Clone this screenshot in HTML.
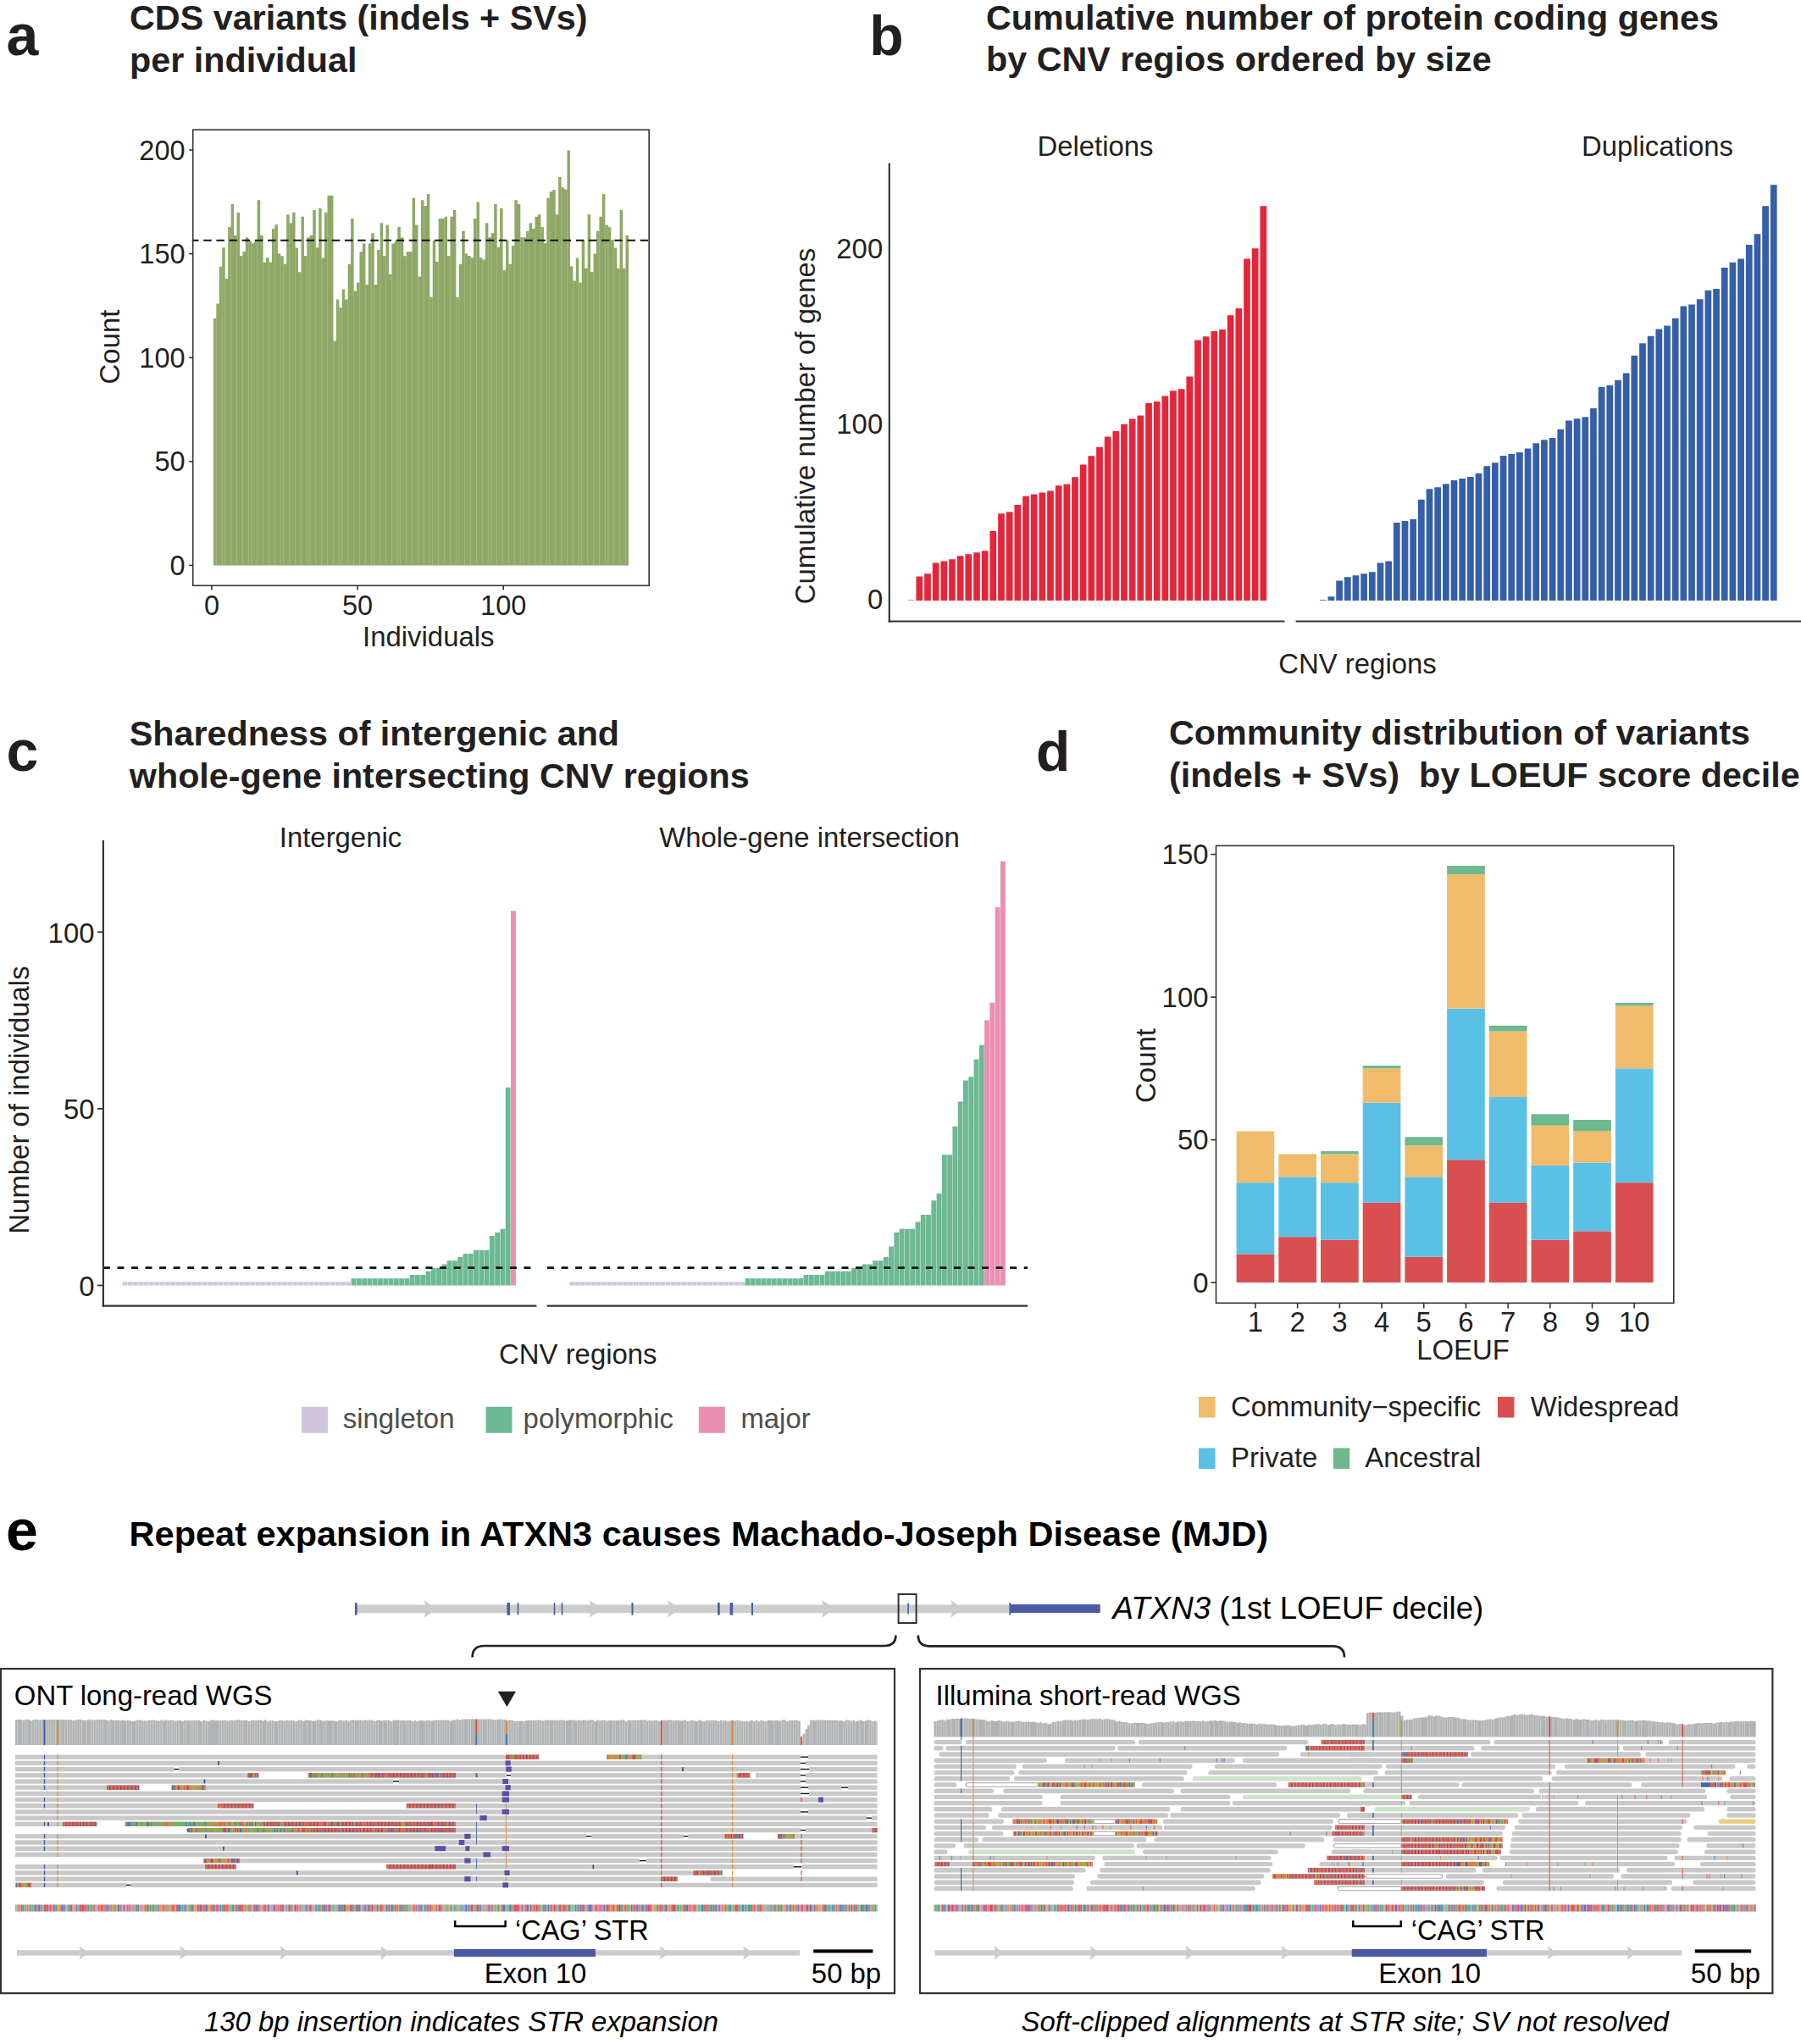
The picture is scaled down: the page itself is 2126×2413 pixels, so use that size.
<!DOCTYPE html>
<html lang="en"><head><meta charset="utf-8"><title>Figure</title>
<style>
html,body{margin:0;padding:0;background:#fff;}
body{width:2126px;height:2413px;overflow:hidden;}
svg{display:block;font-family:'Liberation Sans', Arial, Helvetica, sans-serif;}
</style></head><body>
<svg width="2126" height="2413" viewBox="0 0 2126 2413">
<rect width="2126" height="2413" fill="#ffffff"/>
<g id="panel-a">
<text x="7.6" y="65.4" font-size="68" text-anchor="start" font-weight="bold" font-style="normal" fill="#231f20">a</text>
<text x="153" y="35" font-size="41.3" text-anchor="start" font-weight="bold" font-style="normal" fill="#231f20">CDS variants (indels + SVs)</text>
<text x="153" y="84.6" font-size="41.3" text-anchor="start" font-weight="bold" font-style="normal" fill="#231f20">per individual</text>
<path d="M251.9 667.4V375.64h3.5V667.4zM255.35 667.4V358.57h3.5V667.4zM258.8 667.4V314.65h3.5V667.4zM262.25 667.4V292.31h3.5V667.4zM265.7 667.4V329.09h3.5V667.4zM269.16 667.4V268.1h3.5V667.4zM272.61 667.4V241.09h3.5V667.4zM276.06 667.4V277.87h3.5V667.4zM279.51 667.4V251.03h3.5V667.4zM282.96 667.4V301.93h3.5V667.4zM286.41 667.4V296.96h3.5V667.4zM289.86 667.4V280.2h3.5V667.4zM293.31 667.4V284.86h3.5V667.4zM296.76 667.4V287.18h3.5V667.4zM300.21 667.4V284.86h3.5V667.4zM303.67 667.4V236.13h3.5V667.4zM307.12 667.4V277.87h3.5V667.4zM310.57 667.4V309.69h3.5V667.4zM314.02 667.4V304.26h3.5V667.4zM317.47 667.4V309.38h3.5V667.4zM320.92 667.4V270.11h3.5V667.4zM324.37 667.4V265.15h3.5V667.4zM327.82 667.4V299.6h3.5V667.4zM331.27 667.4V302.24h3.5V667.4zM334.72 667.4V311.7h3.5V667.4zM338.18 667.4V253.35h3.5V667.4zM341.63 667.4V263.13h3.5V667.4zM345.08 667.4V250.72h3.5V667.4zM348.53 667.4V292.62h3.5V667.4zM351.98 667.4V321.33h3.5V667.4zM355.43 667.4V255.84h3.5V667.4zM358.88 667.4V301.93h3.5V667.4zM362.33 667.4V280.2h3.5V667.4zM365.78 667.4V277.87h3.5V667.4zM369.23 667.4V247.92h3.5V667.4zM372.69 667.4V292.31h3.5V667.4zM376.14 667.4V245.75h3.5V667.4zM379.59 667.4V304.57h3.5V667.4zM383.04 667.4V250.72h3.5V667.4zM386.49 667.4V230.85h3.5V667.4zM389.94 667.4V230.85h3.5V667.4zM393.39 667.4V402.49h3.5V667.4zM396.84 667.4V353.45h3.5V667.4zM400.29 667.4V363.23h3.5V667.4zM403.74 667.4V341.5h3.5V667.4zM407.2 667.4V353.45h3.5V667.4zM410.65 667.4V311.7h3.5V667.4zM414.1 667.4V258.01h3.5V667.4zM417.55 667.4V343.52h3.5V667.4zM421 667.4V333.74h3.5V667.4zM424.45 667.4V297.27h3.5V667.4zM427.9 667.4V287.5h3.5V667.4zM431.35 667.4V336.07h3.5V667.4zM434.8 667.4V287.5h3.5V667.4zM438.25 667.4V275.24h3.5V667.4zM441.71 667.4V336.07h3.5V667.4zM445.16 667.4V294.94h3.5V667.4zM448.61 667.4V263.13h3.5V667.4zM452.06 667.4V302.24h3.5V667.4zM455.51 667.4V265.46h3.5V667.4zM458.96 667.4V323.65h3.5V667.4zM462.41 667.4V287.5h3.5V667.4zM465.86 667.4V284.86h3.5V667.4zM469.31 667.4V268.1h3.5V667.4zM472.76 667.4V280.2h3.5V667.4zM476.22 667.4V302.24h3.5V667.4zM479.67 667.4V297.27h3.5V667.4zM483.12 667.4V297.27h3.5V667.4zM486.57 667.4V233.64h3.5V667.4zM490.02 667.4V265.46h3.5V667.4zM493.47 667.4V326.45h3.5V667.4zM496.92 667.4V236.13h3.5V667.4zM500.37 667.4V242.96h3.5V667.4zM503.82 667.4V228.99h3.5V667.4zM507.27 667.4V350.81h3.5V667.4zM510.73 667.4V284.08h3.5V667.4zM514.18 667.4V308.91h3.5V667.4zM517.63 667.4V258.01h3.5V667.4zM521.08 667.4V258.01h3.5V667.4zM524.53 667.4V255.84h3.5V667.4zM527.98 667.4V301.93h3.5V667.4zM531.43 667.4V255.84h3.5V667.4zM534.88 667.4V247.92h3.5V667.4zM538.33 667.4V350.81h3.5V667.4zM541.78 667.4V311.7h3.5V667.4zM545.24 667.4V272.75h3.5V667.4zM548.69 667.4V299.6h3.5V667.4zM552.14 667.4V301.93h3.5V667.4zM555.59 667.4V304.26h3.5V667.4zM559.04 667.4V258.01h3.5V667.4zM562.49 667.4V238.61h3.5V667.4zM565.94 667.4V304.26h3.5V667.4zM569.39 667.4V306.58h3.5V667.4zM572.84 667.4V263.13h3.5V667.4zM576.29 667.4V280.2h3.5V667.4zM579.75 667.4V275.24h3.5V667.4zM583.2 667.4V241.09h3.5V667.4zM586.65 667.4V291.84h3.5V667.4zM590.1 667.4V245.75h3.5V667.4zM593.55 667.4V319h3.5V667.4zM597 667.4V284.08h3.5V667.4zM600.45 667.4V311.7h3.5V667.4zM603.9 667.4V289.98h3.5V667.4zM607.35 667.4V236.13h3.5V667.4zM610.8 667.4V241.09h3.5V667.4zM614.25 667.4V280.2h3.5V667.4zM617.71 667.4V280.2h3.5V667.4zM621.16 667.4V272.75h3.5V667.4zM624.61 667.4V263.13h3.5V667.4zM628.06 667.4V270.11h3.5V667.4zM631.51 667.4V255.84h3.5V667.4zM634.96 667.4V253.35h3.5V667.4zM638.41 667.4V268.1h3.5V667.4zM641.86 667.4V287.18h3.5V667.4zM645.31 667.4V233.64h3.5V667.4zM648.76 667.4V226.2h3.5V667.4zM652.22 667.4V224.02h3.5V667.4zM655.67 667.4V253.35h3.5V667.4zM659.12 667.4V209.12h3.5V667.4zM662.57 667.4V221.23h3.5V667.4zM666.02 667.4V223.56h3.5V667.4zM669.47 667.4V177.47h3.5V667.4zM672.92 667.4V314.34h3.5V667.4zM676.37 667.4V331.41h3.5V667.4zM679.82 667.4V304.57h3.5V667.4zM683.27 667.4V333.74h3.5V667.4zM686.73 667.4V283.31h3.5V667.4zM690.18 667.4V316.67h3.5V667.4zM693.63 667.4V253.35h3.5V667.4zM697.08 667.4V321.33h3.5V667.4zM700.53 667.4V299.6h3.5V667.4zM703.98 667.4V272.75h3.5V667.4zM707.43 667.4V255.84h3.5V667.4zM710.88 667.4V228.99h3.5V667.4zM714.33 667.4V265.46h3.5V667.4zM717.78 667.4V268.1h3.5V667.4zM721.24 667.4V283.31h3.5V667.4zM724.69 667.4V292.62h3.5V667.4zM728.14 667.4V316.67h3.5V667.4zM731.59 667.4V247.92h3.5V667.4zM735.04 667.4V316.67h3.5V667.4zM738.49 667.4V277.87h3.5V667.4z" fill="#8fa867"/>
<path d="M255.35 667.4V375.64M262.25 667.4V314.65M265.7 667.4V329.09M272.61 667.4V268.1M279.51 667.4V277.87M286.41 667.4V301.93M293.31 667.4V284.86M296.76 667.4V287.18M303.67 667.4V284.86M310.57 667.4V309.69M317.47 667.4V309.38M324.37 667.4V270.11M331.27 667.4V302.24M334.72 667.4V311.7M341.63 667.4V263.13M348.53 667.4V292.62M355.43 667.4V321.33M362.33 667.4V301.93M365.78 667.4V280.2M372.69 667.4V292.31M379.59 667.4V304.57M386.49 667.4V250.72M393.39 667.4V402.49M400.29 667.4V363.23M403.74 667.4V363.23M410.65 667.4V353.45M417.55 667.4V343.52M424.45 667.4V333.74M431.35 667.4V336.07M438.25 667.4V287.5M441.71 667.4V336.07M448.61 667.4V294.94M455.51 667.4V302.24M462.41 667.4V323.65M469.31 667.4V284.86M472.76 667.4V280.2M479.67 667.4V302.24M486.57 667.4V297.27M493.47 667.4V326.45M500.37 667.4V242.96M507.27 667.4V350.81M510.73 667.4V350.81M517.63 667.4V308.91M524.53 667.4V258.01M531.43 667.4V301.93M538.33 667.4V350.81M541.78 667.4V350.81M548.69 667.4V299.6M555.59 667.4V304.26M562.49 667.4V258.01M569.39 667.4V306.58M576.29 667.4V280.2M579.75 667.4V280.2M586.65 667.4V291.84M593.55 667.4V319M600.45 667.4V311.7M607.35 667.4V289.98M614.25 667.4V280.2M617.71 667.4V280.2M624.61 667.4V272.75M631.51 667.4V270.11M638.41 667.4V268.1M645.31 667.4V287.18M648.76 667.4V233.64M655.67 667.4V253.35M662.57 667.4V221.23M669.47 667.4V223.56M676.37 667.4V331.41M683.27 667.4V333.74M686.73 667.4V333.74M693.63 667.4V316.67M700.53 667.4V321.33M707.43 667.4V272.75M714.33 667.4V265.46M717.78 667.4V268.1M724.69 667.4V292.62M731.59 667.4V316.67M738.49 667.4V316.67" stroke="#b4c890" stroke-width="0.55" fill="none"/>
<line x1="227.7" y1="283.7" x2="765.5" y2="283.7" stroke="#111" stroke-width="1.9" stroke-dasharray="7.6 7.56" stroke-dashoffset="1.7" stroke-linecap="square"/>
<rect x="227.7" y="153.2" width="538.5" height="538.1" fill="none" stroke="#333333" stroke-width="1.6"/>
<line x1="223.2" y1="667.4" x2="227.7" y2="667.4" stroke="#333333" stroke-width="1.6"/>
<text x="218.6" y="679" font-size="32.5" text-anchor="end" font-weight="normal" font-style="normal" fill="#231f20">0</text>
<line x1="223.2" y1="544.8" x2="227.7" y2="544.8" stroke="#333333" stroke-width="1.6"/>
<text x="218.6" y="556.4" font-size="32.5" text-anchor="end" font-weight="normal" font-style="normal" fill="#231f20">50</text>
<line x1="223.2" y1="422.2" x2="227.7" y2="422.2" stroke="#333333" stroke-width="1.6"/>
<text x="218.6" y="433.8" font-size="32.5" text-anchor="end" font-weight="normal" font-style="normal" fill="#231f20">100</text>
<line x1="223.2" y1="299.6" x2="227.7" y2="299.6" stroke="#333333" stroke-width="1.6"/>
<text x="218.6" y="311.2" font-size="32.5" text-anchor="end" font-weight="normal" font-style="normal" fill="#231f20">150</text>
<line x1="223.2" y1="177" x2="227.7" y2="177" stroke="#333333" stroke-width="1.6"/>
<text x="218.6" y="188.6" font-size="32.5" text-anchor="end" font-weight="normal" font-style="normal" fill="#231f20">200</text>
<line x1="250" y1="691.3" x2="250" y2="696.4" stroke="#333333" stroke-width="1.6"/>
<text x="250" y="726.4" font-size="32.5" text-anchor="middle" font-weight="normal" font-style="normal" fill="#231f20">0</text>
<line x1="422.1" y1="691.3" x2="422.1" y2="696.4" stroke="#333333" stroke-width="1.6"/>
<text x="422.1" y="726.4" font-size="32.5" text-anchor="middle" font-weight="normal" font-style="normal" fill="#231f20">50</text>
<line x1="594.2" y1="691.3" x2="594.2" y2="696.4" stroke="#333333" stroke-width="1.6"/>
<text x="594.2" y="726.4" font-size="32.5" text-anchor="middle" font-weight="normal" font-style="normal" fill="#231f20">100</text>
<text x="505.8" y="763.2" font-size="32.9" text-anchor="middle" font-weight="normal" font-style="normal" fill="#231f20">Individuals</text>
<text x="140.5" y="409.5" font-size="32.9" text-anchor="middle" font-weight="normal" font-style="normal" fill="#231f20" transform="rotate(-90 140.5 409.5)">Count</text>
</g>
<g id="panel-b">
<text x="1026.3" y="64.8" font-size="66" text-anchor="start" font-weight="bold" font-style="normal" fill="#231f20">b</text>
<text x="1164" y="35.3" font-size="41.3" text-anchor="start" font-weight="bold" font-style="normal" fill="#231f20">Cumulative number of protein coding genes</text>
<text x="1164" y="84.2" font-size="41.3" text-anchor="start" font-weight="bold" font-style="normal" fill="#231f20">by CNV regios ordered by size</text>
<text x="1293" y="183.8" font-size="32.9" text-anchor="middle" font-weight="normal" font-style="normal" fill="#231f20">Deletions</text>
<text x="1956.5" y="183.8" font-size="32.9" text-anchor="middle" font-weight="normal" font-style="normal" fill="#231f20">Duplications</text>
<path d="M1071.8 709V708.43h7.73V709zM1081.47 709V680.62h7.73V709zM1091.13 709V677.22h7.73V709zM1100.8 709V664.45h7.73V709zM1110.47 709V662.46h7.73V709zM1120.13 709V660.19h7.73V709zM1129.8 709V656.22h7.73V709zM1139.47 709V654.24h7.73V709zM1149.14 709V652.25h7.73V709zM1158.8 709V650.26h7.73V709zM1168.47 709V626.99h7.73V709zM1178.14 709V606.28h7.73V709zM1187.8 709V604.29h7.73V709zM1197.47 709V596.07h7.73V709zM1207.14 709V585.85h7.73V709zM1216.8 709V583.58h7.73V709zM1226.47 709V581.59h7.73V709zM1236.14 709V579.61h7.73V709zM1245.81 709V573.36h7.73V709zM1255.47 709V571.38h7.73V709zM1265.14 709V563.15h7.73V709zM1274.81 709V548.39h7.73V709zM1284.47 709V538.18h7.73V709zM1294.14 709V527.68h7.73V709zM1303.81 709V515.48h7.73V709zM1313.47 709V508.95h7.73V709zM1323.14 709V500.72h7.73V709zM1332.81 709V494.48h7.73V709zM1342.48 709V490.51h7.73V709zM1352.14 709V476.04h7.73V709zM1361.81 709V474.05h7.73V709zM1371.48 709V467.52h7.73V709zM1381.14 709V461.28h7.73V709zM1390.81 709V459.29h7.73V709zM1400.48 709V444.54h7.73V709zM1410.14 709V401.41h7.73V709zM1419.81 709V397.15h7.73V709zM1429.48 709V390.91h7.73V709zM1439.15 709V388.92h7.73V709zM1448.81 709V372.18h7.73V709zM1458.48 709V363.95h7.73V709zM1468.15 709V305.5h7.73V709zM1477.81 709V293.3h7.73V709zM1487.48 709V243.36h7.73V709z" fill="#e5253a"/>
<path d="M1557.9 709V708.32h7.73V709zM1567.57 709V704.21h7.73V709zM1577.25 709V685.4h7.73V709zM1586.92 709V681.3h7.73V709zM1596.59 709V679.24h7.73V709zM1606.27 709V677.19h7.73V709zM1615.94 709V675.14h7.73V709zM1625.61 709V664.54h7.73V709zM1635.28 709V662.48h7.73V709zM1644.96 709V616.99h7.73V709zM1654.63 709V614.94h7.73V709zM1664.3 709V612.89h7.73V709zM1673.98 709V589.63h7.73V709zM1683.65 709V577.32h7.73V709zM1693.32 709V575.26h7.73V709zM1703 709V571.16h7.73V709zM1712.67 709V567.06h7.73V709zM1722.34 709V565h7.73V709zM1732.01 709V562.95h7.73V709zM1741.69 709V558.85h7.73V709zM1751.36 709V550.3h7.73V709zM1761.03 709V546.19h7.73V709zM1770.71 709V537.98h7.73V709zM1780.38 709V535.93h7.73V709zM1790.05 709V533.88h7.73V709zM1799.73 709V529.43h7.73V709zM1809.4 709V523.27h7.73V709zM1819.07 709V519.17h7.73V709zM1828.74 709V517.12h7.73V709zM1838.42 709V506.86h7.73V709zM1848.09 709V496.6h7.73V709zM1857.76 709V494.2h7.73V709zM1867.44 709V492.15h7.73V709zM1877.11 709V481.89h7.73V709zM1886.78 709V456.92h7.73V709zM1896.46 709V454.87h7.73V709zM1906.13 709V448.71h7.73V709zM1915.8 709V440.5h7.73V709zM1925.47 709V419.64h7.73V709zM1935.15 709V405.27h7.73V709zM1944.82 709V396.72h7.73V709zM1954.49 709V388.51h7.73V709zM1964.17 709V384.41h7.73V709zM1973.84 709V375.86h7.73V709zM1983.51 709V361.49h7.73V709zM1993.19 709V359.44h7.73V709zM2002.86 709V353.28h7.73V709zM2012.53 709V342.68h7.73V709zM2022.2 709V340.97h7.73V709zM2031.88 709V316h7.73V709zM2041.55 709V309.84h7.73V709zM2051.22 709V305.4h7.73V709zM2060.9 709V288.98h7.73V709zM2070.57 709V276.32h7.73V709zM2080.24 709V243.15h7.73V709zM2089.91 709V218.18h7.73V709z" fill="#365fa9"/>
<line x1="1049.8" y1="192.6" x2="1049.8" y2="734.6" stroke="#333333" stroke-width="2.2"/>
<line x1="1048.7" y1="733.5" x2="1516.5" y2="733.5" stroke="#333333" stroke-width="2.2"/>
<line x1="1529.6" y1="733.5" x2="2126" y2="733.5" stroke="#333333" stroke-width="2.2"/>
<text x="1042.2" y="719.2" font-size="32.9" text-anchor="end" font-weight="normal" font-style="normal" fill="#231f20">0</text>
<text x="1042.2" y="512.2" font-size="32.9" text-anchor="end" font-weight="normal" font-style="normal" fill="#231f20">100</text>
<text x="1042.2" y="305.2" font-size="32.9" text-anchor="end" font-weight="normal" font-style="normal" fill="#231f20">200</text>
<text x="1602.5" y="795.3" font-size="32.9" text-anchor="middle" font-weight="normal" font-style="normal" fill="#231f20">CNV regions</text>
<text x="961.5" y="503" font-size="32.9" text-anchor="middle" font-weight="normal" font-style="normal" fill="#231f20" transform="rotate(-90 961.5 503)">Cumulative number of genes</text>
</g>
<g id="panel-c">
<text x="7.6" y="910.4" font-size="68" text-anchor="start" font-weight="bold" font-style="normal" fill="#231f20">c</text>
<text x="152.8" y="880" font-size="41.3" text-anchor="start" font-weight="bold" font-style="normal" fill="#231f20">Sharedness of intergenic and</text>
<text x="152.8" y="929.8" font-size="41.3" text-anchor="start" font-weight="bold" font-style="normal" fill="#231f20">whole-gene intersecting CNV regions</text>
<text x="402" y="1000.4" font-size="32.9" text-anchor="middle" font-weight="normal" font-style="normal" fill="#231f20">Intergenic</text>
<text x="955.5" y="1000.4" font-size="32.9" text-anchor="middle" font-weight="normal" font-style="normal" fill="#231f20">Whole-gene intersection</text>
<path d="M144.6 1517.5V1513.33h5.86V1517.5zM150.88 1517.5V1513.33h5.86V1517.5zM157.16 1517.5V1513.33h5.86V1517.5zM163.44 1517.5V1513.33h5.86V1517.5zM169.72 1517.5V1513.33h5.86V1517.5zM176 1517.5V1513.33h5.86V1517.5zM182.28 1517.5V1513.33h5.86V1517.5zM188.56 1517.5V1513.33h5.86V1517.5zM194.84 1517.5V1513.33h5.86V1517.5zM201.12 1517.5V1513.33h5.86V1517.5zM207.4 1517.5V1513.33h5.86V1517.5zM213.68 1517.5V1513.33h5.86V1517.5zM219.96 1517.5V1513.33h5.86V1517.5zM226.24 1517.5V1513.33h5.86V1517.5zM232.52 1517.5V1513.33h5.86V1517.5zM238.8 1517.5V1513.33h5.86V1517.5zM245.08 1517.5V1513.33h5.86V1517.5zM251.36 1517.5V1513.33h5.86V1517.5zM257.64 1517.5V1513.33h5.86V1517.5zM263.92 1517.5V1513.33h5.86V1517.5zM270.2 1517.5V1513.33h5.86V1517.5zM276.48 1517.5V1513.33h5.86V1517.5zM282.76 1517.5V1513.33h5.86V1517.5zM289.04 1517.5V1513.33h5.86V1517.5zM295.32 1517.5V1513.33h5.86V1517.5zM301.6 1517.5V1513.33h5.86V1517.5zM307.88 1517.5V1513.33h5.86V1517.5zM314.16 1517.5V1513.33h5.86V1517.5zM320.44 1517.5V1513.33h5.86V1517.5zM326.72 1517.5V1513.33h5.86V1517.5zM333 1517.5V1513.33h5.86V1517.5zM339.28 1517.5V1513.33h5.86V1517.5zM345.56 1517.5V1513.33h5.86V1517.5zM351.84 1517.5V1513.33h5.86V1517.5zM358.12 1517.5V1513.33h5.86V1517.5zM364.4 1517.5V1513.33h5.86V1517.5zM370.68 1517.5V1513.33h5.86V1517.5zM376.96 1517.5V1513.33h5.86V1517.5zM383.24 1517.5V1513.33h5.86V1517.5zM389.52 1517.5V1513.33h5.86V1517.5zM395.8 1517.5V1513.33h5.86V1517.5zM402.08 1517.5V1513.33h5.86V1517.5zM408.36 1517.5V1513.33h5.86V1517.5z" fill="#d3c5de"/>
<path d="M414.64 1517.5V1509.16h5.86V1517.5zM420.92 1517.5V1509.16h5.86V1517.5zM427.2 1517.5V1509.16h5.86V1517.5zM433.48 1517.5V1509.16h5.86V1517.5zM439.76 1517.5V1509.16h5.86V1517.5zM446.04 1517.5V1509.16h5.86V1517.5zM452.32 1517.5V1509.16h5.86V1517.5zM458.6 1517.5V1509.16h5.86V1517.5zM464.88 1517.5V1509.16h5.86V1517.5zM471.16 1517.5V1509.16h5.86V1517.5zM477.44 1517.5V1509.16h5.86V1517.5zM483.72 1517.5V1504.98h5.86V1517.5zM490 1517.5V1504.98h5.86V1517.5zM496.28 1517.5V1504.98h5.86V1517.5zM502.56 1517.5V1500.81h5.86V1517.5zM508.84 1517.5V1496.64h5.86V1517.5zM515.12 1517.5V1496.64h5.86V1517.5zM521.4 1517.5V1492.47h5.86V1517.5zM527.68 1517.5V1488.3h5.86V1517.5zM533.96 1517.5V1488.3h5.86V1517.5zM540.24 1517.5V1484.12h5.86V1517.5zM546.52 1517.5V1479.95h5.86V1517.5zM552.8 1517.5V1479.95h5.86V1517.5zM559.08 1517.5V1475.78h5.86V1517.5zM565.36 1517.5V1475.78h5.86V1517.5zM571.64 1517.5V1475.78h5.86V1517.5zM577.92 1517.5V1459.09h5.86V1517.5zM584.2 1517.5V1454.92h5.86V1517.5zM590.48 1517.5V1450.75h5.86V1517.5zM596.76 1517.5V1283.87h5.86V1517.5z" fill="#6db994"/>
<path d="M603.04 1517.5V1075.27h5.86V1517.5z" fill="#ea8fb2"/>
<path d="M672.3 1517.5V1513.33h5.86V1517.5zM678.58 1517.5V1513.33h5.86V1517.5zM684.86 1517.5V1513.33h5.86V1517.5zM691.14 1517.5V1513.33h5.86V1517.5zM697.42 1517.5V1513.33h5.86V1517.5zM703.7 1517.5V1513.33h5.86V1517.5zM709.98 1517.5V1513.33h5.86V1517.5zM716.26 1517.5V1513.33h5.86V1517.5zM722.54 1517.5V1513.33h5.86V1517.5zM728.82 1517.5V1513.33h5.86V1517.5zM735.1 1517.5V1513.33h5.86V1517.5zM741.38 1517.5V1513.33h5.86V1517.5zM747.66 1517.5V1513.33h5.86V1517.5zM753.94 1517.5V1513.33h5.86V1517.5zM760.22 1517.5V1513.33h5.86V1517.5zM766.5 1517.5V1513.33h5.86V1517.5zM772.78 1517.5V1513.33h5.86V1517.5zM779.06 1517.5V1513.33h5.86V1517.5zM785.34 1517.5V1513.33h5.86V1517.5zM791.62 1517.5V1513.33h5.86V1517.5zM797.9 1517.5V1513.33h5.86V1517.5zM804.18 1517.5V1513.33h5.86V1517.5zM810.46 1517.5V1513.33h5.86V1517.5zM816.74 1517.5V1513.33h5.86V1517.5zM823.02 1517.5V1513.33h5.86V1517.5zM829.3 1517.5V1513.33h5.86V1517.5zM835.58 1517.5V1513.33h5.86V1517.5zM841.86 1517.5V1513.33h5.86V1517.5zM848.14 1517.5V1513.33h5.86V1517.5zM854.42 1517.5V1513.33h5.86V1517.5zM860.7 1517.5V1513.33h5.86V1517.5zM866.98 1517.5V1513.33h5.86V1517.5zM873.26 1517.5V1513.33h5.86V1517.5z" fill="#d3c5de"/>
<path d="M879.54 1517.5V1509.16h5.86V1517.5zM885.82 1517.5V1509.16h5.86V1517.5zM892.1 1517.5V1509.16h5.86V1517.5zM898.38 1517.5V1509.16h5.86V1517.5zM904.66 1517.5V1509.16h5.86V1517.5zM910.94 1517.5V1509.16h5.86V1517.5zM917.22 1517.5V1509.16h5.86V1517.5zM923.5 1517.5V1509.16h5.86V1517.5zM929.78 1517.5V1509.16h5.86V1517.5zM936.06 1517.5V1509.16h5.86V1517.5zM942.34 1517.5V1509.16h5.86V1517.5zM948.62 1517.5V1504.98h5.86V1517.5zM954.9 1517.5V1504.98h5.86V1517.5zM961.18 1517.5V1504.98h5.86V1517.5zM967.46 1517.5V1504.98h5.86V1517.5zM973.74 1517.5V1500.81h5.86V1517.5zM980.02 1517.5V1500.81h5.86V1517.5zM986.3 1517.5V1500.81h5.86V1517.5zM992.58 1517.5V1500.81h5.86V1517.5zM998.86 1517.5V1500.81h5.86V1517.5zM1005.14 1517.5V1496.64h5.86V1517.5zM1011.42 1517.5V1496.64h5.86V1517.5zM1017.7 1517.5V1492.47h5.86V1517.5zM1023.98 1517.5V1492.47h5.86V1517.5zM1030.26 1517.5V1488.3h5.86V1517.5zM1036.54 1517.5V1488.3h5.86V1517.5zM1042.82 1517.5V1484.12h5.86V1517.5zM1049.1 1517.5V1471.61h5.86V1517.5zM1055.38 1517.5V1454.92h5.86V1517.5zM1061.66 1517.5V1450.75h5.86V1517.5zM1067.94 1517.5V1450.75h5.86V1517.5zM1074.22 1517.5V1450.75h5.86V1517.5zM1080.5 1517.5V1442.4h5.86V1517.5zM1086.78 1517.5V1434.06h5.86V1517.5zM1093.06 1517.5V1434.06h5.86V1517.5zM1099.34 1517.5V1417.37h5.86V1517.5zM1105.62 1517.5V1409.03h5.86V1517.5zM1111.9 1517.5V1363.14h5.86V1517.5zM1118.18 1517.5V1363.14h5.86V1517.5zM1124.46 1517.5V1329.76h5.86V1517.5zM1130.74 1517.5V1300.56h5.86V1517.5zM1137.02 1517.5V1275.52h5.86V1517.5zM1143.3 1517.5V1271.35h5.86V1517.5zM1149.58 1517.5V1250.49h5.86V1517.5zM1155.86 1517.5V1233.8h5.86V1517.5z" fill="#6db994"/>
<path d="M1162.14 1517.5V1204.6h5.86V1517.5zM1168.42 1517.5V1183.74h5.86V1517.5zM1174.7 1517.5V1071.1h5.86V1517.5zM1180.98 1517.5V1016.86h5.86V1517.5z" fill="#ea8fb2"/>
<line x1="121.9" y1="1496.64" x2="626.5" y2="1496.64" stroke="#111" stroke-width="2.6" stroke-dasharray="8 8.55"/>
<line x1="646" y1="1496.64" x2="1213" y2="1496.64" stroke="#111" stroke-width="2.6" stroke-dasharray="8 8.55"/>
<line x1="121.9" y1="992" x2="121.9" y2="1542.7" stroke="#333333" stroke-width="2.2"/>
<line x1="120.8" y1="1541.6" x2="633.4" y2="1541.6" stroke="#333333" stroke-width="2.2"/>
<line x1="645.8" y1="1541.6" x2="1213.2" y2="1541.6" stroke="#333333" stroke-width="2.2"/>
<line x1="115" y1="1517.5" x2="121.9" y2="1517.5" stroke="#333333" stroke-width="1.8"/>
<text x="111.5" y="1529.7" font-size="32.9" text-anchor="end" font-weight="normal" font-style="normal" fill="#231f20">0</text>
<line x1="115" y1="1308.9" x2="121.9" y2="1308.9" stroke="#333333" stroke-width="1.8"/>
<text x="111.5" y="1321.1" font-size="32.9" text-anchor="end" font-weight="normal" font-style="normal" fill="#231f20">50</text>
<line x1="115" y1="1100.3" x2="121.9" y2="1100.3" stroke="#333333" stroke-width="1.8"/>
<text x="111.5" y="1112.5" font-size="32.9" text-anchor="end" font-weight="normal" font-style="normal" fill="#231f20">100</text>
<text x="682.3" y="1609.5" font-size="32.9" text-anchor="middle" font-weight="normal" font-style="normal" fill="#231f20">CNV regions</text>
<text x="33.5" y="1298.5" font-size="32.9" text-anchor="middle" font-weight="normal" font-style="normal" fill="#231f20" transform="rotate(-90 33.5 1298.5)">Number of individuals</text>
<rect x="356" y="1660.7" width="31" height="31" fill="#d3c5de"/>
<text x="404.8" y="1685.5" font-size="32.9" text-anchor="start" font-weight="normal" font-style="normal" fill="#4d4d4d">singleton</text>
<rect x="573.5" y="1660.7" width="31" height="31" fill="#6db994"/>
<text x="617.6" y="1685.5" font-size="32.9" text-anchor="start" font-weight="normal" font-style="normal" fill="#4d4d4d">polymorphic</text>
<rect x="824.8" y="1660.7" width="31" height="31" fill="#ea8fb2"/>
<text x="874.4" y="1685.5" font-size="32.9" text-anchor="start" font-weight="normal" font-style="normal" fill="#4d4d4d">major</text>
</g>
<g id="panel-d">
<text x="1223" y="910.4" font-size="66" text-anchor="start" font-weight="bold" font-style="normal" fill="#231f20">d</text>
<text x="1380" y="879.1" font-size="41.3" text-anchor="start" font-weight="bold" font-style="normal" fill="#231f20">Community distribution of variants</text>
<text x="1380" y="929" font-size="41.3" text-anchor="start" font-weight="bold" font-style="normal" fill="#231f20" style="white-space:pre">(indels + SVs)  by LOEUF score decile</text>
<rect x="1459.6" y="1480.4" width="44.7" height="33.7" fill="#d94f50"/>
<rect x="1459.6" y="1396.15" width="44.7" height="84.25" fill="#5bc0e6"/>
<rect x="1459.6" y="1335.49" width="44.7" height="60.66" fill="#f0bc6c"/>
<rect x="1509.3" y="1460.18" width="44.7" height="53.92" fill="#d94f50"/>
<rect x="1509.3" y="1389.41" width="44.7" height="70.77" fill="#5bc0e6"/>
<rect x="1509.3" y="1362.45" width="44.7" height="26.96" fill="#f0bc6c"/>
<rect x="1559" y="1463.55" width="44.7" height="50.55" fill="#d94f50"/>
<rect x="1559" y="1396.15" width="44.7" height="67.4" fill="#5bc0e6"/>
<rect x="1559" y="1362.45" width="44.7" height="33.7" fill="#f0bc6c"/>
<rect x="1559" y="1359.08" width="44.7" height="3.37" fill="#6fb88e"/>
<rect x="1608.7" y="1419.74" width="44.7" height="94.36" fill="#d94f50"/>
<rect x="1608.7" y="1301.79" width="44.7" height="117.95" fill="#5bc0e6"/>
<rect x="1608.7" y="1261.35" width="44.7" height="40.44" fill="#f0bc6c"/>
<rect x="1608.7" y="1257.98" width="44.7" height="3.37" fill="#6fb88e"/>
<rect x="1658.4" y="1483.77" width="44.7" height="30.33" fill="#d94f50"/>
<rect x="1658.4" y="1389.41" width="44.7" height="94.36" fill="#5bc0e6"/>
<rect x="1658.4" y="1352.34" width="44.7" height="37.07" fill="#f0bc6c"/>
<rect x="1658.4" y="1342.23" width="44.7" height="10.11" fill="#6fb88e"/>
<rect x="1708.1" y="1369.19" width="44.7" height="144.91" fill="#d94f50"/>
<rect x="1708.1" y="1190.58" width="44.7" height="178.61" fill="#5bc0e6"/>
<rect x="1708.1" y="1032.19" width="44.7" height="158.39" fill="#f0bc6c"/>
<rect x="1708.1" y="1022.08" width="44.7" height="10.11" fill="#6fb88e"/>
<rect x="1757.8" y="1419.74" width="44.7" height="94.36" fill="#d94f50"/>
<rect x="1757.8" y="1295.05" width="44.7" height="124.69" fill="#5bc0e6"/>
<rect x="1757.8" y="1217.54" width="44.7" height="77.51" fill="#f0bc6c"/>
<rect x="1757.8" y="1210.8" width="44.7" height="6.74" fill="#6fb88e"/>
<rect x="1807.5" y="1463.55" width="44.7" height="50.55" fill="#d94f50"/>
<rect x="1807.5" y="1375.93" width="44.7" height="87.62" fill="#5bc0e6"/>
<rect x="1807.5" y="1328.75" width="44.7" height="47.18" fill="#f0bc6c"/>
<rect x="1807.5" y="1315.27" width="44.7" height="13.48" fill="#6fb88e"/>
<rect x="1857.2" y="1453.44" width="44.7" height="60.66" fill="#d94f50"/>
<rect x="1857.2" y="1372.56" width="44.7" height="80.88" fill="#5bc0e6"/>
<rect x="1857.2" y="1335.49" width="44.7" height="37.07" fill="#f0bc6c"/>
<rect x="1857.2" y="1322.01" width="44.7" height="13.48" fill="#6fb88e"/>
<rect x="1906.9" y="1396.15" width="44.7" height="117.95" fill="#d94f50"/>
<rect x="1906.9" y="1261.35" width="44.7" height="134.8" fill="#5bc0e6"/>
<rect x="1906.9" y="1187.21" width="44.7" height="74.14" fill="#f0bc6c"/>
<rect x="1906.9" y="1183.84" width="44.7" height="3.37" fill="#6fb88e"/>
<rect x="1435.5" y="998.4" width="540.3" height="539.9" fill="none" stroke="#333333" stroke-width="1.6"/>
<line x1="1429.3" y1="1514.1" x2="1435.5" y2="1514.1" stroke="#333333" stroke-width="1.6"/>
<text x="1426.5" y="1525.9" font-size="32.9" text-anchor="end" font-weight="normal" font-style="normal" fill="#231f20">0</text>
<line x1="1429.3" y1="1345.6" x2="1435.5" y2="1345.6" stroke="#333333" stroke-width="1.6"/>
<text x="1426.5" y="1357.4" font-size="32.9" text-anchor="end" font-weight="normal" font-style="normal" fill="#231f20">50</text>
<line x1="1429.3" y1="1177.1" x2="1435.5" y2="1177.1" stroke="#333333" stroke-width="1.6"/>
<text x="1426.5" y="1188.9" font-size="32.9" text-anchor="end" font-weight="normal" font-style="normal" fill="#231f20">100</text>
<line x1="1429.3" y1="1008.6" x2="1435.5" y2="1008.6" stroke="#333333" stroke-width="1.6"/>
<text x="1426.5" y="1020.4" font-size="32.9" text-anchor="end" font-weight="normal" font-style="normal" fill="#231f20">150</text>
<line x1="1481.95" y1="1538.3" x2="1481.95" y2="1544.5" stroke="#333333" stroke-width="1.6"/>
<text x="1481.95" y="1571.7" font-size="32.9" text-anchor="middle" font-weight="normal" font-style="normal" fill="#231f20">1</text>
<line x1="1531.65" y1="1538.3" x2="1531.65" y2="1544.5" stroke="#333333" stroke-width="1.6"/>
<text x="1531.65" y="1571.7" font-size="32.9" text-anchor="middle" font-weight="normal" font-style="normal" fill="#231f20">2</text>
<line x1="1581.35" y1="1538.3" x2="1581.35" y2="1544.5" stroke="#333333" stroke-width="1.6"/>
<text x="1581.35" y="1571.7" font-size="32.9" text-anchor="middle" font-weight="normal" font-style="normal" fill="#231f20">3</text>
<line x1="1631.05" y1="1538.3" x2="1631.05" y2="1544.5" stroke="#333333" stroke-width="1.6"/>
<text x="1631.05" y="1571.7" font-size="32.9" text-anchor="middle" font-weight="normal" font-style="normal" fill="#231f20">4</text>
<line x1="1680.75" y1="1538.3" x2="1680.75" y2="1544.5" stroke="#333333" stroke-width="1.6"/>
<text x="1680.75" y="1571.7" font-size="32.9" text-anchor="middle" font-weight="normal" font-style="normal" fill="#231f20">5</text>
<line x1="1730.45" y1="1538.3" x2="1730.45" y2="1544.5" stroke="#333333" stroke-width="1.6"/>
<text x="1730.45" y="1571.7" font-size="32.9" text-anchor="middle" font-weight="normal" font-style="normal" fill="#231f20">6</text>
<line x1="1780.15" y1="1538.3" x2="1780.15" y2="1544.5" stroke="#333333" stroke-width="1.6"/>
<text x="1780.15" y="1571.7" font-size="32.9" text-anchor="middle" font-weight="normal" font-style="normal" fill="#231f20">7</text>
<line x1="1829.85" y1="1538.3" x2="1829.85" y2="1544.5" stroke="#333333" stroke-width="1.6"/>
<text x="1829.85" y="1571.7" font-size="32.9" text-anchor="middle" font-weight="normal" font-style="normal" fill="#231f20">8</text>
<line x1="1879.55" y1="1538.3" x2="1879.55" y2="1544.5" stroke="#333333" stroke-width="1.6"/>
<text x="1879.55" y="1571.7" font-size="32.9" text-anchor="middle" font-weight="normal" font-style="normal" fill="#231f20">9</text>
<line x1="1929.25" y1="1538.3" x2="1929.25" y2="1544.5" stroke="#333333" stroke-width="1.6"/>
<text x="1929.25" y="1571.7" font-size="32.9" text-anchor="middle" font-weight="normal" font-style="normal" fill="#231f20">10</text>
<text x="1727" y="1605" font-size="32.9" text-anchor="middle" font-weight="normal" font-style="normal" fill="#231f20">LOEUF</text>
<text x="1363.5" y="1258" font-size="32.9" text-anchor="middle" font-weight="normal" font-style="normal" fill="#231f20" transform="rotate(-90 1363.5 1258)">Count</text>
<rect x="1415" y="1649" width="19.5" height="24.5" fill="#f0bc6c"/>
<text x="1453" y="1671.7" font-size="32.9" text-anchor="start" font-weight="normal" font-style="normal" fill="#231f20">Community−specific</text>
<rect x="1768" y="1649" width="19.5" height="24.5" fill="#d94f50"/>
<text x="1806.7" y="1671.7" font-size="32.9" text-anchor="start" font-weight="normal" font-style="normal" fill="#231f20">Widespread</text>
<rect x="1415" y="1709.5" width="19.5" height="24.5" fill="#5bc0e6"/>
<text x="1453" y="1731.8" font-size="32.9" text-anchor="start" font-weight="normal" font-style="normal" fill="#231f20">Private</text>
<rect x="1573.8" y="1709.5" width="19.5" height="24.5" fill="#6fb88e"/>
<text x="1611.3" y="1731.8" font-size="32.9" text-anchor="start" font-weight="normal" font-style="normal" fill="#231f20">Ancestral</text>
</g>
<g id="panel-e">
<text x="7" y="1829.5" font-size="68" text-anchor="start" font-weight="bold" font-style="normal" fill="#000">e</text>
<text x="152.6" y="1824.6" font-size="41.5" text-anchor="start" font-weight="bold" font-style="normal" fill="#000">Repeat expansion in ATXN3 causes Machado-Joseph Disease (MJD)</text>
<rect x="419" y="1894.4" width="773.2" height="9.8" fill="#cbcdcc"/>
<path d="M500.6 1888.9L515.1 1899.3L500.6 1909.7L503.21 1899.3z" fill="#cbcdcc"/>
<path d="M695.8 1888.9L710.3 1899.3L695.8 1909.7L698.41 1899.3z" fill="#cbcdcc"/>
<path d="M788 1888.9L802.5 1899.3L788 1909.7L790.61 1899.3z" fill="#cbcdcc"/>
<path d="M970.3 1888.9L984.8 1899.3L970.3 1909.7L972.91 1899.3z" fill="#cbcdcc"/>
<path d="M1122.5 1888.9L1137 1899.3L1122.5 1909.7L1125.11 1899.3z" fill="#cbcdcc"/>
<rect x="419" y="1892" width="2.6" height="14.6" fill="#4d5ba6"/>
<rect x="598.4" y="1892" width="3.6" height="14.6" fill="#4d5ba6"/>
<rect x="610.7" y="1892" width="1.6" height="14.6" fill="#4d5ba6"/>
<rect x="653.7" y="1892" width="1.6" height="14.6" fill="#4d5ba6"/>
<rect x="662.7" y="1892" width="1.6" height="14.6" fill="#4d5ba6"/>
<rect x="745.5" y="1892" width="2" height="14.6" fill="#4d5ba6"/>
<rect x="847.1" y="1892" width="2.6" height="14.6" fill="#4d5ba6"/>
<rect x="861.6" y="1892" width="3.6" height="14.6" fill="#4d5ba6"/>
<rect x="887" y="1892" width="2" height="14.6" fill="#4d5ba6"/>
<rect x="1071.3" y="1892.5" width="1.6" height="13" fill="#4d5ba6"/>
<rect x="1192.2" y="1894" width="106.6" height="10" fill="#4d5ba6"/>
<rect x="1191.4" y="1892" width="1.8" height="14.6" fill="#4d5ba6"/>
<rect x="1060.6" y="1882" width="21" height="34" fill="none" stroke="#333" stroke-width="2"/>
<text x="1313.6" y="1911.2" font-size="36.7" fill="#000"><tspan font-style="italic">ATXN3</tspan> (1st LOEUF decile)</text>
<path d="M557.6 1956.6Q557.6 1943 571.5 1943H1044Q1057.4 1943 1057.4 1930.6" fill="none" stroke="#222" stroke-width="2.7"/>
<path d="M1083.8 1930.6Q1083.8 1943.4 1097.5 1943.4H1573.5Q1587 1943.4 1587 1956.6" fill="none" stroke="#222" stroke-width="2.7"/>
<rect x="1" y="1970" width="1055" height="383.1" fill="#fff" stroke="#333" stroke-width="2.2"/>
<rect x="1086" y="1970" width="1006.4" height="383.1" fill="#fff" stroke="#333" stroke-width="2.2"/>
<text x="16.8" y="2012.8" font-size="32.9" text-anchor="start" font-weight="normal" font-style="normal" fill="#000">ONT long-read WGS</text>
<path d="M587.8 1996.8H609L598.4 2014.9z" fill="#231f20"/>
<path d="M18 2060L18 2030.3L20.8 2030.3L20.8 2030.1L23.6 2030.1L23.6 2030.3L26.4 2030.3L26.4 2030.7L29.2 2030.7L29.2 2029.9L32 2029.9L32 2029.9L34.8 2029.9L34.8 2031.2L37.6 2031.2L37.6 2030.5L40.4 2030.5L40.4 2029.9L43.2 2029.9L43.2 2030.3L46 2030.3L46 2030.5L48.8 2030.5L48.8 2029.9L51.6 2029.9L51.6 2030.5L54.4 2030.5L54.4 2030.1L57.2 2030.1L57.2 2029.9L60 2029.9L60 2029.9L62.8 2029.9L62.8 2030.3L65.6 2030.3L65.6 2030.3L68.4 2030.3L68.4 2029.9L71.2 2029.9L71.2 2030.1L74 2030.1L74 2029.9L76.8 2029.9L76.8 2030.5L79.6 2030.5L79.6 2030.3L82.4 2030.3L82.4 2029.9L85.2 2029.9L85.2 2031.2L88 2031.2L88 2030.5L90.8 2030.5L90.8 2029.9L93.6 2029.9L93.6 2030.1L96.4 2030.1L96.4 2030.7L99.2 2030.7L99.2 2030.7L102 2030.7L102 2030.5L104.8 2030.5L104.8 2029.9L107.6 2029.9L107.6 2030.5L110.4 2030.5L110.4 2030.5L113.2 2030.5L113.2 2030.3L116 2030.3L116 2029.9L118.8 2029.9L118.8 2030.1L121.6 2030.1L121.6 2029.9L124.4 2029.9L124.4 2030.5L127.2 2030.5L127.2 2031.2L130 2031.2L130 2030.1L132.8 2030.1L132.8 2031L135.6 2031L135.6 2031L138.4 2031L138.4 2030.8L141.2 2030.8L141.2 2031.2L144 2031.2L144 2030.6L146.8 2030.6L146.8 2031.2L149.6 2031.2L149.6 2031L152.4 2031L152.4 2031.2L155.2 2031.2L155.2 2031.9L158 2031.9L158 2031.4L160.8 2031.4L160.8 2030.8L163.6 2030.8L163.6 2030.6L166.4 2030.6L166.4 2031.2L169.2 2031.2L169.2 2031.2L172 2031.2L172 2031.4L174.8 2031.4L174.8 2030.8L177.6 2030.8L177.6 2031L180.4 2031L180.4 2030.6L183.2 2030.6L183.2 2031.2L186 2031.2L186 2031.4L188.8 2031.4L188.8 2030.6L191.6 2030.6L191.6 2031.2L194.4 2031.2L194.4 2030.6L197.2 2030.6L197.2 2031.2L200 2031.2L200 2030.8L202.8 2030.8L202.8 2031L205.6 2031L205.6 2031.4L208.4 2031.4L208.4 2031.2L211.2 2031.2L211.2 2031L214 2031L214 2031.9L216.8 2031.9L216.8 2031L219.6 2031L219.6 2031L222.4 2031L222.4 2031.2L225.2 2031.2L225.2 2031L228 2031L228 2031L230.8 2031L230.8 2031L233.6 2031L233.6 2030.8L236.4 2030.8L236.4 2031.9L239.2 2031.9L239.2 2030.8L242 2030.8L242 2031.4L244.8 2031.4L244.8 2031.9L247.6 2031.9L247.6 2030.8L250.4 2030.8L250.4 2030.6L253.2 2030.6L253.2 2031.2L256 2031.2L256 2031L258.8 2031L258.8 2031.2L261.6 2031.2L261.6 2031L264.4 2031L264.4 2031L267.2 2031L267.2 2031.4L270 2031.4L270 2031L272.8 2031L272.8 2031L275.6 2031L275.6 2031.2L278.4 2031.2L278.4 2030.6L281.2 2030.6L281.2 2030.6L284 2030.6L284 2031.2L286.8 2031.2L286.8 2031L289.6 2031L289.6 2030.8L292.4 2030.8L292.4 2031.9L295.2 2031.9L295.2 2031L298 2031L298 2030.8L300.8 2030.8L300.8 2031L303.6 2031L303.6 2031L306.4 2031L306.4 2030.6L309.2 2030.6L309.2 2031.4L312 2031.4L312 2030.6L314.8 2030.6L314.8 2031.9L317.6 2031.9L317.6 2031.2L320.4 2031.2L320.4 2031.2L323.2 2031.2L323.2 2031.9L326 2031.9L326 2031.9L328.8 2031.9L328.8 2031L331.6 2031L331.6 2031L334.4 2031L334.4 2031.4L337.2 2031.4L337.2 2031L340 2031L340 2031.2L342.8 2031.2L342.8 2031L345.6 2031L345.6 2031.2L348.4 2031.2L348.4 2031.9L351.2 2031.9L351.2 2031L354 2031L354 2030.6L356.8 2030.6L356.8 2031.9L359.6 2031.9L359.6 2030.6L362.4 2030.6L362.4 2031L365.2 2031L365.2 2031L368 2031L368 2031.4L370.8 2031.4L370.8 2031.4L373.6 2031.4L373.6 2030.6L376.4 2030.6L376.4 2030.6L379.2 2030.6L379.2 2031.4L382 2031.4L382 2031.4L384.8 2031.4L384.8 2031L387.6 2031L387.6 2031.4L390.4 2031.4L390.4 2031.2L393.2 2031.2L393.2 2031.4L396 2031.4L396 2031.9L398.8 2031.9L398.8 2031L401.6 2031L401.6 2031L404.4 2031L404.4 2031.4L407.2 2031.4L407.2 2031L410 2031L410 2031.4L412.8 2031.4L412.8 2031L415.6 2031L415.6 2030.6L418.4 2030.6L418.4 2031L421.2 2031L421.2 2031L424 2031L424 2030.8L426.8 2030.8L426.8 2031.2L429.6 2031.2L429.6 2030.6L432.4 2030.6L432.4 2031L435.2 2031L435.2 2030.6L438 2030.6L438 2030.8L440.8 2030.8L440.8 2031.9L443.6 2031.9L443.6 2031L446.4 2031L446.4 2030.8L449.2 2030.8L449.2 2031.4L452 2031.4L452 2030.8L454.8 2030.8L454.8 2031L457.6 2031L457.6 2031L460.4 2031L460.4 2031.9L463.2 2031.9L463.2 2031L466 2031L466 2030.6L468.8 2030.6L468.8 2030.8L471.6 2030.8L471.6 2031L474.4 2031L474.4 2031L477.2 2031L477.2 2031.2L480 2031.2L480 2031L482.8 2031L482.8 2030.8L485.6 2030.8L485.6 2031.9L488.4 2031.9L488.4 2031L491.2 2031L491.2 2031.9L494 2031.9L494 2031.2L496.8 2031.2L496.8 2031L499.6 2031L499.6 2031.4L502.4 2031.4L502.4 2031L505.2 2031L505.2 2031L508 2031L508 2031.4L510.8 2031.4L510.8 2031L513.6 2031L513.6 2030.8L516.4 2030.8L516.4 2030.8L519.2 2030.8L519.2 2030.6L522 2030.6L522 2030.8L524.8 2030.8L524.8 2030.8L527.6 2030.8L527.6 2030.8L530.4 2030.8L530.4 2031.4L533.2 2031.4L533.2 2030.8L536 2030.8L536 2030.6L538.8 2030.6L538.8 2029.6L541.6 2029.6L541.6 2030.5L544.4 2030.5L544.4 2029.8L547.2 2029.8L547.2 2029.4L550 2029.4L550 2029.6L552.8 2029.6L552.8 2029.6L555.6 2029.6L555.6 2029.2L558.4 2029.2L558.4 2029.4L561.2 2029.4L561.2 2029.6L564 2029.6L564 2029.8L566.8 2029.8L566.8 2029.6L569.6 2029.6L569.6 2029.8L572.4 2029.8L572.4 2029.8L575.2 2029.8L575.2 2029.6L578 2029.6L578 2029.4L580.8 2029.4L580.8 2030L583.6 2030L583.6 2030.5L586.4 2030.5L586.4 2029.8L589.2 2029.8L589.2 2029.8L592 2029.8L592 2030L594.8 2030L594.8 2030L597.6 2030L597.6 2031.4L600.4 2031.4L600.4 2030.6L603.2 2030.6L603.2 2031L606 2031L606 2031.9L608.8 2031.9L608.8 2031.9L611.6 2031.9L611.6 2031.9L614.4 2031.9L614.4 2031.4L617.2 2031.4L617.2 2031.9L620 2031.9L620 2031.2L622.8 2031.2L622.8 2031L625.6 2031L625.6 2031L628.4 2031L628.4 2031L631.2 2031L631.2 2031L634 2031L634 2030.6L636.8 2030.6L636.8 2031L639.6 2031L639.6 2031.4L642.4 2031.4L642.4 2031L645.2 2031L645.2 2030.6L648 2030.6L648 2030.8L650.8 2030.8L650.8 2030.6L653.6 2030.6L653.6 2030.8L656.4 2030.8L656.4 2031L659.2 2031L659.2 2030.8L662 2030.8L662 2030.6L664.8 2030.6L664.8 2031L667.6 2031L667.6 2031.2L670.4 2031.2L670.4 2030.6L673.2 2030.6L673.2 2030.6L676 2030.6L676 2030.6L678.8 2030.6L678.8 2031.2L681.6 2031.2L681.6 2030.8L684.4 2030.8L684.4 2031.2L687.2 2031.2L687.2 2030.6L690 2030.6L690 2031L692.8 2031L692.8 2031.2L695.6 2031.2L695.6 2030.6L698.4 2030.6L698.4 2030.6L701.2 2030.6L701.2 2031.9L704 2031.9L704 2030.8L706.8 2030.8L706.8 2031.2L709.6 2031.2L709.6 2031L712.4 2031L712.4 2030.8L715.2 2030.8L715.2 2031.4L718 2031.4L718 2031L720.8 2031L720.8 2031L723.6 2031L723.6 2031.2L726.4 2031.2L726.4 2031L729.2 2031L729.2 2031L732 2031L732 2030.6L734.8 2030.6L734.8 2030.6L737.6 2030.6L737.6 2031.9L740.4 2031.9L740.4 2031L743.2 2031L743.2 2031L746 2031L746 2031L748.8 2031L748.8 2031L751.6 2031L751.6 2031L754.4 2031L754.4 2030.6L757.2 2030.6L757.2 2030.8L760 2030.8L760 2030.6L762.8 2030.6L762.8 2031.4L765.6 2031.4L765.6 2031L768.4 2031L768.4 2031.4L771.2 2031.4L771.2 2031L774 2031L774 2031L776.8 2031L776.8 2031.9L779.6 2031.9L779.6 2031.4L782.4 2031.4L782.4 2030.8L785.2 2030.8L785.2 2031.2L788 2031.2L788 2030.6L790.8 2030.6L790.8 2030.8L793.6 2030.8L793.6 2031.2L796.4 2031.2L796.4 2031L799.2 2031L799.2 2030.8L802 2030.8L802 2031.4L804.8 2031.4L804.8 2031.2L807.6 2031.2L807.6 2030.6L810.4 2030.6L810.4 2031.9L813.2 2031.9L813.2 2031.2L816 2031.2L816 2031L818.8 2031L818.8 2031.4L821.6 2031.4L821.6 2031.9L824.4 2031.9L824.4 2030.6L827.2 2030.6L827.2 2031.4L830 2031.4L830 2031.9L832.8 2031.9L832.8 2031L835.6 2031L835.6 2031.2L838.4 2031.2L838.4 2031L841.2 2031L841.2 2030.8L844 2030.8L844 2031L846.8 2031L846.8 2031.9L849.6 2031.9L849.6 2030.8L852.4 2030.8L852.4 2031.2L855.2 2031.2L855.2 2031.2L858 2031.2L858 2031.9L860.8 2031.9L860.8 2031.2L863.6 2031.2L863.6 2031L866.4 2031L866.4 2031.4L869.2 2031.4L869.2 2030.8L872 2030.8L872 2031.2L874.8 2031.2L874.8 2031.9L877.6 2031.9L877.6 2031.9L880.4 2031.9L880.4 2031.9L883.2 2031.9L883.2 2031.9L886 2031.9L886 2030.8L888.8 2030.8L888.8 2031.9L891.6 2031.9L891.6 2030.8L894.4 2030.8L894.4 2031.9L897.2 2031.9L897.2 2031L900 2031L900 2031.4L902.8 2031.4L902.8 2031.9L905.6 2031.9L905.6 2030.8L908.4 2030.8L908.4 2030.8L911.2 2030.8L911.2 2031.2L914 2031.2L914 2031L916.8 2031L916.8 2031L919.6 2031L919.6 2031.4L922.4 2031.4L922.4 2030.6L925.2 2030.6L925.2 2030.6L928 2030.6L928 2031.9L930.8 2031.9L930.8 2031L933.6 2031L933.6 2031L936.4 2031L936.4 2031L939.2 2031L939.2 2030.8L942 2030.8L942 2031.4L944.8 2031.4L944.8 2052.6L947.6 2052.6L947.6 2046.8L950.4 2046.8L950.4 2041.2L953.2 2041.2L953.2 2036.5L956 2036.5L956 2030.4L958.8 2030.4L958.8 2031L961.6 2031L961.6 2031L964.4 2031L964.4 2030.6L967.2 2030.6L967.2 2030.8L970 2030.8L970 2030.6L972.8 2030.6L972.8 2030.8L975.6 2030.8L975.6 2031L978.4 2031L978.4 2030.8L981.2 2030.8L981.2 2031L984 2031L984 2030.8L986.8 2030.8L986.8 2031L989.6 2031L989.6 2031.2L992.4 2031.2L992.4 2031.2L995.2 2031.2L995.2 2031.9L998 2031.9L998 2030.6L1000.8 2030.6L1000.8 2031L1003.6 2031L1003.6 2031.4L1006.4 2031.4L1006.4 2031L1009.2 2031L1009.2 2031.9L1012 2031.9L1012 2031.4L1014.8 2031.4L1014.8 2030.6L1017.6 2030.6L1017.6 2031.9L1020.4 2031.9L1020.4 2031.4L1023.2 2031.4L1023.2 2030.6L1026 2030.6L1026 2031L1028.8 2031L1028.8 2031.9L1031.6 2031.9L1031.6 2031.4L1034.4 2031.4L1034.4 2031.9L1035.6 2031.9L1035.6 2060z" fill="#b1b3b4"/>
<path d="M20.8 2030.8V2060M26.4 2030.8V2060M29.2 2030.8V2060M32 2030.8V2060M37.6 2030.8V2060M40.4 2030.8V2060M43.2 2030.8V2060M46 2030.8V2060M48.8 2030.8V2060M54.4 2030.8V2060M57.2 2030.8V2060M60 2030.8V2060M62.8 2030.8V2060M65.6 2030.8V2060M68.4 2030.8V2060M71.2 2030.8V2060M76.8 2030.8V2060M79.6 2030.8V2060M82.4 2030.8V2060M85.2 2030.8V2060M88 2030.8V2060M90.8 2030.8V2060M93.6 2030.8V2060M96.4 2030.8V2060M102 2030.8V2060M107.6 2030.8V2060M110.4 2030.8V2060M113.2 2030.8V2060M116 2030.8V2060M118.8 2030.8V2060M121.6 2030.8V2060M127.2 2030.8V2060M130 2030.8V2060M135.6 2031.5V2060M141.2 2031.5V2060M149.6 2031.5V2060M152.4 2031.5V2060M155.2 2031.5V2060M160.8 2031.5V2060M163.6 2031.5V2060M166.4 2031.5V2060M169.2 2031.5V2060M172 2031.5V2060M174.8 2031.5V2060M177.6 2031.5V2060M180.4 2031.5V2060M183.2 2031.5V2060M186 2031.5V2060M188.8 2031.5V2060M191.6 2031.5V2060M197.2 2031.5V2060M200 2031.5V2060M202.8 2031.5V2060M205.6 2031.5V2060M208.4 2031.5V2060M211.2 2031.5V2060M216.8 2031.5V2060M219.6 2031.5V2060M225.2 2031.5V2060M228 2031.5V2060M230.8 2031.5V2060M233.6 2031.5V2060M239.2 2031.5V2060M242 2031.5V2060M244.8 2031.5V2060M258.8 2031.5V2060M261.6 2031.5V2060M264.4 2031.5V2060M267.2 2031.5V2060M270 2031.5V2060M272.8 2031.5V2060M275.6 2031.5V2060M278.4 2031.5V2060M281.2 2031.5V2060M284 2031.5V2060M286.8 2031.5V2060M292.4 2031.5V2060M295.2 2031.5V2060M298 2031.5V2060M300.8 2031.5V2060M303.6 2031.5V2060M306.4 2031.5V2060M309.2 2031.5V2060M314.8 2031.5V2060M317.6 2031.5V2060M320.4 2031.5V2060M323.2 2031.5V2060M328.8 2031.5V2060M331.6 2031.5V2060M334.4 2031.5V2060M337.2 2031.5V2060M340 2031.5V2060M342.8 2031.5V2060M345.6 2031.5V2060M348.4 2031.5V2060M351.2 2031.5V2060M354 2031.5V2060M356.8 2031.5V2060M362.4 2031.5V2060M368 2031.5V2060M373.6 2031.5V2060M376.4 2031.5V2060M382 2031.5V2060M384.8 2031.5V2060M393.2 2031.5V2060M398.8 2031.5V2060M401.6 2031.5V2060M404.4 2031.5V2060M407.2 2031.5V2060M410 2031.5V2060M412.8 2031.5V2060M415.6 2031.5V2060M418.4 2031.5V2060M424 2031.5V2060M426.8 2031.5V2060M429.6 2031.5V2060M432.4 2031.5V2060M435.2 2031.5V2060M438 2031.5V2060M440.8 2031.5V2060M443.6 2031.5V2060M446.4 2031.5V2060M452 2031.5V2060M457.6 2031.5V2060M460.4 2031.5V2060M463.2 2031.5V2060M471.6 2031.5V2060M474.4 2031.5V2060M480 2031.5V2060M482.8 2031.5V2060M485.6 2031.5V2060M488.4 2031.5V2060M491.2 2031.5V2060M494 2031.5V2060M502.4 2031.5V2060M505.2 2031.5V2060M508 2031.5V2060M513.6 2031.5V2060M516.4 2031.5V2060M519.2 2031.5V2060M522 2031.5V2060M524.8 2031.5V2060M527.6 2031.5V2060M530.4 2031.5V2060M538.8 2030.1V2060M541.6 2030.1V2060M544.4 2030.1V2060M547.2 2030.1V2060M552.8 2030.1V2060M555.6 2030.1V2060M566.8 2030.1V2060M569.6 2030.1V2060M575.2 2030.1V2060M578 2030.1V2060M580.8 2030.1V2060M583.6 2030.1V2060M586.4 2030.1V2060M592 2030.1V2060M594.8 2030.1V2060M597.6 2031.5V2060M600.4 2031.5V2060M603.2 2031.5V2060M606 2031.5V2060M608.8 2031.5V2060M611.6 2031.5V2060M617.2 2031.5V2060M620 2031.5V2060M625.6 2031.5V2060M628.4 2031.5V2060M631.2 2031.5V2060M634 2031.5V2060M636.8 2031.5V2060M639.6 2031.5V2060M642.4 2031.5V2060M645.2 2031.5V2060M648 2031.5V2060M653.6 2031.5V2060M656.4 2031.5V2060M659.2 2031.5V2060M662 2031.5V2060M664.8 2031.5V2060M667.6 2031.5V2060M676 2031.5V2060M681.6 2031.5V2060M684.4 2031.5V2060M687.2 2031.5V2060M690 2031.5V2060M692.8 2031.5V2060M695.6 2031.5V2060M698.4 2031.5V2060M701.2 2031.5V2060M706.8 2031.5V2060M709.6 2031.5V2060M712.4 2031.5V2060M715.2 2031.5V2060M718 2031.5V2060M723.6 2031.5V2060M726.4 2031.5V2060M732 2031.5V2060M734.8 2031.5V2060M737.6 2031.5V2060M740.4 2031.5V2060M746 2031.5V2060M748.8 2031.5V2060M751.6 2031.5V2060M754.4 2031.5V2060M760 2031.5V2060M762.8 2031.5V2060M765.6 2031.5V2060M768.4 2031.5V2060M771.2 2031.5V2060M774 2031.5V2060M776.8 2031.5V2060M779.6 2031.5V2060M782.4 2031.5V2060M790.8 2031.5V2060M793.6 2031.5V2060M796.4 2031.5V2060M799.2 2031.5V2060M807.6 2031.5V2060M810.4 2031.5V2060M813.2 2031.5V2060M816 2031.5V2060M818.8 2031.5V2060M824.4 2031.5V2060M830 2031.5V2060M832.8 2031.5V2060M835.6 2031.5V2060M838.4 2031.5V2060M841.2 2031.5V2060M844 2031.5V2060M846.8 2031.5V2060M849.6 2031.5V2060M852.4 2031.5V2060M855.2 2031.5V2060M858 2031.5V2060M860.8 2031.5V2060M866.4 2031.5V2060M869.2 2031.5V2060M872 2031.5V2060M874.8 2031.5V2060M877.6 2031.5V2060M880.4 2031.5V2060M883.2 2031.5V2060M888.8 2031.5V2060M891.6 2031.5V2060M894.4 2031.5V2060M897.2 2031.5V2060M900 2031.5V2060M902.8 2031.5V2060M905.6 2031.5V2060M914 2031.5V2060M922.4 2031.5V2060M925.2 2031.5V2060M928 2031.5V2060M930.8 2031.5V2060M933.6 2031.5V2060M936.4 2031.5V2060M939.2 2031.5V2060M942 2031.5V2060M944.8 2052.9V2060M947.6 2047.3V2060M950.4 2041.7V2060M956 2030.5V2060M958.8 2031.5V2060M964.4 2031.5V2060M967.2 2031.5V2060M970 2031.5V2060M972.8 2031.5V2060M975.6 2031.5V2060M978.4 2031.5V2060M981.2 2031.5V2060M984 2031.5V2060M986.8 2031.5V2060M989.6 2031.5V2060M995.2 2031.5V2060M998 2031.5V2060M1000.8 2031.5V2060M1003.6 2031.5V2060M1006.4 2031.5V2060M1009.2 2031.5V2060M1014.8 2031.5V2060M1020.4 2031.5V2060M1026 2031.5V2060M1028.8 2031.5V2060M1031.6 2031.5V2060M1034.4 2031.5V2060" stroke="#e4e5e5" stroke-width="0.5" fill="none"/>
<rect x="51.6" y="2030.3" width="1.8" height="29.7" fill="#3b5ba9"/>
<rect x="67.1" y="2030.3" width="1.8" height="29.7" fill="#d98a3a"/>
<rect x="561.3" y="2029.6" width="1.8" height="18.24" fill="#de4b3c"/>
<rect x="561.3" y="2047.84" width="1.8" height="12.16" fill="#3f78b8"/>
<rect x="596.9" y="2031" width="1.8" height="15.95" fill="#d98a3a"/>
<rect x="596.9" y="2046.95" width="1.8" height="13.05" fill="#3f78b8"/>
<rect x="779.9" y="2031" width="1.8" height="29" fill="#de4b3c"/>
<rect x="863.7" y="2031" width="1.8" height="29" fill="#d98a3a"/>
<rect x="945.1" y="2050" width="1.8" height="10" fill="#de4b3c"/>
<rect x="18" y="2071.5" width="1017.6" height="5.4" fill="#c9c9c9"/>
<rect x="18" y="2078.7" width="1017.6" height="5.4" fill="#c9c9c9"/>
<rect x="18" y="2085.9" width="1017.6" height="5.4" fill="#c9c9c9"/>
<rect x="18" y="2093.1" width="1017.6" height="5.4" fill="#c9c9c9"/>
<rect x="18" y="2100.3" width="1017.6" height="5.4" fill="#c9c9c9"/>
<rect x="18" y="2107.5" width="1017.6" height="5.4" fill="#c9c9c9"/>
<rect x="18" y="2114.7" width="1017.6" height="5.4" fill="#c9c9c9"/>
<rect x="18" y="2121.9" width="1017.6" height="5.4" fill="#c9c9c9"/>
<rect x="18" y="2129.1" width="1017.6" height="5.4" fill="#c9c9c9"/>
<rect x="18" y="2136.3" width="1017.6" height="5.4" fill="#c9c9c9"/>
<rect x="18" y="2143.5" width="1017.6" height="5.4" fill="#c9c9c9"/>
<rect x="18" y="2150.7" width="1017.6" height="5.4" fill="#c9c9c9"/>
<rect x="18" y="2157.9" width="1017.6" height="5.4" fill="#c9c9c9"/>
<rect x="18" y="2165.1" width="1017.6" height="5.4" fill="#c9c9c9"/>
<rect x="18" y="2172.3" width="1017.6" height="5.4" fill="#c9c9c9"/>
<rect x="18" y="2179.5" width="1017.6" height="5.4" fill="#c9c9c9"/>
<rect x="18" y="2186.7" width="1017.6" height="5.4" fill="#c9c9c9"/>
<rect x="18" y="2193.9" width="1017.6" height="5.4" fill="#c9c9c9"/>
<rect x="18" y="2201.1" width="1017.6" height="5.4" fill="#c9c9c9"/>
<rect x="18" y="2208.3" width="1017.6" height="5.4" fill="#c9c9c9"/>
<rect x="18" y="2215.5" width="1017.6" height="5.4" fill="#c9c9c9"/>
<rect x="18" y="2222.7" width="1017.6" height="5.4" fill="#c9c9c9"/>
<rect x="636" y="2071.2" width="80.6" height="6" fill="#fff"/>
<rect x="305.2" y="2092.8" width="58.5" height="6" fill="#fff"/>
<rect x="885.4" y="2092.8" width="6.6" height="6" fill="#fff"/>
<rect x="164.3" y="2107.2" width="38.4" height="6" fill="#fff"/>
<rect x="299.3" y="2128.8" width="180.5" height="6" fill="#fff"/>
<rect x="114.5" y="2150.4" width="33.3" height="6" fill="#fff"/>
<rect x="17" y="2157.6" width="205" height="6" fill="#fff"/>
<rect x="877.3" y="2164.8" width="40.7" height="6" fill="#fff"/>
<rect x="17" y="2193.6" width="223" height="6" fill="#fff"/>
<rect x="278.9" y="2200.8" width="177.5" height="6" fill="#fff"/>
<rect x="852.5" y="2208" width="184.5" height="6" fill="#fff"/>
<rect x="799.8" y="2215.2" width="40.2" height="6" fill="#fff"/>
<circle cx="223" cy="2160.6" r="2.7" fill="#4a78b0"/>
<circle cx="841" cy="2218.2" r="2.7" fill="#c9c9c9"/>
<path d="M597.7 2071.5v5.4M599.09 2071.5v5.4M601.88 2071.5v5.4M606.05 2071.5v5.4M610.23 2071.5v5.4M614.41 2071.5v5.4M618.59 2071.5v5.4M622.77 2071.5v5.4M626.95 2071.5v5.4M631.12 2071.5v5.4M635.3 2071.5v5.4" stroke="#d84f42" stroke-width="1.49" fill="none"/>
<path d="M600.48 2071.5v5.4M608.84 2071.5v5.4M613.02 2071.5v5.4M617.2 2071.5v5.4M621.38 2071.5v5.4M625.55 2071.5v5.4M629.73 2071.5v5.4M633.91 2071.5v5.4" stroke="#8f4f78" stroke-width="1.49" fill="none"/>
<path d="M603.27 2071.5v5.4M607.45 2071.5v5.4M611.62 2071.5v5.4M615.8 2071.5v5.4M619.98 2071.5v5.4M624.16 2071.5v5.4M628.34 2071.5v5.4M632.52 2071.5v5.4" stroke="#dd6c45" stroke-width="1.49" fill="none"/>
<path d="M604.66 2071.5v5.4" stroke="#72b163" stroke-width="1.49" fill="none"/>
<path d="M717.31 2071.5v5.4M732.82 2071.5v5.4M738.46 2071.5v5.4M746.92 2071.5v5.4M749.74 2071.5v5.4" stroke="#d84f42" stroke-width="1.51" fill="none"/>
<path d="M718.72 2071.5v5.4M720.13 2071.5v5.4M725.77 2071.5v5.4M727.18 2071.5v5.4M728.59 2071.5v5.4M735.64 2071.5v5.4M741.28 2071.5v5.4M742.69 2071.5v5.4M756.79 2071.5v5.4" stroke="#dc8448" stroke-width="1.51" fill="none"/>
<path d="M721.54 2071.5v5.4M722.95 2071.5v5.4M724.36 2071.5v5.4M730 2071.5v5.4M744.1 2071.5v5.4M745.51 2071.5v5.4M752.56 2071.5v5.4M753.97 2071.5v5.4" stroke="#a9a547" stroke-width="1.51" fill="none"/>
<path d="M731.41 2071.5v5.4M739.87 2071.5v5.4" stroke="#4a78b0" stroke-width="1.51" fill="none"/>
<path d="M734.23 2071.5v5.4M737.05 2071.5v5.4M751.15 2071.5v5.4M755.38 2071.5v5.4" stroke="#72b163" stroke-width="1.51" fill="none"/>
<path d="M748.33 2071.5v5.4" stroke="#8f4f78" stroke-width="1.51" fill="none"/>
<path d="M293.11 2093.1v5.4M297.38 2093.1v5.4M301.64 2093.1v5.4" stroke="#d84f42" stroke-width="1.52" fill="none"/>
<path d="M294.53 2093.1v5.4" stroke="#4a78b0" stroke-width="1.52" fill="none"/>
<path d="M295.96 2093.1v5.4M304.49 2093.1v5.4" stroke="#8f4f78" stroke-width="1.52" fill="none"/>
<path d="M298.8 2093.1v5.4M303.07 2093.1v5.4" stroke="#dd6c45" stroke-width="1.52" fill="none"/>
<path d="M300.22 2093.1v5.4" stroke="#72b163" stroke-width="1.52" fill="none"/>
<path d="M364.4 2093.1v5.4M375.65 2093.1v5.4M385.49 2093.1v5.4M396.73 2093.1v5.4M399.54 2093.1v5.4M403.76 2093.1v5.4M405.17 2093.1v5.4M407.98 2093.1v5.4M413.6 2093.1v5.4M420.63 2093.1v5.4M422.03 2093.1v5.4M424.85 2093.1v5.4M431.87 2093.1v5.4M433.28 2093.1v5.4" stroke="#dc8448" stroke-width="1.51" fill="none"/>
<path d="M365.81 2093.1v5.4M367.21 2093.1v5.4M412.19 2093.1v5.4M415.01 2093.1v5.4M445.93 2093.1v5.4M509.18 2093.1v5.4M512 2093.1v5.4M517.62 2093.1v5.4" stroke="#4a78b0" stroke-width="1.51" fill="none"/>
<path d="M368.62 2093.1v5.4M371.43 2093.1v5.4M374.24 2093.1v5.4M377.05 2093.1v5.4M378.46 2093.1v5.4M381.27 2093.1v5.4M382.68 2093.1v5.4M384.08 2093.1v5.4M386.89 2093.1v5.4M388.3 2093.1v5.4M389.7 2093.1v5.4M391.11 2093.1v5.4M393.92 2093.1v5.4M395.33 2093.1v5.4M398.14 2093.1v5.4M400.95 2093.1v5.4M402.36 2093.1v5.4M406.57 2093.1v5.4M409.38 2093.1v5.4M410.79 2093.1v5.4M416.41 2093.1v5.4M419.22 2093.1v5.4M423.44 2093.1v5.4M426.25 2093.1v5.4M429.06 2093.1v5.4M430.47 2093.1v5.4M434.69 2093.1v5.4M455.77 2093.1v5.4M492.32 2093.1v5.4M503.56 2093.1v5.4M519.02 2093.1v5.4" stroke="#72b163" stroke-width="1.51" fill="none"/>
<path d="M370.03 2093.1v5.4M372.84 2093.1v5.4M379.86 2093.1v5.4M392.52 2093.1v5.4M417.82 2093.1v5.4M427.66 2093.1v5.4M436.09 2093.1v5.4M444.52 2093.1v5.4M448.74 2093.1v5.4M452.96 2093.1v5.4M457.18 2093.1v5.4M461.39 2093.1v5.4M465.61 2093.1v5.4M469.83 2093.1v5.4M474.04 2093.1v5.4M478.26 2093.1v5.4M482.48 2093.1v5.4M486.69 2093.1v5.4M490.91 2093.1v5.4M495.13 2093.1v5.4M499.34 2093.1v5.4M507.78 2093.1v5.4M516.21 2093.1v5.4M520.43 2093.1v5.4M524.65 2093.1v5.4M528.86 2093.1v5.4M533.08 2093.1v5.4M537.3 2093.1v5.4" stroke="#d84f42" stroke-width="1.51" fill="none"/>
<path d="M437.5 2093.1v5.4M440.31 2093.1v5.4M441.71 2093.1v5.4M450.15 2093.1v5.4M454.36 2093.1v5.4M458.58 2093.1v5.4M462.8 2093.1v5.4M467.01 2093.1v5.4M471.23 2093.1v5.4M475.45 2093.1v5.4M479.67 2093.1v5.4M483.88 2093.1v5.4M488.1 2093.1v5.4M496.53 2093.1v5.4M500.75 2093.1v5.4M502.16 2093.1v5.4M504.97 2093.1v5.4M513.4 2093.1v5.4M521.84 2093.1v5.4M526.05 2093.1v5.4M530.27 2093.1v5.4M534.49 2093.1v5.4" stroke="#dd6c45" stroke-width="1.51" fill="none"/>
<path d="M438.9 2093.1v5.4M443.12 2093.1v5.4M447.34 2093.1v5.4M451.55 2093.1v5.4M459.99 2093.1v5.4M464.2 2093.1v5.4M468.42 2093.1v5.4M472.64 2093.1v5.4M476.85 2093.1v5.4M481.07 2093.1v5.4M485.29 2093.1v5.4M489.51 2093.1v5.4M493.72 2093.1v5.4M497.94 2093.1v5.4M506.37 2093.1v5.4M510.59 2093.1v5.4M514.81 2093.1v5.4M523.24 2093.1v5.4M527.46 2093.1v5.4M531.67 2093.1v5.4M535.89 2093.1v5.4" stroke="#8f4f78" stroke-width="1.51" fill="none"/>
<path d="M870.41 2093.1v5.4" stroke="#72b163" stroke-width="1.53" fill="none"/>
<path d="M871.84 2093.1v5.4M876.12 2093.1v5.4M880.4 2093.1v5.4M884.69 2093.1v5.4" stroke="#dd6c45" stroke-width="1.53" fill="none"/>
<path d="M873.27 2093.1v5.4M881.83 2093.1v5.4" stroke="#8f4f78" stroke-width="1.53" fill="none"/>
<path d="M874.7 2093.1v5.4M877.55 2093.1v5.4M878.98 2093.1v5.4M883.26 2093.1v5.4" stroke="#d84f42" stroke-width="1.53" fill="none"/>
<path d="M126.71 2107.5v5.4M130.96 2107.5v5.4M135.22 2107.5v5.4M139.48 2107.5v5.4M143.73 2107.5v5.4M147.99 2107.5v5.4M152.24 2107.5v5.4M156.5 2107.5v5.4M160.75 2107.5v5.4" stroke="#d84f42" stroke-width="1.52" fill="none"/>
<path d="M128.13 2107.5v5.4M132.38 2107.5v5.4M136.64 2107.5v5.4M140.89 2107.5v5.4M145.15 2107.5v5.4M149.41 2107.5v5.4M153.66 2107.5v5.4M157.92 2107.5v5.4M162.17 2107.5v5.4" stroke="#dd6c45" stroke-width="1.52" fill="none"/>
<path d="M129.55 2107.5v5.4M133.8 2107.5v5.4M138.06 2107.5v5.4M142.31 2107.5v5.4M146.57 2107.5v5.4M150.82 2107.5v5.4M155.08 2107.5v5.4M159.34 2107.5v5.4M163.59 2107.5v5.4" stroke="#8f4f78" stroke-width="1.52" fill="none"/>
<path d="M203.39 2107.5v5.4M210.32 2107.5v5.4" stroke="#8f4f78" stroke-width="1.49" fill="none"/>
<path d="M204.78 2107.5v5.4M211.71 2107.5v5.4M217.26 2107.5v5.4M220.03 2107.5v5.4M221.41 2107.5v5.4M222.8 2107.5v5.4M238.05 2107.5v5.4M239.43 2107.5v5.4" stroke="#d84f42" stroke-width="1.49" fill="none"/>
<path d="M206.17 2107.5v5.4M240.82 2107.5v5.4" stroke="#4a78b0" stroke-width="1.49" fill="none"/>
<path d="M207.55 2107.5v5.4M208.94 2107.5v5.4M213.1 2107.5v5.4M214.48 2107.5v5.4M225.57 2107.5v5.4M226.96 2107.5v5.4M229.73 2107.5v5.4M232.5 2107.5v5.4M233.89 2107.5v5.4" stroke="#dc8448" stroke-width="1.49" fill="none"/>
<path d="M215.87 2107.5v5.4M218.64 2107.5v5.4M228.34 2107.5v5.4" stroke="#a9a547" stroke-width="1.49" fill="none"/>
<path d="M224.19 2107.5v5.4M231.12 2107.5v5.4M235.28 2107.5v5.4M236.66 2107.5v5.4M242.21 2107.5v5.4" stroke="#72b163" stroke-width="1.49" fill="none"/>
<path d="M257.7 2129.1v5.4M261.94 2129.1v5.4M266.17 2129.1v5.4M270.39 2129.1v5.4M274.62 2129.1v5.4M278.86 2129.1v5.4M283.09 2129.1v5.4M287.31 2129.1v5.4M291.55 2129.1v5.4M295.78 2129.1v5.4" stroke="#d84f42" stroke-width="1.51" fill="none"/>
<path d="M259.12 2129.1v5.4M260.52 2129.1v5.4M263.35 2129.1v5.4M267.57 2129.1v5.4M271.81 2129.1v5.4M276.04 2129.1v5.4M280.26 2129.1v5.4M284.5 2129.1v5.4M288.73 2129.1v5.4M292.96 2129.1v5.4M297.19 2129.1v5.4" stroke="#dd6c45" stroke-width="1.51" fill="none"/>
<path d="M264.75 2129.1v5.4M268.99 2129.1v5.4M273.22 2129.1v5.4M277.44 2129.1v5.4M281.68 2129.1v5.4M285.91 2129.1v5.4M290.13 2129.1v5.4M294.37 2129.1v5.4M298.6 2129.1v5.4" stroke="#8f4f78" stroke-width="1.51" fill="none"/>
<path d="M480.51 2129.1v5.4M484.77 2129.1v5.4M489.03 2129.1v5.4M493.29 2129.1v5.4M497.54 2129.1v5.4M501.8 2129.1v5.4M506.06 2129.1v5.4M510.32 2129.1v5.4M518.84 2129.1v5.4M523.1 2129.1v5.4M527.35 2129.1v5.4M531.61 2129.1v5.4M535.87 2129.1v5.4" stroke="#d84f42" stroke-width="1.52" fill="none"/>
<path d="M481.93 2129.1v5.4M486.19 2129.1v5.4M490.45 2129.1v5.4M494.7 2129.1v5.4M498.96 2129.1v5.4M503.22 2129.1v5.4M507.48 2129.1v5.4M511.74 2129.1v5.4M516 2129.1v5.4M520.26 2129.1v5.4M524.51 2129.1v5.4M528.77 2129.1v5.4M533.03 2129.1v5.4M537.29 2129.1v5.4" stroke="#dd6c45" stroke-width="1.52" fill="none"/>
<path d="M483.35 2129.1v5.4M487.61 2129.1v5.4M491.87 2129.1v5.4M496.12 2129.1v5.4M500.38 2129.1v5.4M504.64 2129.1v5.4M508.9 2129.1v5.4M513.16 2129.1v5.4M517.42 2129.1v5.4M521.68 2129.1v5.4M525.93 2129.1v5.4M530.19 2129.1v5.4M534.45 2129.1v5.4" stroke="#8f4f78" stroke-width="1.52" fill="none"/>
<path d="M514.58 2129.1v5.4" stroke="#4a78b0" stroke-width="1.52" fill="none"/>
<path d="M74.7 2150.7v5.4M78.89 2150.7v5.4M83.08 2150.7v5.4M87.27 2150.7v5.4M91.46 2150.7v5.4M95.65 2150.7v5.4M99.84 2150.7v5.4M104.03 2150.7v5.4M112.41 2150.7v5.4" stroke="#d84f42" stroke-width="1.5" fill="none"/>
<path d="M76.09 2150.7v5.4M80.28 2150.7v5.4M84.47 2150.7v5.4M88.66 2150.7v5.4M92.85 2150.7v5.4M97.04 2150.7v5.4M101.23 2150.7v5.4M105.42 2150.7v5.4M109.61 2150.7v5.4M113.8 2150.7v5.4" stroke="#dd6c45" stroke-width="1.5" fill="none"/>
<path d="M77.49 2150.7v5.4M81.68 2150.7v5.4M85.87 2150.7v5.4M90.06 2150.7v5.4M94.25 2150.7v5.4M98.44 2150.7v5.4M102.63 2150.7v5.4M106.82 2150.7v5.4M111.01 2150.7v5.4" stroke="#8f4f78" stroke-width="1.5" fill="none"/>
<path d="M108.22 2150.7v5.4" stroke="#4a78b0" stroke-width="1.5" fill="none"/>
<path d="M148.5 2150.7v5.4M155.52 2150.7v5.4M156.92 2150.7v5.4M158.33 2150.7v5.4M159.73 2150.7v5.4M162.54 2150.7v5.4M165.34 2150.7v5.4M166.75 2150.7v5.4M168.15 2150.7v5.4M170.96 2150.7v5.4M179.38 2150.7v5.4M180.78 2150.7v5.4M182.19 2150.7v5.4M185 2150.7v5.4M186.4 2150.7v5.4M187.8 2150.7v5.4M189.21 2150.7v5.4M190.61 2150.7v5.4M192.01 2150.7v5.4M193.42 2150.7v5.4M200.43 2150.7v5.4M201.84 2150.7v5.4M204.65 2150.7v5.4M206.05 2150.7v5.4M207.45 2150.7v5.4M208.86 2150.7v5.4M210.26 2150.7v5.4M211.66 2150.7v5.4M213.07 2150.7v5.4M214.47 2150.7v5.4M215.87 2150.7v5.4M217.28 2150.7v5.4M218.68 2150.7v5.4M221.49 2150.7v5.4M222.89 2150.7v5.4M225.7 2150.7v5.4M227.1 2150.7v5.4M231.31 2150.7v5.4M232.72 2150.7v5.4M234.12 2150.7v5.4M235.52 2150.7v5.4M236.93 2150.7v5.4M238.33 2150.7v5.4M239.74 2150.7v5.4M241.14 2150.7v5.4M243.95 2150.7v5.4M245.35 2150.7v5.4M246.75 2150.7v5.4M250.96 2150.7v5.4M252.37 2150.7v5.4M263.6 2150.7v5.4M267.81 2150.7v5.4M272.02 2150.7v5.4M273.42 2150.7v5.4M276.23 2150.7v5.4M279.04 2150.7v5.4M280.44 2150.7v5.4M281.84 2150.7v5.4M284.65 2150.7v5.4M287.46 2150.7v5.4M290.27 2150.7v5.4M295.88 2150.7v5.4M298.69 2150.7v5.4M302.9 2150.7v5.4M305.7 2150.7v5.4M307.11 2150.7v5.4M308.51 2150.7v5.4M309.92 2150.7v5.4M330.97 2150.7v5.4M333.78 2150.7v5.4M356.23 2150.7v5.4M387.11 2150.7v5.4M401.15 2150.7v5.4M417.99 2150.7v5.4M475.54 2150.7v5.4M476.94 2150.7v5.4M527.47 2150.7v5.4" stroke="#72b163" stroke-width="1.5" fill="none"/>
<path d="M149.91 2150.7v5.4M152.71 2150.7v5.4M196.22 2150.7v5.4M228.51 2150.7v5.4M242.54 2150.7v5.4M260.79 2150.7v5.4M265 2150.7v5.4M270.61 2150.7v5.4M277.63 2150.7v5.4M283.25 2150.7v5.4M286.05 2150.7v5.4M294.48 2150.7v5.4M301.49 2150.7v5.4M311.32 2150.7v5.4M312.72 2150.7v5.4M316.93 2150.7v5.4M321.14 2150.7v5.4M325.36 2150.7v5.4M329.57 2150.7v5.4M337.99 2150.7v5.4M342.2 2150.7v5.4M346.41 2150.7v5.4M350.62 2150.7v5.4M354.83 2150.7v5.4M359.04 2150.7v5.4M363.25 2150.7v5.4M367.46 2150.7v5.4M371.67 2150.7v5.4M375.88 2150.7v5.4M380.1 2150.7v5.4M384.31 2150.7v5.4M388.52 2150.7v5.4M396.94 2150.7v5.4M405.36 2150.7v5.4M409.57 2150.7v5.4M413.78 2150.7v5.4M422.2 2150.7v5.4M426.41 2150.7v5.4M430.62 2150.7v5.4M434.84 2150.7v5.4M439.05 2150.7v5.4M447.47 2150.7v5.4M451.68 2150.7v5.4M455.89 2150.7v5.4M460.1 2150.7v5.4M464.31 2150.7v5.4M468.52 2150.7v5.4M472.73 2150.7v5.4M481.15 2150.7v5.4M485.37 2150.7v5.4M489.58 2150.7v5.4M493.79 2150.7v5.4M498 2150.7v5.4M502.21 2150.7v5.4M506.42 2150.7v5.4M510.63 2150.7v5.4M514.84 2150.7v5.4M523.26 2150.7v5.4M531.68 2150.7v5.4M535.89 2150.7v5.4" stroke="#d84f42" stroke-width="1.5" fill="none"/>
<path d="M151.31 2150.7v5.4M154.12 2150.7v5.4M161.13 2150.7v5.4M173.77 2150.7v5.4M175.17 2150.7v5.4M177.98 2150.7v5.4M220.09 2150.7v5.4M224.3 2150.7v5.4M229.91 2150.7v5.4M291.67 2150.7v5.4M297.28 2150.7v5.4M392.73 2150.7v5.4M398.34 2150.7v5.4M488.17 2150.7v5.4M507.82 2150.7v5.4" stroke="#4a78b0" stroke-width="1.5" fill="none"/>
<path d="M163.94 2150.7v5.4M169.56 2150.7v5.4M172.36 2150.7v5.4M176.57 2150.7v5.4M183.59 2150.7v5.4M194.82 2150.7v5.4M197.63 2150.7v5.4M199.03 2150.7v5.4M203.24 2150.7v5.4M248.16 2150.7v5.4M249.56 2150.7v5.4M253.77 2150.7v5.4M255.18 2150.7v5.4M256.58 2150.7v5.4M257.98 2150.7v5.4M259.39 2150.7v5.4M262.19 2150.7v5.4M266.4 2150.7v5.4M269.21 2150.7v5.4M274.83 2150.7v5.4M288.86 2150.7v5.4M293.07 2150.7v5.4M300.09 2150.7v5.4M304.3 2150.7v5.4" stroke="#dc8448" stroke-width="1.5" fill="none"/>
<path d="M314.13 2150.7v5.4M318.34 2150.7v5.4M322.55 2150.7v5.4M326.76 2150.7v5.4M332.37 2150.7v5.4M335.18 2150.7v5.4M339.39 2150.7v5.4M343.6 2150.7v5.4M347.81 2150.7v5.4M352.02 2150.7v5.4M360.44 2150.7v5.4M361.85 2150.7v5.4M364.66 2150.7v5.4M368.87 2150.7v5.4M373.08 2150.7v5.4M377.29 2150.7v5.4M378.69 2150.7v5.4M381.5 2150.7v5.4M385.71 2150.7v5.4M389.92 2150.7v5.4M394.13 2150.7v5.4M395.53 2150.7v5.4M402.55 2150.7v5.4M406.76 2150.7v5.4M410.97 2150.7v5.4M415.19 2150.7v5.4M419.4 2150.7v5.4M423.61 2150.7v5.4M427.82 2150.7v5.4M429.22 2150.7v5.4M432.03 2150.7v5.4M436.24 2150.7v5.4M440.45 2150.7v5.4M443.26 2150.7v5.4M444.66 2150.7v5.4M448.87 2150.7v5.4M453.08 2150.7v5.4M457.29 2150.7v5.4M461.5 2150.7v5.4M465.71 2150.7v5.4M469.93 2150.7v5.4M474.14 2150.7v5.4M478.35 2150.7v5.4M482.56 2150.7v5.4M486.77 2150.7v5.4M490.98 2150.7v5.4M495.19 2150.7v5.4M499.4 2150.7v5.4M503.61 2150.7v5.4M512.03 2150.7v5.4M513.44 2150.7v5.4M516.24 2150.7v5.4M519.05 2150.7v5.4M520.46 2150.7v5.4M524.67 2150.7v5.4M528.88 2150.7v5.4M533.09 2150.7v5.4M537.3 2150.7v5.4" stroke="#dd6c45" stroke-width="1.5" fill="none"/>
<path d="M315.53 2150.7v5.4M319.74 2150.7v5.4M323.95 2150.7v5.4M328.16 2150.7v5.4M336.58 2150.7v5.4M340.79 2150.7v5.4M345.01 2150.7v5.4M349.22 2150.7v5.4M353.43 2150.7v5.4M357.64 2150.7v5.4M366.06 2150.7v5.4M370.27 2150.7v5.4M374.48 2150.7v5.4M382.9 2150.7v5.4M391.32 2150.7v5.4M399.75 2150.7v5.4M403.96 2150.7v5.4M408.17 2150.7v5.4M412.38 2150.7v5.4M416.59 2150.7v5.4M420.8 2150.7v5.4M425.01 2150.7v5.4M433.43 2150.7v5.4M437.64 2150.7v5.4M441.85 2150.7v5.4M446.06 2150.7v5.4M450.28 2150.7v5.4M454.49 2150.7v5.4M458.7 2150.7v5.4M462.91 2150.7v5.4M467.12 2150.7v5.4M471.33 2150.7v5.4M479.75 2150.7v5.4M483.96 2150.7v5.4M492.38 2150.7v5.4M496.59 2150.7v5.4M500.8 2150.7v5.4M505.02 2150.7v5.4M509.23 2150.7v5.4M517.65 2150.7v5.4M521.86 2150.7v5.4M526.07 2150.7v5.4M530.28 2150.7v5.4M534.49 2150.7v5.4" stroke="#8f4f78" stroke-width="1.5" fill="none"/>
<path d="M224.7 2157.9v5.4M227.5 2157.9v5.4M230.31 2157.9v5.4M238.72 2157.9v5.4M240.12 2157.9v5.4M245.73 2157.9v5.4M247.13 2157.9v5.4M254.14 2157.9v5.4M256.94 2157.9v5.4M258.34 2157.9v5.4M272.36 2157.9v5.4M273.76 2157.9v5.4M276.57 2157.9v5.4M279.37 2157.9v5.4M282.17 2157.9v5.4M287.78 2157.9v5.4M289.18 2157.9v5.4M290.58 2157.9v5.4M291.99 2157.9v5.4M296.19 2157.9v5.4M297.59 2157.9v5.4M317.22 2157.9v5.4M320.02 2157.9v5.4M322.83 2157.9v5.4M328.43 2157.9v5.4M336.84 2157.9v5.4M338.25 2157.9v5.4M343.85 2157.9v5.4M346.66 2157.9v5.4M348.06 2157.9v5.4M349.46 2157.9v5.4M350.86 2157.9v5.4M355.07 2157.9v5.4" stroke="#dc8448" stroke-width="1.5" fill="none"/>
<path d="M226.1 2157.9v5.4M242.92 2157.9v5.4M269.56 2157.9v5.4M270.96 2157.9v5.4M277.97 2157.9v5.4M283.58 2157.9v5.4M284.98 2157.9v5.4M324.23 2157.9v5.4M327.03 2157.9v5.4M331.24 2157.9v5.4M335.44 2157.9v5.4M345.25 2157.9v5.4M378.9 2157.9v5.4M384.5 2157.9v5.4M413.94 2157.9v5.4M458.8 2157.9v5.4M461.6 2157.9v5.4M468.61 2157.9v5.4M493.84 2157.9v5.4M520.48 2157.9v5.4" stroke="#4a78b0" stroke-width="1.5" fill="none"/>
<path d="M228.91 2157.9v5.4M233.11 2157.9v5.4M234.51 2157.9v5.4M235.92 2157.9v5.4M237.32 2157.9v5.4M241.52 2157.9v5.4M244.33 2157.9v5.4M248.53 2157.9v5.4M249.93 2157.9v5.4M251.33 2157.9v5.4M252.74 2157.9v5.4M255.54 2157.9v5.4M259.75 2157.9v5.4M261.15 2157.9v5.4M262.55 2157.9v5.4M268.16 2157.9v5.4M275.17 2157.9v5.4M286.38 2157.9v5.4M293.39 2157.9v5.4M294.79 2157.9v5.4M299 2157.9v5.4M300.4 2157.9v5.4M301.8 2157.9v5.4M303.2 2157.9v5.4M306 2157.9v5.4M307.41 2157.9v5.4M308.81 2157.9v5.4M310.21 2157.9v5.4M313.01 2157.9v5.4M314.42 2157.9v5.4M315.82 2157.9v5.4M318.62 2157.9v5.4M321.42 2157.9v5.4M325.63 2157.9v5.4M329.83 2157.9v5.4M332.64 2157.9v5.4M334.04 2157.9v5.4M339.65 2157.9v5.4M341.05 2157.9v5.4M342.45 2157.9v5.4M353.67 2157.9v5.4M362.08 2157.9v5.4M366.28 2157.9v5.4M401.33 2157.9v5.4M426.56 2157.9v5.4M441.98 2157.9v5.4M454.59 2157.9v5.4M482.63 2157.9v5.4M506.46 2157.9v5.4" stroke="#72b163" stroke-width="1.5" fill="none"/>
<path d="M231.71 2157.9v5.4M263.95 2157.9v5.4M265.35 2157.9v5.4M266.75 2157.9v5.4M280.77 2157.9v5.4M304.6 2157.9v5.4M311.61 2157.9v5.4M352.26 2157.9v5.4M359.27 2157.9v5.4M363.48 2157.9v5.4M367.68 2157.9v5.4M371.89 2157.9v5.4M376.09 2157.9v5.4M380.3 2157.9v5.4M388.71 2157.9v5.4M392.92 2157.9v5.4M397.12 2157.9v5.4M405.53 2157.9v5.4M409.74 2157.9v5.4M418.15 2157.9v5.4M422.35 2157.9v5.4M430.76 2157.9v5.4M434.97 2157.9v5.4M443.38 2157.9v5.4M447.58 2157.9v5.4M451.79 2157.9v5.4M456 2157.9v5.4M460.2 2157.9v5.4M464.41 2157.9v5.4M472.82 2157.9v5.4M477.02 2157.9v5.4M481.23 2157.9v5.4M485.43 2157.9v5.4M489.64 2157.9v5.4M502.25 2157.9v5.4M510.67 2157.9v5.4M514.87 2157.9v5.4M519.08 2157.9v5.4M523.28 2157.9v5.4M527.49 2157.9v5.4M531.69 2157.9v5.4M535.9 2157.9v5.4" stroke="#d84f42" stroke-width="1.5" fill="none"/>
<path d="M356.47 2157.9v5.4M360.67 2157.9v5.4M364.88 2157.9v5.4M369.08 2157.9v5.4M373.29 2157.9v5.4M377.5 2157.9v5.4M381.7 2157.9v5.4M385.91 2157.9v5.4M390.11 2157.9v5.4M394.32 2157.9v5.4M398.52 2157.9v5.4M402.73 2157.9v5.4M406.93 2157.9v5.4M411.14 2157.9v5.4M415.34 2157.9v5.4M419.55 2157.9v5.4M423.75 2157.9v5.4M427.96 2157.9v5.4M432.17 2157.9v5.4M436.37 2157.9v5.4M439.17 2157.9v5.4M440.58 2157.9v5.4M444.78 2157.9v5.4M448.99 2157.9v5.4M453.19 2157.9v5.4M457.4 2157.9v5.4M465.81 2157.9v5.4M467.21 2157.9v5.4M470.01 2157.9v5.4M474.22 2157.9v5.4M475.62 2157.9v5.4M478.42 2157.9v5.4M486.83 2157.9v5.4M491.04 2157.9v5.4M495.25 2157.9v5.4M498.05 2157.9v5.4M499.45 2157.9v5.4M503.66 2157.9v5.4M507.86 2157.9v5.4M512.07 2157.9v5.4M516.27 2157.9v5.4M524.68 2157.9v5.4M528.89 2157.9v5.4M533.09 2157.9v5.4M537.3 2157.9v5.4" stroke="#dd6c45" stroke-width="1.5" fill="none"/>
<path d="M357.87 2157.9v5.4M370.49 2157.9v5.4M374.69 2157.9v5.4M383.1 2157.9v5.4M387.31 2157.9v5.4M391.51 2157.9v5.4M395.72 2157.9v5.4M399.92 2157.9v5.4M404.13 2157.9v5.4M408.33 2157.9v5.4M412.54 2157.9v5.4M416.75 2157.9v5.4M420.95 2157.9v5.4M425.16 2157.9v5.4M429.36 2157.9v5.4M433.57 2157.9v5.4M437.77 2157.9v5.4M446.18 2157.9v5.4M450.39 2157.9v5.4M463 2157.9v5.4M471.42 2157.9v5.4M479.83 2157.9v5.4M484.03 2157.9v5.4M488.24 2157.9v5.4M492.44 2157.9v5.4M496.65 2157.9v5.4M500.85 2157.9v5.4M505.06 2157.9v5.4M509.26 2157.9v5.4M513.47 2157.9v5.4M517.67 2157.9v5.4M521.88 2157.9v5.4M526.08 2157.9v5.4M530.29 2157.9v5.4M534.5 2157.9v5.4" stroke="#8f4f78" stroke-width="1.5" fill="none"/>
<path d="M1030.35 2157.9v5.4M1034.85 2157.9v5.4" stroke="#d84f42" stroke-width="1.6" fill="none"/>
<path d="M1031.85 2157.9v5.4" stroke="#dd6c45" stroke-width="1.6" fill="none"/>
<path d="M1033.35 2157.9v5.4" stroke="#8f4f78" stroke-width="1.6" fill="none"/>
<path d="M856.32 2165.1v5.4M860.66 2165.1v5.4M865 2165.1v5.4M873.68 2165.1v5.4" stroke="#d84f42" stroke-width="1.55" fill="none"/>
<path d="M857.77 2165.1v5.4M859.22 2165.1v5.4M862.11 2165.1v5.4M866.45 2165.1v5.4M870.79 2165.1v5.4M875.13 2165.1v5.4" stroke="#dd6c45" stroke-width="1.55" fill="none"/>
<path d="M863.56 2165.1v5.4M867.9 2165.1v5.4M872.24 2165.1v5.4M876.58 2165.1v5.4" stroke="#8f4f78" stroke-width="1.55" fill="none"/>
<path d="M869.34 2165.1v5.4" stroke="#4a78b0" stroke-width="1.55" fill="none"/>
<path d="M918.7 2165.1v5.4M922.9 2165.1v5.4M936.9 2165.1v5.4" stroke="#d84f42" stroke-width="1.5" fill="none"/>
<path d="M920.1 2165.1v5.4" stroke="#8f4f78" stroke-width="1.5" fill="none"/>
<path d="M921.5 2165.1v5.4M925.7 2165.1v5.4" stroke="#4a78b0" stroke-width="1.5" fill="none"/>
<path d="M924.3 2165.1v5.4M927.1 2165.1v5.4M929.9 2165.1v5.4M934.1 2165.1v5.4" stroke="#dc8448" stroke-width="1.5" fill="none"/>
<path d="M928.5 2165.1v5.4M931.3 2165.1v5.4M932.7 2165.1v5.4M935.5 2165.1v5.4" stroke="#a9a547" stroke-width="1.5" fill="none"/>
<path d="M240.71 2193.9v5.4M244.99 2193.9v5.4M254.98 2193.9v5.4M263.54 2193.9v5.4M266.39 2193.9v5.4M277.81 2193.9v5.4" stroke="#a9a547" stroke-width="1.53" fill="none"/>
<path d="M242.14 2193.9v5.4M250.7 2193.9v5.4M276.38 2193.9v5.4M280.66 2193.9v5.4" stroke="#8f4f78" stroke-width="1.53" fill="none"/>
<path d="M243.57 2193.9v5.4M269.25 2193.9v5.4M282.09 2193.9v5.4" stroke="#d84f42" stroke-width="1.53" fill="none"/>
<path d="M246.42 2193.9v5.4M247.85 2193.9v5.4M252.13 2193.9v5.4M253.55 2193.9v5.4M256.41 2193.9v5.4M257.83 2193.9v5.4M262.11 2193.9v5.4M264.97 2193.9v5.4M267.82 2193.9v5.4M270.67 2193.9v5.4M272.1 2193.9v5.4" stroke="#dc8448" stroke-width="1.53" fill="none"/>
<path d="M249.27 2193.9v5.4M259.26 2193.9v5.4M273.53 2193.9v5.4M274.95 2193.9v5.4M279.23 2193.9v5.4" stroke="#4a78b0" stroke-width="1.53" fill="none"/>
<path d="M260.69 2193.9v5.4" stroke="#72b163" stroke-width="1.53" fill="none"/>
<path d="M243 2201.1v5.4M247.23 2201.1v5.4M251.45 2201.1v5.4M255.67 2201.1v5.4M259.9 2201.1v5.4M264.12 2201.1v5.4M268.34 2201.1v5.4M272.57 2201.1v5.4M276.79 2201.1v5.4" stroke="#d84f42" stroke-width="1.51" fill="none"/>
<path d="M244.41 2201.1v5.4M248.63 2201.1v5.4M252.86 2201.1v5.4M257.08 2201.1v5.4M261.3 2201.1v5.4M265.53 2201.1v5.4M269.75 2201.1v5.4M273.97 2201.1v5.4M278.2 2201.1v5.4" stroke="#dd6c45" stroke-width="1.51" fill="none"/>
<path d="M245.82 2201.1v5.4M250.04 2201.1v5.4M254.27 2201.1v5.4M258.49 2201.1v5.4M262.71 2201.1v5.4M266.93 2201.1v5.4M271.16 2201.1v5.4M275.38 2201.1v5.4" stroke="#8f4f78" stroke-width="1.51" fill="none"/>
<path d="M457.1 2201.1v5.4M461.32 2201.1v5.4M465.54 2201.1v5.4M469.77 2201.1v5.4M473.99 2201.1v5.4M478.21 2201.1v5.4M482.43 2201.1v5.4M486.65 2201.1v5.4M490.87 2201.1v5.4M495.09 2201.1v5.4M499.31 2201.1v5.4M503.53 2201.1v5.4M507.75 2201.1v5.4M509.16 2201.1v5.4M511.97 2201.1v5.4M516.19 2201.1v5.4M520.41 2201.1v5.4M524.63 2201.1v5.4M528.86 2201.1v5.4M533.08 2201.1v5.4M537.3 2201.1v5.4" stroke="#d84f42" stroke-width="1.51" fill="none"/>
<path d="M458.51 2201.1v5.4M462.73 2201.1v5.4M466.95 2201.1v5.4M471.17 2201.1v5.4M475.39 2201.1v5.4M479.61 2201.1v5.4M483.83 2201.1v5.4M488.06 2201.1v5.4M492.28 2201.1v5.4M496.5 2201.1v5.4M500.72 2201.1v5.4M504.94 2201.1v5.4M513.38 2201.1v5.4M517.6 2201.1v5.4M521.82 2201.1v5.4M526.04 2201.1v5.4M530.26 2201.1v5.4M534.48 2201.1v5.4" stroke="#dd6c45" stroke-width="1.51" fill="none"/>
<path d="M459.92 2201.1v5.4M464.14 2201.1v5.4M468.36 2201.1v5.4M472.58 2201.1v5.4M476.8 2201.1v5.4M481.02 2201.1v5.4M485.24 2201.1v5.4M489.46 2201.1v5.4M493.68 2201.1v5.4M497.9 2201.1v5.4M502.12 2201.1v5.4M506.34 2201.1v5.4M510.57 2201.1v5.4M514.79 2201.1v5.4M519.01 2201.1v5.4M523.23 2201.1v5.4M527.45 2201.1v5.4M531.67 2201.1v5.4M535.89 2201.1v5.4" stroke="#8f4f78" stroke-width="1.51" fill="none"/>
<path d="M819.21 2208.3v5.4M823.46 2208.3v5.4M827.71 2208.3v5.4M831.96 2208.3v5.4M836.21 2208.3v5.4M837.62 2208.3v5.4M840.46 2208.3v5.4M844.71 2208.3v5.4M848.96 2208.3v5.4" stroke="#d84f42" stroke-width="1.52" fill="none"/>
<path d="M820.62 2208.3v5.4M824.88 2208.3v5.4M829.12 2208.3v5.4M833.38 2208.3v5.4M841.88 2208.3v5.4M846.12 2208.3v5.4" stroke="#dd6c45" stroke-width="1.52" fill="none"/>
<path d="M822.04 2208.3v5.4M830.54 2208.3v5.4M834.79 2208.3v5.4M843.29 2208.3v5.4M847.54 2208.3v5.4M851.79 2208.3v5.4" stroke="#8f4f78" stroke-width="1.52" fill="none"/>
<path d="M826.29 2208.3v5.4M850.38 2208.3v5.4" stroke="#72b163" stroke-width="1.52" fill="none"/>
<path d="M839.04 2208.3v5.4" stroke="#4a78b0" stroke-width="1.52" fill="none"/>
<path d="M781.48 2215.5v5.4M785.55 2215.5v5.4M789.62 2215.5v5.4M793.69 2215.5v5.4M797.76 2215.5v5.4" stroke="#d84f42" stroke-width="1.46" fill="none"/>
<path d="M782.84 2215.5v5.4M786.91 2215.5v5.4M790.98 2215.5v5.4M795.05 2215.5v5.4M799.12 2215.5v5.4" stroke="#dd6c45" stroke-width="1.46" fill="none"/>
<path d="M784.19 2215.5v5.4M788.26 2215.5v5.4M792.34 2215.5v5.4M796.41 2215.5v5.4" stroke="#8f4f78" stroke-width="1.46" fill="none"/>
<path d="M19.29 2222.7v5.4" stroke="#4a78b0" stroke-width="1.48" fill="none"/>
<path d="M20.68 2222.7v5.4M22.06 2222.7v5.4M24.83 2222.7v5.4M26.22 2222.7v5.4M30.37 2222.7v5.4" stroke="#dc8448" stroke-width="1.48" fill="none"/>
<path d="M23.45 2222.7v5.4" stroke="#8f4f78" stroke-width="1.48" fill="none"/>
<path d="M27.6 2222.7v5.4M28.98 2222.7v5.4" stroke="#a9a547" stroke-width="1.48" fill="none"/>
<path d="M31.75 2222.7v5.4" stroke="#72b163" stroke-width="1.48" fill="none"/>
<path d="M33.14 2222.7v5.4M34.52 2222.7v5.4M35.91 2222.7v5.4" stroke="#d84f42" stroke-width="1.48" fill="none"/>
<path d="M52.5 2071.5v5.4M52.5 2078.7v5.4M52.5 2085.9v5.4M52.5 2093.1v5.4M52.5 2100.3v5.4M52.5 2107.5v5.4M52.5 2121.9v5.4M52.5 2129.1v5.4M52.5 2150.7v5.4M52.5 2165.1v5.4M52.5 2172.3v5.4M52.5 2179.5v5.4M52.5 2201.1v5.4M52.5 2208.3v5.4M52.5 2215.5v5.4M52.5 2222.7v5.4" stroke="#3b5ba9" stroke-width="1.3" fill="none"/>
<path d="M68 2071.5v5.4M68 2078.7v5.4M68 2085.9v5.4M68 2093.1v5.4M68 2100.3v5.4M68 2107.5v5.4M68 2114.7v5.4M68 2121.9v5.4M68 2129.1v5.4M68 2136.3v5.4M68 2143.5v5.4M68 2150.7v5.4M68 2165.1v5.4M68 2172.3v5.4M68 2179.5v5.4M68 2186.7v5.4M68 2201.1v5.4M68 2208.3v5.4M68 2215.5v5.4M68 2222.7v5.4" stroke="#d98a3a" stroke-width="1.2" fill="none"/>
<rect x="561.4" y="2093.4" width="2.4" height="4.8" fill="#4a6cb3"/>
<path d="M562.5 2129.1V2141.7" stroke="#5a76b5" stroke-width="1.1" fill="none"/>
<path d="M562.5 2150.7V2177.7" stroke="#5a76b5" stroke-width="1.1" fill="none"/>
<path d="M562.5 2193.9V2206.5" stroke="#5a76b5" stroke-width="1.1" fill="none"/>
<path d="M562.5 2215.5V2220.9" stroke="#5a76b5" stroke-width="1.1" fill="none"/>
<path d="M597.4 2129.1V2206.5" stroke="#d69a5a" stroke-width="1.1" fill="none"/>
<path d="M597.4 2215.5V2220.9" stroke="#d69a5a" stroke-width="1.1" fill="none"/>
<path d="M780.8 2071.5v5.4M780.8 2078.7v5.4M780.8 2085.9v5.4M780.8 2093.1v5.4M780.8 2100.3v5.4M780.8 2107.5v5.4M780.8 2114.7v5.4M780.8 2121.9v5.4M780.8 2129.1v5.4M780.8 2136.3v5.4M780.8 2143.5v5.4M780.8 2150.7v5.4M780.8 2157.9v5.4M780.8 2165.1v5.4M780.8 2172.3v5.4M780.8 2179.5v5.4M780.8 2186.7v5.4M780.8 2193.9v5.4M780.8 2201.1v5.4M780.8 2208.3v5.4M780.8 2215.5v5.4M780.8 2222.7v5.4" stroke="#de4b3c" stroke-width="1.2" fill="none"/>
<path d="M864.6 2071.5v5.4M864.6 2078.7v5.4M864.6 2085.9v5.4M864.6 2093.1v5.4M864.6 2100.3v5.4M864.6 2107.5v5.4M864.6 2114.7v5.4M864.6 2121.9v5.4M864.6 2129.1v5.4M864.6 2136.3v5.4M864.6 2143.5v5.4M864.6 2150.7v5.4M864.6 2157.9v5.4M864.6 2165.1v5.4M864.6 2172.3v5.4M864.6 2179.5v5.4M864.6 2186.7v5.4M864.6 2193.9v5.4M864.6 2201.1v5.4M864.6 2208.3v5.4M864.6 2215.5v5.4M864.6 2222.7v5.4" stroke="#d98a3a" stroke-width="1.2" fill="none"/>
<path d="M946 2121.9v5.4M946 2165.1v5.4M946 2172.3v5.4M946 2179.5v5.4M946 2186.7v5.4M946 2193.9v5.4M946 2208.3v5.4M946 2215.5v5.4" stroke="#de4b3c" stroke-width="1.2" fill="none"/>
<rect x="596.6" y="2078.4" width="6.1" height="6" fill="#5d4ea6"/>
<rect x="597.2" y="2085.6" width="6.6" height="6" fill="#5d4ea6"/>
<rect x="593.3" y="2100" width="6.7" height="6" fill="#5d4ea6"/>
<rect x="596.6" y="2107.2" width="6.1" height="6" fill="#5d4ea6"/>
<rect x="592.7" y="2114.4" width="8.3" height="6" fill="#5d4ea6"/>
<rect x="592.7" y="2121.6" width="8.3" height="6" fill="#5d4ea6"/>
<rect x="966" y="2121.6" width="6" height="6" fill="#5d4ea6"/>
<rect x="592.7" y="2136" width="8.3" height="6" fill="#5d4ea6"/>
<rect x="566.4" y="2143.2" width="8.3" height="6" fill="#5d4ea6"/>
<rect x="548.3" y="2164.8" width="7.2" height="6" fill="#5d4ea6"/>
<rect x="541.7" y="2172" width="6.6" height="6" fill="#5d4ea6"/>
<rect x="520" y="2179.2" width="6.1" height="6" fill="#5d4ea6"/>
<rect x="549.4" y="2179.2" width="5" height="6" fill="#5d4ea6"/>
<rect x="592.7" y="2179.2" width="8.3" height="6" fill="#5d4ea6"/>
<rect x="570.5" y="2186.4" width="8.4" height="6" fill="#5d4ea6"/>
<rect x="548.3" y="2193.6" width="7.2" height="6" fill="#5d4ea6"/>
<rect x="595.5" y="2208" width="6.1" height="6" fill="#5d4ea6"/>
<rect x="548.3" y="2215.2" width="7.2" height="6" fill="#5d4ea6"/>
<rect x="593.3" y="2222.4" width="6.7" height="6" fill="#5d4ea6"/>
<rect x="513.3" y="2179.2" width="6.7" height="6" fill="#5d4ea6"/>
<rect x="257.1" y="2079" width="1.8" height="4.8" fill="#3f4fa0"/>
<rect x="240.5" y="2100.6" width="1.8" height="4.8" fill="#3f4fa0"/>
<rect x="242.1" y="2165.4" width="1.8" height="4.8" fill="#3f4fa0"/>
<rect x="263.1" y="2179.8" width="1.8" height="4.8" fill="#3f4fa0"/>
<rect x="349.9" y="2208.6" width="1.8" height="4.8" fill="#3f4fa0"/>
<rect x="805.1" y="2086.2" width="1.8" height="4.8" fill="#3f4fa0"/>
<rect x="699.4" y="2201.4" width="1.8" height="4.8" fill="#3f4fa0"/>
<rect x="56.1" y="2151" width="1.8" height="4.8" fill="#3f4fa0"/>
<rect x="205.4" y="2085.7" width="6" height="5.8" fill="#fff"/>
<rect x="205.4" y="2087.9" width="6" height="1.4" fill="#111"/>
<rect x="464" y="2100.1" width="7" height="5.8" fill="#fff"/>
<rect x="464" y="2102.3" width="7" height="1.4" fill="#111"/>
<rect x="149" y="2222.5" width="5.4" height="5.8" fill="#fff"/>
<rect x="149" y="2224.7" width="5.4" height="1.4" fill="#111"/>
<rect x="993" y="2107.3" width="8" height="5.8" fill="#fff"/>
<rect x="993" y="2109.5" width="8" height="1.4" fill="#111"/>
<rect x="1023" y="2143.3" width="6" height="5.8" fill="#fff"/>
<rect x="1023" y="2145.5" width="6" height="1.4" fill="#111"/>
<rect x="691.9" y="2164.9" width="6" height="5.8" fill="#fff"/>
<rect x="691.9" y="2167.1" width="6" height="1.4" fill="#111"/>
<rect x="807" y="2164.9" width="5.4" height="5.8" fill="#fff"/>
<rect x="807" y="2167.1" width="5.4" height="1.4" fill="#111"/>
<rect x="755" y="2193.7" width="7.7" height="5.8" fill="#fff"/>
<rect x="755" y="2195.9" width="7.7" height="1.4" fill="#111"/>
<rect x="598" y="2092.9" width="5" height="5.8" fill="#fff"/>
<rect x="598" y="2095.1" width="5" height="1.4" fill="#111"/>
<rect x="945" y="2071.3" width="9" height="5.8" fill="#fff"/>
<rect x="945" y="2073.5" width="9" height="1.4" fill="#111"/>
<rect x="945" y="2078.5" width="6" height="5.8" fill="#fff"/>
<rect x="945" y="2080.7" width="6" height="1.4" fill="#111"/>
<rect x="945" y="2085.7" width="10" height="5.8" fill="#fff"/>
<rect x="945" y="2087.9" width="10" height="1.4" fill="#111"/>
<rect x="945" y="2092.9" width="6" height="5.8" fill="#fff"/>
<rect x="945" y="2095.1" width="6" height="1.4" fill="#111"/>
<rect x="945" y="2100.1" width="6" height="5.8" fill="#fff"/>
<rect x="945" y="2102.3" width="6" height="1.4" fill="#111"/>
<rect x="945" y="2107.3" width="9" height="5.8" fill="#fff"/>
<rect x="945" y="2109.5" width="9" height="1.4" fill="#111"/>
<rect x="945" y="2114.5" width="10" height="5.8" fill="#fff"/>
<rect x="945" y="2116.7" width="10" height="1.4" fill="#111"/>
<rect x="945" y="2136.1" width="9" height="5.8" fill="#fff"/>
<rect x="945" y="2138.3" width="9" height="1.4" fill="#111"/>
<rect x="945" y="2157.7" width="6" height="5.8" fill="#fff"/>
<rect x="945" y="2159.9" width="6" height="1.4" fill="#111"/>
<rect x="937" y="2200.9" width="9" height="5.8" fill="#fff"/>
<rect x="937" y="2203.1" width="9" height="1.4" fill="#111"/>
<path d="M18.7 2248.4v8M31.33 2248.4v8M39.76 2248.4v8M50.98 2248.4v8M67.83 2248.4v8M69.23 2248.4v8M70.63 2248.4v8M77.65 2248.4v8M87.48 2248.4v8M118.36 2248.4v8M132.39 2248.4v8M147.83 2248.4v8M178.71 2248.4v8M191.34 2248.4v8M201.17 2248.4v8M216.61 2248.4v8M222.22 2248.4v8M229.24 2248.4v8M232.05 2248.4v8M246.08 2248.4v8M288.19 2248.4v8M369.6 2248.4v8M396.27 2248.4v8M418.72 2248.4v8M443.99 2248.4v8M453.81 2248.4v8M483.29 2248.4v8M486.1 2248.4v8M487.5 2248.4v8M493.11 2248.4v8M512.76 2248.4v8M531.01 2248.4v8M535.22 2248.4v8M542.24 2248.4v8M568.91 2248.4v8M591.36 2248.4v8M596.98 2248.4v8M599.79 2248.4v8M632.07 2248.4v8M691.02 2248.4v8M700.84 2248.4v8M714.88 2248.4v8M727.51 2248.4v8M772.43 2248.4v8M790.67 2248.4v8M822.96 2248.4v8M855.24 2248.4v8M893.14 2248.4v8M900.15 2248.4v8M901.56 2248.4v8M935.24 2248.4v8M959.1 2248.4v8M970.33 2248.4v8M1006.83 2248.4v8M1015.25 2248.4v8" stroke="#f2a04a" stroke-width="1.5" fill="none"/>
<path d="M20.11 2248.4v8M28.53 2248.4v8M58 2248.4v8M91.69 2248.4v8M93.09 2248.4v8M138.01 2248.4v8M143.62 2248.4v8M157.66 2248.4v8M159.06 2248.4v8M185.73 2248.4v8M276.96 2248.4v8M338.72 2248.4v8M345.74 2248.4v8M371 2248.4v8M386.44 2248.4v8M393.46 2248.4v8M394.86 2248.4v8M425.74 2248.4v8M446.8 2248.4v8M455.22 2248.4v8M498.73 2248.4v8M523.99 2248.4v8M543.64 2248.4v8M546.45 2248.4v8M570.31 2248.4v8M573.12 2248.4v8M618.03 2248.4v8M640.49 2248.4v8M648.91 2248.4v8M675.58 2248.4v8M678.39 2248.4v8M783.66 2248.4v8M821.55 2248.4v8M824.36 2248.4v8M863.66 2248.4v8M879.1 2248.4v8M902.96 2248.4v8M911.38 2248.4v8M931.03 2248.4v8M980.16 2248.4v8M1012.44 2248.4v8M1013.84 2248.4v8" stroke="#6cc3b5" stroke-width="1.5" fill="none"/>
<path d="M21.51 2248.4v8M60.81 2248.4v8M62.21 2248.4v8M88.88 2248.4v8M105.72 2248.4v8M112.74 2248.4v8M122.57 2248.4v8M145.02 2248.4v8M149.24 2248.4v8M156.25 2248.4v8M166.08 2248.4v8M167.48 2248.4v8M168.89 2248.4v8M254.5 2248.4v8M258.72 2248.4v8M307.84 2248.4v8M310.65 2248.4v8M320.47 2248.4v8M327.49 2248.4v8M337.32 2248.4v8M347.14 2248.4v8M363.98 2248.4v8M441.18 2248.4v8M460.83 2248.4v8M490.31 2248.4v8M514.17 2248.4v8M522.59 2248.4v8M539.43 2248.4v8M589.96 2248.4v8M653.12 2248.4v8M657.33 2248.4v8M692.42 2248.4v8M699.44 2248.4v8M706.46 2248.4v8M744.36 2248.4v8M773.83 2248.4v8M804.71 2248.4v8M813.13 2248.4v8M815.94 2248.4v8M817.34 2248.4v8M853.84 2248.4v8M859.45 2248.4v8M912.79 2248.4v8M938.05 2248.4v8M954.89 2248.4v8M966.12 2248.4v8M967.53 2248.4v8M1001.21 2248.4v8" stroke="#f08a9a" stroke-width="1.5" fill="none"/>
<path d="M22.91 2248.4v8M25.72 2248.4v8M42.56 2248.4v8M52.39 2248.4v8M56.6 2248.4v8M72.04 2248.4v8M83.27 2248.4v8M84.67 2248.4v8M95.9 2248.4v8M102.92 2248.4v8M119.76 2248.4v8M121.16 2248.4v8M123.97 2248.4v8M130.99 2248.4v8M153.45 2248.4v8M171.69 2248.4v8M192.75 2248.4v8M205.38 2248.4v8M208.19 2248.4v8M226.43 2248.4v8M234.85 2248.4v8M241.87 2248.4v8M251.7 2248.4v8M267.14 2248.4v8M275.56 2248.4v8M279.77 2248.4v8M282.58 2248.4v8M283.98 2248.4v8M285.38 2248.4v8M286.79 2248.4v8M293.8 2248.4v8M303.63 2248.4v8M305.03 2248.4v8M313.45 2248.4v8M317.67 2248.4v8M328.89 2248.4v8M331.7 2248.4v8M334.51 2248.4v8M342.93 2248.4v8M351.35 2248.4v8M354.16 2248.4v8M387.84 2248.4v8M399.07 2248.4v8M413.11 2248.4v8M414.51 2248.4v8M429.95 2248.4v8M434.16 2248.4v8M436.97 2248.4v8M449.6 2248.4v8M467.85 2248.4v8M495.92 2248.4v8M507.15 2248.4v8M515.57 2248.4v8M564.7 2248.4v8M592.77 2248.4v8M606.8 2248.4v8M608.21 2248.4v8M609.61 2248.4v8M611.02 2248.4v8M612.42 2248.4v8M616.63 2248.4v8M620.84 2248.4v8M643.3 2248.4v8M650.32 2248.4v8M667.16 2248.4v8M671.37 2248.4v8M682.6 2248.4v8M709.27 2248.4v8M716.28 2248.4v8M719.09 2248.4v8M733.13 2248.4v8M738.74 2248.4v8M752.78 2248.4v8M756.99 2248.4v8M759.8 2248.4v8M766.81 2248.4v8M768.22 2248.4v8M776.64 2248.4v8M779.45 2248.4v8M793.48 2248.4v8M814.54 2248.4v8M831.38 2248.4v8M834.19 2248.4v8M849.62 2248.4v8M856.64 2248.4v8M867.87 2248.4v8M869.28 2248.4v8M872.08 2248.4v8M877.7 2248.4v8M880.5 2248.4v8M887.52 2248.4v8M890.33 2248.4v8M897.35 2248.4v8M898.75 2248.4v8M909.98 2248.4v8M928.23 2248.4v8M932.44 2248.4v8M946.47 2248.4v8M947.88 2248.4v8M971.74 2248.4v8M987.18 2248.4v8M991.39 2248.4v8" stroke="#e9566a" stroke-width="1.5" fill="none"/>
<path d="M24.32 2248.4v8M79.06 2248.4v8M170.29 2248.4v8M188.54 2248.4v8M195.55 2248.4v8M198.36 2248.4v8M206.78 2248.4v8M213.8 2248.4v8M220.82 2248.4v8M230.64 2248.4v8M247.49 2248.4v8M261.52 2248.4v8M271.35 2248.4v8M272.75 2248.4v8M314.86 2248.4v8M355.56 2248.4v8M379.42 2248.4v8M408.9 2248.4v8M411.71 2248.4v8M452.41 2248.4v8M470.66 2248.4v8M511.36 2248.4v8M516.97 2248.4v8M525.4 2248.4v8M529.61 2248.4v8M540.84 2248.4v8M554.87 2248.4v8M560.49 2248.4v8M571.71 2248.4v8M582.94 2248.4v8M585.75 2248.4v8M605.4 2248.4v8M629.26 2248.4v8M637.68 2248.4v8M639.09 2248.4v8M658.74 2248.4v8M662.95 2248.4v8M674.18 2248.4v8M676.98 2248.4v8M720.49 2248.4v8M735.93 2248.4v8M755.58 2248.4v8M771.02 2248.4v8M801.9 2248.4v8M827.17 2248.4v8M866.47 2248.4v8M873.49 2248.4v8M905.77 2248.4v8M917 2248.4v8M924.01 2248.4v8M926.82 2248.4v8M943.67 2248.4v8M950.68 2248.4v8M960.51 2248.4v8M963.32 2248.4v8M968.93 2248.4v8M977.35 2248.4v8M985.77 2248.4v8M1027.88 2248.4v8M1029.28 2248.4v8" stroke="#c9a870" stroke-width="1.5" fill="none"/>
<path d="M27.12 2248.4v8M74.85 2248.4v8M81.86 2248.4v8M98.71 2248.4v8M163.27 2248.4v8M209.59 2248.4v8M225.03 2248.4v8M274.15 2248.4v8M281.17 2248.4v8M302.23 2248.4v8M435.57 2248.4v8M459.43 2248.4v8M497.32 2248.4v8M501.54 2248.4v8M518.38 2248.4v8M532.41 2248.4v8M566.1 2248.4v8M580.14 2248.4v8M623.65 2248.4v8M679.79 2248.4v8M758.39 2248.4v8M785.06 2248.4v8M810.32 2248.4v8M828.57 2248.4v8M829.97 2248.4v8M836.99 2248.4v8M876.29 2248.4v8M933.84 2248.4v8M994.19 2248.4v8M1008.23 2248.4v8M1016.65 2248.4v8M1018.06 2248.4v8" stroke="#2f9fc0" stroke-width="1.5" fill="none"/>
<path d="M29.93 2248.4v8M36.95 2248.4v8M43.97 2248.4v8M101.51 2248.4v8M109.93 2248.4v8M111.34 2248.4v8M152.04 2248.4v8M173.1 2248.4v8M181.52 2248.4v8M189.94 2248.4v8M239.06 2248.4v8M257.31 2248.4v8M269.94 2248.4v8M326.09 2248.4v8M344.33 2248.4v8M349.95 2248.4v8M417.32 2248.4v8M438.37 2248.4v8M469.25 2248.4v8M476.27 2248.4v8M509.96 2248.4v8M528.2 2248.4v8M575.93 2248.4v8M581.54 2248.4v8M669.97 2248.4v8M693.83 2248.4v8M705.06 2248.4v8M723.3 2248.4v8M737.34 2248.4v8M782.25 2248.4v8M797.69 2248.4v8M806.11 2248.4v8M807.52 2248.4v8M818.75 2248.4v8M841.2 2248.4v8M848.22 2248.4v8M888.93 2248.4v8M894.54 2248.4v8M939.45 2248.4v8M940.86 2248.4v8M945.07 2248.4v8M995.6 2248.4v8M999.81 2248.4v8M1009.63 2248.4v8M1020.86 2248.4v8" stroke="#e9776a" stroke-width="1.5" fill="none"/>
<path d="M32.74 2248.4v8M135.2 2248.4v8M182.92 2248.4v8M194.15 2248.4v8M240.47 2248.4v8M248.89 2248.4v8M250.29 2248.4v8M265.73 2248.4v8M278.37 2248.4v8M289.59 2248.4v8M295.21 2248.4v8M299.42 2248.4v8M324.68 2248.4v8M378.02 2248.4v8M448.2 2248.4v8M465.04 2248.4v8M473.46 2248.4v8M477.67 2248.4v8M502.94 2248.4v8M505.75 2248.4v8M561.89 2248.4v8M636.28 2248.4v8M646.1 2248.4v8M651.72 2248.4v8M664.35 2248.4v8M707.86 2248.4v8M721.9 2248.4v8M740.15 2248.4v8M748.57 2248.4v8M749.97 2248.4v8M778.04 2248.4v8M792.08 2248.4v8M832.78 2248.4v8M835.59 2248.4v8M852.43 2248.4v8M915.59 2248.4v8M918.4 2248.4v8M964.72 2248.4v8M989.98 2248.4v8M1030.69 2248.4v8" stroke="#e07a4a" stroke-width="1.5" fill="none"/>
<path d="M34.14 2248.4v8M86.07 2248.4v8M114.15 2248.4v8M115.55 2248.4v8M129.59 2248.4v8M154.85 2248.4v8M164.67 2248.4v8M292.4 2248.4v8M298.02 2248.4v8M309.24 2248.4v8M319.07 2248.4v8M321.88 2248.4v8M335.91 2248.4v8M352.76 2248.4v8M358.37 2248.4v8M359.77 2248.4v8M368.19 2248.4v8M390.65 2248.4v8M397.67 2248.4v8M427.15 2248.4v8M428.55 2248.4v8M432.76 2248.4v8M484.69 2248.4v8M500.13 2248.4v8M533.82 2248.4v8M547.85 2248.4v8M552.06 2248.4v8M574.52 2248.4v8M578.73 2248.4v8M613.82 2248.4v8M619.44 2248.4v8M625.05 2248.4v8M702.25 2248.4v8M710.67 2248.4v8M726.11 2248.4v8M761.2 2248.4v8M769.62 2248.4v8M789.27 2248.4v8M846.82 2248.4v8M851.03 2248.4v8M904.36 2248.4v8M908.58 2248.4v8M925.42 2248.4v8M949.28 2248.4v8M981.56 2248.4v8M988.58 2248.4v8M1004.02 2248.4v8M1034.9 2248.4v8" stroke="#b79fd0" stroke-width="1.5" fill="none"/>
<path d="M35.54 2248.4v8M66.42 2248.4v8M104.32 2248.4v8M107.13 2248.4v8M128.18 2248.4v8M140.81 2248.4v8M177.31 2248.4v8M180.11 2248.4v8M215.2 2248.4v8M244.68 2248.4v8M262.93 2248.4v8M268.54 2248.4v8M316.26 2248.4v8M361.18 2248.4v8M376.62 2248.4v8M380.83 2248.4v8M400.48 2248.4v8M403.28 2248.4v8M404.69 2248.4v8M420.13 2248.4v8M431.36 2248.4v8M463.64 2248.4v8M479.08 2248.4v8M588.56 2248.4v8M601.19 2248.4v8M604 2248.4v8M655.93 2248.4v8M672.77 2248.4v8M730.32 2248.4v8M734.53 2248.4v8M780.85 2248.4v8M800.5 2248.4v8M844.01 2248.4v8M862.26 2248.4v8M870.68 2248.4v8M883.31 2248.4v8M884.71 2248.4v8M886.12 2248.4v8M914.19 2248.4v8M922.61 2248.4v8M936.65 2248.4v8M975.95 2248.4v8M978.75 2248.4v8M984.37 2248.4v8M997 2248.4v8M1002.62 2248.4v8M1019.46 2248.4v8M1025.07 2248.4v8M1033.49 2248.4v8" stroke="#3fa98a" stroke-width="1.5" fill="none"/>
<path d="M38.35 2248.4v8M48.18 2248.4v8M49.58 2248.4v8M80.46 2248.4v8M108.53 2248.4v8M133.8 2248.4v8M136.6 2248.4v8M160.46 2248.4v8M175.9 2248.4v8M184.32 2248.4v8M199.76 2248.4v8M202.57 2248.4v8M223.63 2248.4v8M291 2248.4v8M296.61 2248.4v8M306.44 2248.4v8M330.3 2248.4v8M340.12 2248.4v8M356.97 2248.4v8M372.41 2248.4v8M375.21 2248.4v8M392.06 2248.4v8M410.3 2248.4v8M442.58 2248.4v8M480.48 2248.4v8M481.89 2248.4v8M521.19 2248.4v8M526.8 2248.4v8M536.63 2248.4v8M538.03 2248.4v8M559.08 2248.4v8M584.35 2248.4v8M587.15 2248.4v8M598.38 2248.4v8M615.23 2248.4v8M627.86 2248.4v8M644.7 2248.4v8M668.56 2248.4v8M681.19 2248.4v8M684 2248.4v8M741.55 2248.4v8M742.95 2248.4v8M747.16 2248.4v8M775.23 2248.4v8M787.87 2248.4v8M799.1 2248.4v8M803.31 2248.4v8M825.76 2248.4v8M838.4 2248.4v8M858.05 2248.4v8M865.06 2248.4v8M874.89 2248.4v8M881.91 2248.4v8M891.73 2248.4v8M907.17 2248.4v8M921.21 2248.4v8M1032.09 2248.4v8" stroke="#5fbf84" stroke-width="1.5" fill="none"/>
<path d="M41.16 2248.4v8M46.77 2248.4v8M53.79 2248.4v8M63.62 2248.4v8M73.44 2248.4v8M146.43 2248.4v8M210.99 2248.4v8M212.4 2248.4v8M218.01 2248.4v8M227.84 2248.4v8M236.26 2248.4v8M243.28 2248.4v8M253.1 2248.4v8M260.12 2248.4v8M323.28 2248.4v8M385.04 2248.4v8M401.88 2248.4v8M415.92 2248.4v8M421.53 2248.4v8M424.34 2248.4v8M445.39 2248.4v8M456.62 2248.4v8M472.06 2248.4v8M474.87 2248.4v8M550.66 2248.4v8M553.47 2248.4v8M563.29 2248.4v8M594.17 2248.4v8M595.58 2248.4v8M602.59 2248.4v8M641.89 2248.4v8M647.51 2248.4v8M660.14 2248.4v8M685.41 2248.4v8M695.23 2248.4v8M696.63 2248.4v8M698.04 2248.4v8M713.48 2248.4v8M745.76 2248.4v8M839.8 2248.4v8M845.41 2248.4v8M860.85 2248.4v8M895.94 2248.4v8M942.26 2248.4v8M953.49 2248.4v8M956.3 2248.4v8M961.91 2248.4v8M973.14 2248.4v8M982.97 2248.4v8M992.79 2248.4v8M1022.27 2248.4v8M1023.67 2248.4v8" stroke="#4f7fcc" stroke-width="1.5" fill="none"/>
<path d="M45.37 2248.4v8M65.02 2248.4v8M76.25 2248.4v8M90.28 2248.4v8M125.37 2248.4v8M126.78 2248.4v8M142.22 2248.4v8M150.64 2248.4v8M187.13 2248.4v8M196.96 2248.4v8M219.41 2248.4v8M362.58 2248.4v8M365.39 2248.4v8M373.81 2248.4v8M383.63 2248.4v8M458.02 2248.4v8M466.45 2248.4v8M491.71 2248.4v8M494.52 2248.4v8M504.34 2248.4v8M508.55 2248.4v8M545.05 2248.4v8M549.26 2248.4v8M567.5 2248.4v8M634.88 2248.4v8M686.81 2248.4v8M689.62 2248.4v8M712.07 2248.4v8M751.37 2248.4v8M754.18 2248.4v8M762.6 2248.4v8M764.01 2248.4v8M842.61 2248.4v8M919.8 2248.4v8M929.63 2248.4v8M998.4 2248.4v8M1026.48 2248.4v8" stroke="#8f7fc0" stroke-width="1.5" fill="none"/>
<path d="M55.2 2248.4v8M59.41 2248.4v8M94.5 2248.4v8M97.3 2248.4v8M100.11 2248.4v8M116.95 2248.4v8M139.41 2248.4v8M161.87 2248.4v8M174.5 2248.4v8M203.98 2248.4v8M233.45 2248.4v8M237.66 2248.4v8M255.91 2248.4v8M264.33 2248.4v8M300.82 2248.4v8M312.05 2248.4v8M333.11 2248.4v8M341.53 2248.4v8M348.54 2248.4v8M366.79 2248.4v8M382.23 2248.4v8M389.25 2248.4v8M406.09 2248.4v8M407.5 2248.4v8M422.93 2248.4v8M439.78 2248.4v8M451.01 2248.4v8M462.24 2248.4v8M488.9 2248.4v8M519.78 2248.4v8M556.28 2248.4v8M557.68 2248.4v8M577.33 2248.4v8M622.24 2248.4v8M626.45 2248.4v8M630.67 2248.4v8M633.47 2248.4v8M654.53 2248.4v8M661.54 2248.4v8M665.76 2248.4v8M688.21 2248.4v8M703.65 2248.4v8M717.69 2248.4v8M724.71 2248.4v8M728.92 2248.4v8M731.72 2248.4v8M765.41 2248.4v8M786.46 2248.4v8M794.88 2248.4v8M796.29 2248.4v8M808.92 2248.4v8M811.73 2248.4v8M820.15 2248.4v8M952.09 2248.4v8M957.7 2248.4v8M974.54 2248.4v8M1005.42 2248.4v8M1011.04 2248.4v8" stroke="#e0485a" stroke-width="1.5" fill="none"/>
<path d="M537.2 2267.3V2274H596.6V2267.3" fill="none" stroke="#000" stroke-width="2.4"/>
<text x="608" y="2290.2" font-size="32.5" text-anchor="start" font-weight="normal" font-style="normal" fill="#000">‘CAG’ STR</text>
<rect x="20" y="2302.25" width="924.2" height="6.3" fill="#cbcbcb"/>
<path d="M93.9 2297.2L104.1 2305.4L93.9 2313.6L95.12 2305.4z" fill="#cbcbcb"/>
<path d="M212.5 2297.2L222.7 2305.4L212.5 2313.6L213.72 2305.4z" fill="#cbcbcb"/>
<path d="M331 2297.2L341.2 2305.4L331 2313.6L332.22 2305.4z" fill="#cbcbcb"/>
<path d="M449.7 2297.2L459.9 2305.4L449.7 2313.6L450.92 2305.4z" fill="#cbcbcb"/>
<path d="M779 2297.2L789.2 2305.4L779 2313.6L780.22 2305.4z" fill="#cbcbcb"/>
<path d="M877.5 2297.2L887.7 2305.4L877.5 2313.6L878.72 2305.4z" fill="#cbcbcb"/>
<rect x="535.9" y="2300.9" width="167.1" height="9" fill="#4d5ba6"/>
<rect x="960.2" y="2301.4" width="70.2" height="4" fill="#000"/>
<text x="632" y="2341.4" font-size="32.9" text-anchor="middle" font-weight="normal" font-style="normal" fill="#000">Exon 10</text>
<text x="999" y="2341.4" font-size="32.9" text-anchor="middle" font-weight="normal" font-style="normal" fill="#000">50 bp</text>
<text x="1104.6" y="2012.8" font-size="32.9" text-anchor="start" font-weight="normal" font-style="normal" fill="#000">Illumina short-read WGS</text>
<path d="M1102.5 2050.5L1102.5 2031.96L1105.4 2031.96L1105.4 2031.58L1108.3 2031.58L1108.3 2030.6L1111.2 2030.6L1111.2 2030.14L1114.1 2030.14L1114.1 2030.95L1117 2030.95L1117 2029.76L1119.9 2029.76L1119.9 2029.87L1122.8 2029.87L1122.8 2028.98L1125.7 2028.98L1125.7 2029.34L1128.6 2029.34L1128.6 2028.82L1131.5 2028.82L1131.5 2028.9L1134.4 2028.9L1134.4 2028.59L1137.3 2028.59L1137.3 2028.67L1140.2 2028.67L1140.2 2028.39L1143.1 2028.39L1143.1 2028.88L1146 2028.88L1146 2028.77L1148.9 2028.77L1148.9 2029.26L1151.8 2029.26L1151.8 2029.75L1154.7 2029.75L1154.7 2030.04L1157.6 2030.04L1157.6 2029.93L1160.5 2029.93L1160.5 2030.22L1163.4 2030.22L1163.4 2031.61L1166.3 2031.61L1166.3 2031.9L1169.2 2031.9L1169.2 2030.89L1172.1 2030.89L1172.1 2031.81L1175 2031.81L1175 2031.67L1177.9 2031.67L1177.9 2031.12L1180.8 2031.12L1180.8 2031.78L1183.7 2031.78L1183.7 2032.54L1186.6 2032.54L1186.6 2031.7L1189.5 2031.7L1189.5 2032.16L1192.4 2032.16L1192.4 2032.71L1195.3 2032.71L1195.3 2032.77L1198.2 2032.77L1198.2 2031.93L1201.1 2031.93L1201.1 2031.63L1204 2031.63L1204 2032.61L1206.9 2032.61L1206.9 2032.78L1209.8 2032.78L1209.8 2032.76L1212.7 2032.76L1212.7 2032.53L1215.6 2032.53L1215.6 2032.91L1218.5 2032.91L1218.5 2032.72L1221.4 2032.72L1221.4 2033.33L1224.3 2033.33L1224.3 2033.93L1227.2 2033.93L1227.2 2033.34L1230.1 2033.34L1230.1 2034.35L1233 2034.35L1233 2033.95L1235.9 2033.95L1235.9 2035.26L1238.8 2035.26L1238.8 2034.69L1241.7 2034.69L1241.7 2033.01L1244.6 2033.01L1244.6 2032.63L1247.5 2032.63L1247.5 2031.85L1250.4 2031.85L1250.4 2032.05L1253.3 2032.05L1253.3 2030.89L1256.2 2030.89L1256.2 2030.53L1259.1 2030.53L1259.1 2030.77L1262 2030.77L1262 2030.4L1264.9 2030.4L1264.9 2031.22L1267.8 2031.22L1267.8 2030.43L1270.7 2030.43L1270.7 2031.04L1273.6 2031.04L1273.6 2030.05L1276.5 2030.05L1276.5 2029.77L1279.4 2029.77L1279.4 2029.48L1282.3 2029.48L1282.3 2030.19L1285.2 2030.19L1285.2 2029.71L1288.1 2029.71L1288.1 2029.22L1291 2029.22L1291 2029.32L1293.9 2029.32L1293.9 2029.41L1296.8 2029.41L1296.8 2029.09L1299.7 2029.09L1299.7 2030.07L1302.6 2030.07L1302.6 2029.46L1305.5 2029.46L1305.5 2029.09L1308.4 2029.09L1308.4 2029.67L1311.3 2029.67L1311.3 2030.25L1314.2 2030.25L1314.2 2030.83L1317.1 2030.83L1317.1 2032.29L1320 2032.29L1320 2031.78L1322.9 2031.78L1322.9 2033.07L1325.8 2033.07L1325.8 2032.95L1328.7 2032.95L1328.7 2033.34L1331.6 2033.34L1331.6 2034.23L1334.5 2034.23L1334.5 2034.61L1337.4 2034.61L1337.4 2033.66L1340.3 2033.66L1340.3 2033.98L1343.2 2033.98L1343.2 2033.9L1346.1 2033.9L1346.1 2033.81L1349 2033.81L1349 2034.33L1351.9 2034.33L1351.9 2034.64L1354.8 2034.64L1354.8 2034.97L1357.7 2034.97L1357.7 2034.29L1360.6 2034.29L1360.6 2034.12L1363.5 2034.12L1363.5 2033.54L1366.4 2033.54L1366.4 2033.37L1369.3 2033.37L1369.3 2032.8L1372.2 2032.8L1372.2 2033.42L1375.1 2033.42L1375.1 2033.25L1378 2033.25L1378 2033.07L1380.9 2033.07L1380.9 2032.54L1383.8 2032.54L1383.8 2032.28L1386.7 2032.28L1386.7 2033.33L1389.6 2033.33L1389.6 2032.37L1392.5 2032.37L1392.5 2032.31L1395.4 2032.31L1395.4 2032.65L1398.3 2032.65L1398.3 2031.79L1401.2 2031.79L1401.2 2031.94L1404.1 2031.94L1404.1 2032.08L1407 2032.08L1407 2031.62L1409.9 2031.62L1409.9 2031.96L1412.8 2031.96L1412.8 2032.1L1415.7 2032.1L1415.7 2032.25L1418.6 2032.25L1418.6 2031.59L1421.5 2031.59L1421.5 2032.13L1424.4 2032.13L1424.4 2032.07L1427.3 2032.07L1427.3 2031.21L1430.2 2031.21L1430.2 2031.56L1433.1 2031.56L1433.1 2031.1L1436 2031.1L1436 2031.64L1438.9 2031.64L1438.9 2031.18L1441.8 2031.18L1441.8 2031.56L1444.7 2031.56L1444.7 2031.65L1447.6 2031.65L1447.6 2033.04L1450.5 2033.04L1450.5 2032.43L1453.4 2032.43L1453.4 2032.52L1456.3 2032.52L1456.3 2033.01L1459.2 2033.01L1459.2 2033.7L1462.1 2033.7L1462.1 2033.19L1465 2033.19L1465 2034.08L1467.9 2034.08L1467.9 2034.17L1470.8 2034.17L1470.8 2034.8L1473.7 2034.8L1473.7 2034.92L1476.6 2034.92L1476.6 2034.43L1479.5 2034.43L1479.5 2034.95L1482.4 2034.95L1482.4 2035.77L1485.3 2035.77L1485.3 2034.78L1488.2 2034.78L1488.2 2035.3L1491.1 2035.3L1491.1 2035.21L1494 2035.21L1494 2035.73L1496.9 2035.73L1496.9 2035.65L1499.8 2035.65L1499.8 2035.56L1502.7 2035.56L1502.7 2035.91L1505.6 2035.91L1505.6 2036.66L1508.5 2036.66L1508.5 2037.01L1511.4 2037.01L1511.4 2037.16L1514.3 2037.16L1514.3 2037.3L1517.2 2037.3L1517.2 2036.82L1520.1 2036.82L1520.1 2036.64L1523 2036.64L1523 2037.77L1525.9 2037.77L1525.9 2037.59L1528.8 2037.59L1528.8 2037.42L1531.7 2037.42L1531.7 2036.8L1534.6 2036.8L1534.6 2036.32L1537.5 2036.32L1537.5 2035.83L1540.4 2035.83L1540.4 2037.04L1543.3 2037.04L1543.3 2036.26L1546.2 2036.26L1546.2 2036.17L1549.1 2036.17L1549.1 2036.28L1552 2036.28L1552 2035.4L1554.9 2035.4L1554.9 2035.51L1557.8 2035.51L1557.8 2036.02L1560.7 2036.02L1560.7 2035.16L1563.6 2035.16L1563.6 2035.16L1566.5 2035.16L1566.5 2036.46L1569.4 2036.46L1569.4 2035.56L1572.3 2035.56L1572.3 2035.36L1575.2 2035.36L1575.2 2036.46L1578.1 2036.46L1578.1 2035.56L1581 2035.56L1581 2035.96L1583.9 2035.96L1583.9 2035.16L1586.8 2035.16L1586.8 2035.56L1589.7 2035.56L1589.7 2035.96L1592.6 2035.96L1592.6 2035.96L1595.5 2035.96L1595.5 2035.56L1598.4 2035.56L1598.4 2035.96L1601.3 2035.96L1601.3 2035.76L1604.2 2035.76L1604.2 2036.46L1607.1 2036.46L1607.1 2035.36L1610 2035.36L1610 2035.56L1612.9 2035.56L1612.9 2022.29L1615.8 2022.29L1615.8 2021.54L1618.7 2021.54L1618.7 2021.79L1621.6 2021.79L1621.6 2021.64L1624.5 2021.64L1624.5 2021.49L1627.4 2021.49L1627.4 2021.34L1630.3 2021.34L1630.3 2021.59L1633.2 2021.59L1633.2 2021.24L1636.1 2021.24L1636.1 2021.29L1639 2021.29L1639 2021.14L1641.9 2021.14L1641.9 2021.49L1644.8 2021.49L1644.8 2021.34L1647.7 2021.34L1647.7 2020.69L1650.6 2020.69L1650.6 2020.54L1653.5 2020.54L1653.5 2025.5L1656.4 2025.5L1656.4 2031.06L1659.3 2031.06L1659.3 2029.93L1662.2 2029.93L1662.2 2030.2L1665.1 2030.2L1665.1 2029.68L1668 2029.68L1668 2028.55L1670.9 2028.55L1670.9 2028.22L1673.8 2028.22L1673.8 2028.04L1676.7 2028.04L1676.7 2027.26L1679.6 2027.26L1679.6 2027.38L1682.5 2027.38L1682.5 2026.8L1685.4 2026.8L1685.4 2025.12L1688.3 2025.12L1688.3 2025.33L1691.2 2025.33L1691.2 2026.44L1694.1 2026.44L1694.1 2025.54L1697 2025.54L1697 2025.54L1699.9 2025.54L1699.9 2026.55L1702.8 2026.55L1702.8 2027.25L1705.7 2027.25L1705.7 2027.45L1708.6 2027.45L1708.6 2026.96L1711.5 2026.96L1711.5 2026.96L1714.4 2026.96L1714.4 2026.96L1717.3 2026.96L1717.3 2027.68L1720.2 2027.68L1720.2 2027.86L1723.1 2027.86L1723.1 2029.54L1726 2029.54L1726 2029.62L1728.9 2029.62L1728.9 2029.6L1731.8 2029.6L1731.8 2030.55L1734.7 2030.55L1734.7 2030.52L1737.6 2030.52L1737.6 2030.5L1740.5 2030.5L1740.5 2030.47L1743.4 2030.47L1743.4 2030.84L1746.3 2030.84L1746.3 2031.22L1749.2 2031.22L1749.2 2030.9L1752.1 2030.9L1752.1 2030.49L1755 2030.49L1755 2029.69L1757.9 2029.69L1757.9 2029.48L1760.8 2029.48L1760.8 2029.68L1763.7 2029.68L1763.7 2028.76L1766.6 2028.76L1766.6 2027.98L1769.5 2027.98L1769.5 2027.4L1772.4 2027.4L1772.4 2027.42L1775.3 2027.42L1775.3 2026.84L1778.2 2026.84L1778.2 2025.86L1781.1 2025.86L1781.1 2025.68L1784 2025.68L1784 2024.7L1786.9 2024.7L1786.9 2024.07L1789.8 2024.07L1789.8 2024.67L1792.7 2024.67L1792.7 2024.07L1795.6 2024.07L1795.6 2023.87L1798.5 2023.87L1798.5 2024.47L1801.4 2024.47L1801.4 2024.67L1804.3 2024.67L1804.3 2024.27L1807.2 2024.27L1807.2 2024.07L1810.1 2024.07L1810.1 2024.98L1813 2024.98L1813 2024.91L1815.9 2024.91L1815.9 2025.65L1818.8 2025.65L1818.8 2025.58L1821.7 2025.58L1821.7 2025.71L1824.6 2025.71L1824.6 2026.64L1827.5 2026.64L1827.5 2026.37L1830.4 2026.37L1830.4 2027.08L1833.3 2027.08L1833.3 2027.37L1836.2 2027.37L1836.2 2027.26L1839.1 2027.26L1839.1 2027.75L1842 2027.75L1842 2028.44L1844.9 2028.44L1844.9 2029.23L1847.8 2029.23L1847.8 2028.22L1850.7 2028.22L1850.7 2029.11L1853.6 2029.11L1853.6 2029.15L1856.5 2029.15L1856.5 2030.17L1859.4 2030.17L1859.4 2029.18L1862.3 2029.18L1862.3 2029.9L1865.2 2029.9L1865.2 2030.02L1868.1 2030.02L1868.1 2029.53L1871 2029.53L1871 2030.05L1873.9 2030.05L1873.9 2029.96L1876.8 2029.96L1876.8 2030.98L1879.7 2030.98L1879.7 2031.1L1882.6 2031.1L1882.6 2030.31L1885.5 2030.31L1885.5 2031.24L1888.4 2031.24L1888.4 2030.14L1891.3 2030.14L1891.3 2029.94L1894.2 2029.94L1894.2 2030.74L1897.1 2030.74L1897.1 2030.34L1900 2030.34L1900 2029.94L1902.9 2029.94L1902.9 2030.34L1905.8 2030.34L1905.8 2030.34L1908.7 2030.34L1908.7 2030.33L1911.6 2030.33L1911.6 2030.56L1914.5 2030.56L1914.5 2030.84L1917.4 2030.84L1917.4 2031.24L1920.3 2031.24L1920.3 2031.24L1923.2 2031.24L1923.2 2031.04L1926.1 2031.04L1926.1 2030.84L1929 2030.84L1929 2031.64L1931.9 2031.64L1931.9 2031.24L1934.8 2031.24L1934.8 2031.24L1937.7 2031.24L1937.7 2030.84L1940.6 2030.84L1940.6 2031.04L1943.5 2031.04L1943.5 2031.24L1946.4 2031.24L1946.4 2031.61L1949.3 2031.61L1949.3 2032.01L1952.2 2032.01L1952.2 2032.62L1955.1 2032.62L1955.1 2032.83L1958 2032.83L1958 2033.23L1960.9 2033.23L1960.9 2033.28L1963.8 2033.28L1963.8 2033.86L1966.7 2033.86L1966.7 2033.43L1969.6 2033.43L1969.6 2033.61L1972.5 2033.61L1972.5 2033.78L1975.4 2033.78L1975.4 2034.44L1978.3 2034.44L1978.3 2035.7L1981.2 2035.7L1981.2 2035.16L1984.1 2035.16L1984.1 2035.12L1987 2035.12L1987 2036.13L1989.9 2036.13L1989.9 2035.89L1992.8 2035.89L1992.8 2035.25L1995.7 2035.25L1995.7 2035.4L1998.6 2035.4L1998.6 2034.96L2001.5 2034.96L2001.5 2034.52L2004.4 2034.52L2004.4 2033.88L2007.3 2033.88L2007.3 2034.59L2010.2 2034.59L2010.2 2034.1L2013.1 2034.1L2013.1 2034.02L2016 2034.02L2016 2033.93L2018.9 2033.93L2018.9 2033.64L2021.8 2033.64L2021.8 2034.66L2024.7 2034.66L2024.7 2033.87L2027.6 2033.87L2027.6 2033.58L2030.5 2033.58L2030.5 2033.09L2033.4 2033.09L2033.4 2033.41L2036.3 2033.41L2036.3 2032.78L2039.2 2032.78L2039.2 2033.23L2042.1 2033.23L2042.1 2032.48L2045 2032.48L2045 2032.54L2047.9 2032.54L2047.9 2031.99L2050.8 2031.99L2050.8 2031.97L2053.7 2031.97L2053.7 2032.05L2056.6 2032.05L2056.6 2032.13L2059.5 2032.13L2059.5 2031.8L2062.4 2031.8L2062.4 2032.28L2065.3 2032.28L2065.3 2031.76L2068.2 2031.76L2068.2 2031.64L2071.1 2031.64L2071.1 2031.91L2072.6 2031.91L2072.6 2050.5z" fill="#b1b3b4"/>
<path d="M1105.4 2031.88V2050.5M1108.3 2031.3V2050.5M1111.2 2030.84V2050.5M1114.1 2030.55V2050.5M1117 2030.26V2050.5M1122.8 2029.68V2050.5M1128.6 2029.32V2050.5M1131.5 2029.2V2050.5M1134.4 2029.09V2050.5M1137.3 2028.97V2050.5M1140.2 2028.89V2050.5M1143.1 2029.18V2050.5M1146 2029.47V2050.5M1148.9 2029.76V2050.5M1151.8 2030.05V2050.5M1154.7 2030.34V2050.5M1163.4 2031.21V2050.5M1166.3 2031.5V2050.5M1169.2 2031.79V2050.5M1180.8 2032.08V2050.5M1183.7 2032.14V2050.5M1186.6 2032.2V2050.5M1189.5 2032.26V2050.5M1192.4 2032.31V2050.5M1198.2 2032.43V2050.5M1201.1 2032.53V2050.5M1204 2032.71V2050.5M1206.9 2032.88V2050.5M1209.8 2033.06V2050.5M1212.7 2033.23V2050.5M1215.6 2033.41V2050.5M1224.3 2034.03V2050.5M1227.2 2034.24V2050.5M1230.1 2034.45V2050.5M1233 2034.65V2050.5M1235.9 2034.86V2050.5M1241.7 2033.71V2050.5M1244.6 2033.13V2050.5M1247.5 2032.55V2050.5M1250.4 2032.15V2050.5M1253.3 2031.79V2050.5M1259.1 2031.07V2050.5M1262 2030.9V2050.5M1267.8 2030.73V2050.5M1270.7 2030.64V2050.5M1273.6 2030.55V2050.5M1276.5 2030.47V2050.5M1282.3 2030.29V2050.5M1285.2 2030.21V2050.5M1288.1 2030.12V2050.5M1291 2030.02V2050.5M1293.9 2029.91V2050.5M1296.8 2029.79V2050.5M1299.7 2029.67V2050.5M1302.6 2029.56V2050.5M1305.5 2029.59V2050.5M1308.4 2030.17V2050.5M1311.3 2030.75V2050.5M1314.2 2031.33V2050.5M1320 2032.28V2050.5M1322.9 2032.67V2050.5M1325.8 2033.05V2050.5M1328.7 2033.44V2050.5M1331.6 2033.83V2050.5M1334.5 2034.21V2050.5M1337.4 2034.36V2050.5M1340.3 2034.48V2050.5M1346.1 2034.71V2050.5M1349 2034.83V2050.5M1354.8 2034.57V2050.5M1357.7 2034.39V2050.5M1360.6 2034.22V2050.5M1363.5 2034.04V2050.5M1366.4 2033.87V2050.5M1369.3 2033.7V2050.5M1375.1 2033.35V2050.5M1378 2033.17V2050.5M1380.9 2033.04V2050.5M1383.8 2032.98V2050.5M1386.7 2032.93V2050.5M1392.5 2032.81V2050.5M1395.4 2032.75V2050.5M1398.3 2032.69V2050.5M1404.1 2032.58V2050.5M1407 2032.52V2050.5M1409.9 2032.46V2050.5M1412.8 2032.4V2050.5M1415.7 2032.35V2050.5M1418.6 2032.29V2050.5M1421.5 2032.23V2050.5M1424.4 2032.17V2050.5M1427.3 2032.11V2050.5M1433.1 2032V2050.5M1438.9 2031.88V2050.5M1444.7 2032.35V2050.5M1447.6 2032.64V2050.5M1450.5 2032.93V2050.5M1459.2 2033.8V2050.5M1465 2034.38V2050.5M1467.9 2034.67V2050.5M1470.8 2034.9V2050.5M1473.7 2035.02V2050.5M1479.5 2035.25V2050.5M1482.4 2035.37V2050.5M1485.3 2035.48V2050.5M1488.2 2035.6V2050.5M1491.1 2035.71V2050.5M1494 2035.83V2050.5M1496.9 2035.95V2050.5M1499.8 2036.06V2050.5M1502.7 2036.41V2050.5M1508.5 2037.11V2050.5M1511.4 2037.46V2050.5M1514.3 2037.8V2050.5M1520.1 2037.54V2050.5M1525.9 2037.19V2050.5M1528.8 2037.02V2050.5M1531.7 2036.9V2050.5M1534.6 2036.82V2050.5M1537.5 2036.73V2050.5M1546.2 2036.47V2050.5M1549.1 2036.38V2050.5M1552 2036.3V2050.5M1554.9 2036.21V2050.5M1557.8 2036.12V2050.5M1560.7 2036.06V2050.5M1563.6 2036.06V2050.5M1566.5 2036.06V2050.5M1572.3 2036.06V2050.5M1575.2 2036.06V2050.5M1578.1 2036.06V2050.5M1581 2036.06V2050.5M1583.9 2036.06V2050.5M1589.7 2036.06V2050.5M1592.6 2036.06V2050.5M1595.5 2036.06V2050.5M1598.4 2036.06V2050.5M1604.2 2036.06V2050.5M1607.1 2036.06V2050.5M1610 2036.06V2050.5M1612.9 2022.59V2050.5M1615.8 2022.44V2050.5M1618.7 2022.29V2050.5M1627.4 2021.84V2050.5M1633.2 2021.54V2050.5M1636.1 2021.39V2050.5M1641.9 2021.09V2050.5M1644.8 2020.94V2050.5M1647.7 2020.79V2050.5M1650.6 2020.64V2050.5M1656.4 2031.36V2050.5M1659.3 2030.83V2050.5M1662.2 2030.3V2050.5M1668 2029.25V2050.5M1670.9 2028.72V2050.5M1673.8 2028.14V2050.5M1676.7 2027.56V2050.5M1685.4 2025.82V2050.5M1688.3 2025.83V2050.5M1691.2 2026.04V2050.5M1697 2026.44V2050.5M1699.9 2026.65V2050.5M1702.8 2026.85V2050.5M1705.7 2027.05V2050.5M1708.6 2027.26V2050.5M1711.5 2027.46V2050.5M1714.4 2027.66V2050.5M1720.2 2028.56V2050.5M1723.1 2029.14V2050.5M1726 2029.72V2050.5M1731.8 2030.85V2050.5M1734.7 2031.02V2050.5M1737.6 2031.2V2050.5M1740.5 2031.37V2050.5M1743.4 2031.54V2050.5M1749.2 2031.4V2050.5M1752.1 2030.99V2050.5M1755 2030.59V2050.5M1757.9 2030.18V2050.5M1760.8 2029.78V2050.5M1763.7 2029.26V2050.5M1769.5 2028.1V2050.5M1772.4 2027.52V2050.5M1775.3 2026.94V2050.5M1778.2 2026.36V2050.5M1781.1 2025.78V2050.5M1789.8 2024.77V2050.5M1792.7 2024.77V2050.5M1795.6 2024.77V2050.5M1798.5 2024.77V2050.5M1801.4 2024.77V2050.5M1804.3 2024.77V2050.5M1807.2 2024.77V2050.5M1810.1 2025.08V2050.5M1813 2025.41V2050.5M1815.9 2025.75V2050.5M1818.8 2026.08V2050.5M1824.6 2026.74V2050.5M1827.5 2027.07V2050.5M1833.3 2027.67V2050.5M1839.1 2028.25V2050.5M1842 2028.54V2050.5M1844.9 2028.83V2050.5M1847.8 2029.12V2050.5M1853.6 2029.65V2050.5M1856.5 2029.77V2050.5M1868.1 2030.23V2050.5M1871 2030.35V2050.5M1876.8 2030.58V2050.5M1879.7 2030.7V2050.5M1882.6 2030.81V2050.5M1885.5 2030.84V2050.5M1891.3 2030.84V2050.5M1894.2 2030.84V2050.5M1897.1 2030.84V2050.5M1900 2030.84V2050.5M1902.9 2030.84V2050.5M1905.8 2030.84V2050.5M1911.6 2031.46V2050.5M1914.5 2031.74V2050.5M1920.3 2031.74V2050.5M1923.2 2031.74V2050.5M1926.1 2031.74V2050.5M1929 2031.74V2050.5M1934.8 2031.74V2050.5M1937.7 2031.74V2050.5M1946.4 2032.11V2050.5M1949.3 2032.51V2050.5M1955.1 2033.33V2050.5M1958 2033.73V2050.5M1960.9 2033.98V2050.5M1963.8 2034.16V2050.5M1966.7 2034.33V2050.5M1969.6 2034.51V2050.5M1972.5 2034.68V2050.5M1978.3 2035.3V2050.5M1981.2 2035.66V2050.5M1984.1 2036.02V2050.5M1987 2036.23V2050.5M1989.9 2035.99V2050.5M1992.8 2035.75V2050.5M1995.7 2035.5V2050.5M1998.6 2035.26V2050.5M2004.4 2034.78V2050.5M2007.3 2034.69V2050.5M2010.2 2034.6V2050.5M2013.1 2034.52V2050.5M2016 2034.43V2050.5M2018.9 2034.34V2050.5M2021.8 2034.26V2050.5M2024.7 2034.17V2050.5M2027.6 2034.08V2050.5M2033.4 2033.91V2050.5M2036.3 2033.68V2050.5M2039.2 2033.33V2050.5M2045 2032.64V2050.5M2050.8 2032.07V2050.5M2053.7 2032.15V2050.5M2056.6 2032.23V2050.5M2059.5 2032.3V2050.5M2065.3 2032.46V2050.5" stroke="#e4e5e5" stroke-width="0.5" fill="none"/>
<rect x="1133.7" y="2028.58" width="1.8" height="21.92" fill="#3b5ba9"/>
<rect x="1148.1" y="2029.27" width="1.8" height="21.23" fill="#d98a3a"/>
<rect x="1620" y="2021.68" width="1.8" height="10.09" fill="#de4b3c"/>
<rect x="1620" y="2031.77" width="1.8" height="18.73" fill="#3f78b8"/>
<rect x="1653.4" y="2031.24" width="1.8" height="19.26" fill="#d98a3a"/>
<rect x="1828.3" y="2026.76" width="1.8" height="23.74" fill="#de4b3c"/>
<rect x="1908.6" y="2030.65" width="1.8" height="19.85" fill="#d98a3a"/>
<rect x="1985.3" y="2035.79" width="1.8" height="14.71" fill="#de4b3c"/>
<rect x="1102.49" y="2053.9" width="32.98" height="5.4" rx="2.6" fill="#c9c9c9"/>
<rect x="1139.97" y="2053.9" width="200.3" height="5.4" rx="2.6" fill="#c9c9c9"/>
<rect x="1343.87" y="2053.9" width="200.3" height="5.4" rx="2.6" fill="#c9c9c9"/>
<rect x="1607.73" y="2053.9" width="151.74" height="5.4" rx="2.6" fill="#c9c9c9"/>
<rect x="1763.42" y="2053.9" width="200.09" height="5.4" rx="2.6" fill="#c9c9c9"/>
<rect x="1969.57" y="2053.9" width="103.03" height="5.4" rx="2.6" fill="#c9c9c9"/>
<rect x="1102.49" y="2061.1" width="11.09" height="5.4" rx="2.6" fill="#c9c9c9"/>
<rect x="1116.58" y="2061.1" width="200.3" height="5.4" rx="2.6" fill="#c9c9c9"/>
<rect x="1319.28" y="2061.1" width="200" height="5.4" rx="2.6" fill="#c9c9c9"/>
<rect x="1607.73" y="2061.1" width="132.94" height="5.4" rx="2.6" fill="#c9c9c9"/>
<rect x="1748.26" y="2061.1" width="163.71" height="5.4" rx="2.6" fill="#c9c9c9"/>
<rect x="1915.91" y="2061.1" width="156.69" height="5.4" rx="2.6" fill="#c9c9c9"/>
<rect x="1108.49" y="2068.3" width="401.8" height="5.4" rx="2.6" fill="#c9c9c9"/>
<rect x="1534.87" y="2068.3" width="85.16" height="5.4" rx="2.6" fill="#c9c9c9"/>
<rect x="1592.13" y="2068.3" width="65.15" height="5.4" rx="2.6" fill="#c9c9c9"/>
<rect x="1736.13" y="2068.3" width="201" height="5.4" rx="2.6" fill="#c9c9c9"/>
<rect x="1942.29" y="2068.3" width="130.31" height="5.4" rx="2.6" fill="#c9c9c9"/>
<rect x="1102.49" y="2075.5" width="133.43" height="5.4" rx="2.6" fill="#c9c9c9"/>
<rect x="1256.91" y="2075.5" width="200.9" height="5.4" rx="2.6" fill="#c9c9c9"/>
<rect x="1466.81" y="2075.5" width="153.22" height="5.4" rx="2.6" fill="#c9c9c9"/>
<rect x="1592.13" y="2075.5" width="65.15" height="5.4" rx="2.6" fill="#c9c9c9"/>
<rect x="1664.31" y="2075.5" width="212.15" height="5.4" rx="2.6" fill="#c9c9c9"/>
<rect x="1938.38" y="2075.5" width="134.22" height="5.4" rx="2.6" fill="#c9c9c9"/>
<rect x="1102.49" y="2082.7" width="97.45" height="5.4" rx="2.6" fill="#c9c9c9"/>
<rect x="1206.54" y="2082.7" width="200.9" height="5.4" rx="2.6" fill="#c9c9c9"/>
<rect x="1433.82" y="2082.7" width="186.21" height="5.4" rx="2.6" fill="#c9c9c9"/>
<rect x="1592.13" y="2082.7" width="39.41" height="5.4" rx="2.6" fill="#c9c9c9"/>
<rect x="1636.09" y="2082.7" width="200.09" height="5.4" rx="2.6" fill="#c9c9c9"/>
<rect x="1846.79" y="2082.7" width="201.61" height="5.4" rx="2.6" fill="#c9c9c9"/>
<rect x="2062.04" y="2082.7" width="10.56" height="5.4" rx="2.6" fill="#c9c9c9"/>
<rect x="1102.49" y="2089.9" width="95.05" height="5.4" rx="2.6" fill="#c9c9c9"/>
<rect x="1202.34" y="2089.9" width="199.1" height="5.4" rx="2.6" fill="#c9c9c9"/>
<rect x="1426.33" y="2089.9" width="193.7" height="5.4" rx="2.6" fill="#c9c9c9"/>
<rect x="1592.13" y="2089.9" width="34.86" height="5.4" rx="2.6" fill="#c9c9c9"/>
<rect x="1634.57" y="2089.9" width="197.06" height="5.4" rx="2.6" fill="#c9c9c9"/>
<rect x="1837.09" y="2089.9" width="173.99" height="5.4" rx="2.6" fill="#c9c9c9"/>
<rect x="1102.49" y="2097.1" width="89.96" height="5.4" rx="2.6" fill="#c9c9c9"/>
<rect x="1196.94" y="2097.1" width="200.9" height="5.4" rx="2.6" fill="#c9c9c9"/>
<rect x="1620.93" y="2097.1" width="200.09" height="5.4" rx="2.6" fill="#c9c9c9"/>
<rect x="1831.63" y="2097.1" width="201.61" height="5.4" rx="2.6" fill="#c9c9c9"/>
<rect x="2041.42" y="2097.1" width="31.18" height="5.4" rx="2.6" fill="#c9c9c9"/>
<rect x="1407.74" y="2097.1" width="200" height="5.4" rx="2.6" fill="#cfe3cc"/>
<rect x="1580" y="2097.1" width="27.29" height="5.4" rx="2.6" fill="#cfe3cc"/>
<rect x="1102.49" y="2104.3" width="26.99" height="5.4" rx="2.6" fill="#c9c9c9"/>
<rect x="1347.77" y="2104.3" width="159.52" height="5.4" rx="2.6" fill="#c9c9c9"/>
<rect x="1607.73" y="2104.3" width="114.75" height="5.4" rx="2.6" fill="#c9c9c9"/>
<rect x="1725.52" y="2104.3" width="201" height="5.4" rx="2.6" fill="#c9c9c9"/>
<rect x="1937.13" y="2104.3" width="73.94" height="5.4" rx="2.6" fill="#c9c9c9"/>
<rect x="1139.97" y="2104.7" width="85.46" height="4.6000000000000005" rx="2.2" fill="#fff" stroke="#a6a6a6" stroke-width="1.1"/>
<rect x="1102.49" y="2111.5" width="70.46" height="5.4" rx="2.6" fill="#c9c9c9"/>
<rect x="1184.35" y="2111.5" width="201.5" height="5.4" rx="2.6" fill="#c9c9c9"/>
<rect x="1393.34" y="2111.5" width="200.9" height="5.4" rx="2.6" fill="#c9c9c9"/>
<rect x="1609.24" y="2111.5" width="10.79" height="5.4" rx="2.6" fill="#c9c9c9"/>
<rect x="1592.13" y="2111.5" width="1.52" height="5.4" rx="2.6" fill="#c9c9c9"/>
<rect x="1609.71" y="2111.5" width="201.3" height="5.4" rx="2.6" fill="#c9c9c9"/>
<rect x="1816.47" y="2111.5" width="197.06" height="5.4" rx="2.6" fill="#c9c9c9"/>
<rect x="2038.39" y="2111.5" width="34.21" height="5.4" rx="2.6" fill="#c9c9c9"/>
<rect x="1102.49" y="2118.7" width="128.34" height="5.4" rx="2.6" fill="#c9c9c9"/>
<rect x="1251.51" y="2118.7" width="200.9" height="5.4" rx="2.6" fill="#c9c9c9"/>
<rect x="1673.98" y="2118.7" width="145.52" height="5.4" rx="2.6" fill="#c9c9c9"/>
<rect x="1822.53" y="2118.7" width="192.51" height="5.4" rx="2.6" fill="#c9c9c9"/>
<rect x="2042.33" y="2118.7" width="30.27" height="5.4" rx="2.6" fill="#c9c9c9"/>
<rect x="1466.81" y="2118.7" width="143.93" height="5.4" rx="2.6" fill="#cfe3cc"/>
<rect x="1592.13" y="2118.7" width="62.15" height="5.4" rx="2.6" fill="#cfe3cc"/>
<rect x="1102.49" y="2125.9" width="128.34" height="5.4" rx="2.6" fill="#c9c9c9"/>
<rect x="1251.51" y="2125.9" width="200.9" height="5.4" rx="2.6" fill="#c9c9c9"/>
<rect x="1454.81" y="2125.9" width="165.22" height="5.4" rx="2.6" fill="#c9c9c9"/>
<rect x="1592.13" y="2125.9" width="67.3" height="5.4" rx="2.6" fill="#c9c9c9"/>
<rect x="1663.37" y="2125.9" width="200.09" height="5.4" rx="2.6" fill="#c9c9c9"/>
<rect x="1871.04" y="2125.9" width="201.56" height="5.4" rx="2.6" fill="#c9c9c9"/>
<rect x="1102.49" y="2133.1" width="68.97" height="5.4" rx="2.6" fill="#c9c9c9"/>
<rect x="1181.95" y="2133.1" width="199.4" height="5.4" rx="2.6" fill="#c9c9c9"/>
<rect x="1393.34" y="2133.1" width="200" height="5.4" rx="2.6" fill="#c9c9c9"/>
<rect x="1586.06" y="2133.1" width="23.62" height="5.4" rx="2.6" fill="#c9c9c9"/>
<rect x="1812.83" y="2133.1" width="199.18" height="5.4" rx="2.6" fill="#c9c9c9"/>
<rect x="2038.39" y="2133.1" width="34.21" height="5.4" rx="2.6" fill="#c9c9c9"/>
<rect x="1622.44" y="2133.1" width="183.42" height="5.4" rx="2.6" fill="#cfe3cc"/>
<rect x="1102.49" y="2140.3" width="65.07" height="5.4" rx="2.6" fill="#c9c9c9"/>
<rect x="1178.05" y="2140.3" width="200.9" height="5.4" rx="2.6" fill="#c9c9c9"/>
<rect x="1381.35" y="2140.3" width="200.9" height="5.4" rx="2.6" fill="#c9c9c9"/>
<rect x="1589.75" y="2140.3" width="30.28" height="5.4" rx="2.6" fill="#c9c9c9"/>
<rect x="1609.71" y="2140.3" width="182.51" height="5.4" rx="2.6" fill="#c9c9c9"/>
<rect x="1796.77" y="2140.3" width="198.58" height="5.4" rx="2.6" fill="#c9c9c9"/>
<rect x="2038.39" y="2140.3" width="34.21" height="5.4" rx="2.6" fill="#c9c9c9"/>
<rect x="1102.49" y="2147.5" width="82.46" height="5.4" rx="2.6" fill="#c9c9c9"/>
<rect x="1372.95" y="2147.5" width="201.2" height="5.4" rx="2.6" fill="#c9c9c9"/>
<rect x="1792.22" y="2147.5" width="199.48" height="5.4" rx="2.6" fill="#c9c9c9"/>
<rect x="1290.79" y="2147.9" width="26.09" height="4.6000000000000005" rx="2.2" fill="#fff" stroke="#a6a6a6" stroke-width="1.1"/>
<rect x="1580" y="2147.9" width="74.28" height="4.6000000000000005" rx="2.2" fill="#fff" stroke="#a6a6a6" stroke-width="1.1"/>
<rect x="2028.69" y="2147.5" width="43.91" height="5.4" rx="2.6" fill="#e9cf7e"/>
<rect x="1102.49" y="2154.7" width="61.47" height="5.4" rx="2.6" fill="#c9c9c9"/>
<rect x="1170.85" y="2154.7" width="201.5" height="5.4" rx="2.6" fill="#c9c9c9"/>
<rect x="1373.85" y="2154.7" width="198.8" height="5.4" rx="2.6" fill="#c9c9c9"/>
<rect x="1607.73" y="2154.7" width="169.32" height="5.4" rx="2.6" fill="#c9c9c9"/>
<rect x="1787.67" y="2154.7" width="198.58" height="5.4" rx="2.6" fill="#c9c9c9"/>
<rect x="1999.28" y="2154.7" width="73.32" height="5.4" rx="2.6" fill="#c9c9c9"/>
<rect x="1102.49" y="2161.9" width="81.86" height="5.4" rx="2.6" fill="#c9c9c9"/>
<rect x="1363.36" y="2161.9" width="212.3" height="5.4" rx="2.6" fill="#c9c9c9"/>
<rect x="1607.73" y="2161.9" width="166.29" height="5.4" rx="2.6" fill="#c9c9c9"/>
<rect x="1784.64" y="2161.9" width="200.09" height="5.4" rx="2.6" fill="#c9c9c9"/>
<rect x="2015.65" y="2161.9" width="56.95" height="5.4" rx="2.6" fill="#c9c9c9"/>
<rect x="1290.79" y="2162.3" width="26.09" height="4.6000000000000005" rx="2.2" fill="#fff" stroke="#a6a6a6" stroke-width="1.1"/>
<rect x="1102.49" y="2169.1" width="52.47" height="5.4" rx="2.6" fill="#c9c9c9"/>
<rect x="1159.46" y="2169.1" width="194" height="5.4" rx="2.6" fill="#c9c9c9"/>
<rect x="1362.46" y="2169.1" width="200.9" height="5.4" rx="2.6" fill="#c9c9c9"/>
<rect x="1573.25" y="2169.1" width="46.78" height="5.4" rx="2.6" fill="#c9c9c9"/>
<rect x="1592.13" y="2169.1" width="65.15" height="5.4" rx="2.6" fill="#c9c9c9"/>
<rect x="1783.73" y="2169.1" width="201" height="5.4" rx="2.6" fill="#c9c9c9"/>
<rect x="1991.4" y="2169.1" width="81.2" height="5.4" rx="2.6" fill="#c9c9c9"/>
<rect x="1102.49" y="2176.3" width="25.49" height="5.4" rx="2.6" fill="#c9c9c9"/>
<rect x="1137.57" y="2176.3" width="201.2" height="5.4" rx="2.6" fill="#c9c9c9"/>
<rect x="1341.47" y="2176.3" width="199.4" height="5.4" rx="2.6" fill="#c9c9c9"/>
<rect x="1782.52" y="2176.3" width="200.09" height="5.4" rx="2.6" fill="#c9c9c9"/>
<rect x="2014.14" y="2176.3" width="58.46" height="5.4" rx="2.6" fill="#c9c9c9"/>
<rect x="1574.24" y="2176.7" width="80.04" height="4.6000000000000005" rx="2.2" fill="#fff" stroke="#a6a6a6" stroke-width="1.1"/>
<rect x="1102.49" y="2183.5" width="15.89" height="5.4" rx="2.6" fill="#c9c9c9"/>
<rect x="1348.97" y="2183.5" width="159.82" height="5.4" rx="2.6" fill="#c9c9c9"/>
<rect x="1571.75" y="2183.5" width="48.28" height="5.4" rx="2.6" fill="#c9c9c9"/>
<rect x="1592.13" y="2183.5" width="65.15" height="5.4" rx="2.6" fill="#c9c9c9"/>
<rect x="1781.61" y="2183.5" width="199.18" height="5.4" rx="2.6" fill="#c9c9c9"/>
<rect x="2012.01" y="2183.5" width="60.59" height="5.4" rx="2.6" fill="#c9c9c9"/>
<rect x="1142.97" y="2183.5" width="197" height="5.4" rx="2.6" fill="#cfe3cc"/>
<rect x="1102.49" y="2190.7" width="190.4" height="5.4" rx="2.6" fill="#c9c9c9"/>
<rect x="1301.29" y="2190.7" width="199.4" height="5.4" rx="2.6" fill="#c9c9c9"/>
<rect x="1607.73" y="2190.7" width="160.23" height="5.4" rx="2.6" fill="#c9c9c9"/>
<rect x="1770.39" y="2190.7" width="198.27" height="5.4" rx="2.6" fill="#c9c9c9"/>
<rect x="1976.54" y="2190.7" width="96.06" height="5.4" rx="2.6" fill="#c9c9c9"/>
<rect x="1117.48" y="2197.9" width="32.99" height="5.4" rx="2.6" fill="#c9c9c9"/>
<rect x="1303.39" y="2197.9" width="198.8" height="5.4" rx="2.6" fill="#c9c9c9"/>
<rect x="1557.36" y="2197.9" width="62.67" height="5.4" rx="2.6" fill="#c9c9c9"/>
<rect x="1592.13" y="2197.9" width="65.15" height="5.4" rx="2.6" fill="#c9c9c9"/>
<rect x="1777.06" y="2197.9" width="200.09" height="5.4" rx="2.6" fill="#c9c9c9"/>
<rect x="2006.86" y="2197.9" width="65.74" height="5.4" rx="2.6" fill="#c9c9c9"/>
<rect x="1102.49" y="2205.1" width="179.01" height="5.4" rx="2.6" fill="#c9c9c9"/>
<rect x="1298.29" y="2205.1" width="201.5" height="5.4" rx="2.6" fill="#c9c9c9"/>
<rect x="1607.73" y="2205.1" width="134.46" height="5.4" rx="2.6" fill="#c9c9c9"/>
<rect x="1749.77" y="2205.1" width="162.19" height="5.4" rx="2.6" fill="#c9c9c9"/>
<rect x="1920.15" y="2205.1" width="152.45" height="5.4" rx="2.6" fill="#c9c9c9"/>
<rect x="1102.49" y="2212.3" width="166.42" height="5.4" rx="2.6" fill="#c9c9c9"/>
<rect x="1295.29" y="2212.3" width="197" height="5.4" rx="2.6" fill="#c9c9c9"/>
<rect x="1706.72" y="2212.3" width="198.27" height="5.4" rx="2.6" fill="#c9c9c9"/>
<rect x="1913.48" y="2212.3" width="159.12" height="5.4" rx="2.6" fill="#c9c9c9"/>
<rect x="1611.83" y="2212.7" width="90.95" height="4.6000000000000005" rx="2.2" fill="#fff" stroke="#a6a6a6" stroke-width="1.1"/>
<rect x="1102.49" y="2219.5" width="165.52" height="5.4" rx="2.6" fill="#c9c9c9"/>
<rect x="1286.9" y="2219.5" width="201.8" height="5.4" rx="2.6" fill="#c9c9c9"/>
<rect x="1607.73" y="2219.5" width="144.16" height="5.4" rx="2.6" fill="#c9c9c9"/>
<rect x="1774.03" y="2219.5" width="200.09" height="5.4" rx="2.6" fill="#c9c9c9"/>
<rect x="1998.37" y="2219.5" width="74.23" height="5.4" rx="2.6" fill="#c9c9c9"/>
<rect x="1102.49" y="2226.7" width="164.32" height="5.4" rx="2.6" fill="#c9c9c9"/>
<rect x="1282.4" y="2226.7" width="199.4" height="5.4" rx="2.6" fill="#c9c9c9"/>
<rect x="1766.45" y="2226.7" width="201.61" height="5.4" rx="2.6" fill="#c9c9c9"/>
<rect x="1972.6" y="2226.7" width="100" height="5.4" rx="2.6" fill="#c9c9c9"/>
<rect x="1579.09" y="2227.1" width="75.19" height="4.6000000000000005" rx="2.2" fill="#fff" stroke="#a6a6a6" stroke-width="1.1"/>
<path d="M1560.47 2053.9v5.4M1564.72 2053.9v5.4M1568.96 2053.9v5.4M1573.21 2053.9v5.4M1577.46 2053.9v5.4M1581.71 2053.9v5.4M1590.2 2053.9v5.4M1594.45 2053.9v5.4M1598.7 2053.9v5.4M1602.95 2053.9v5.4M1607.19 2053.9v5.4" stroke="#d84f42" stroke-width="1.52" fill="none"/>
<path d="M1561.88 2053.9v5.4M1566.13 2053.9v5.4M1570.38 2053.9v5.4M1574.63 2053.9v5.4M1578.88 2053.9v5.4M1583.12 2053.9v5.4M1585.96 2053.9v5.4M1587.37 2053.9v5.4M1591.62 2053.9v5.4M1595.87 2053.9v5.4M1600.11 2053.9v5.4M1604.36 2053.9v5.4M1608.61 2053.9v5.4" stroke="#dd6c45" stroke-width="1.52" fill="none"/>
<path d="M1563.3 2053.9v5.4M1567.55 2053.9v5.4M1571.8 2053.9v5.4M1576.04 2053.9v5.4M1580.29 2053.9v5.4M1584.54 2053.9v5.4M1588.79 2053.9v5.4M1593.04 2053.9v5.4M1597.28 2053.9v5.4M1601.53 2053.9v5.4M1605.78 2053.9v5.4M1610.03 2053.9v5.4" stroke="#8f4f78" stroke-width="1.52" fill="none"/>
<path d="M1541.87 2061.1v5.4M1543.26 2061.1v5.4" stroke="#4a78b0" stroke-width="1.49" fill="none"/>
<path d="M1544.65 2061.1v5.4M1548.82 2061.1v5.4M1553 2061.1v5.4M1557.17 2061.1v5.4M1561.34 2061.1v5.4M1565.52 2061.1v5.4M1569.69 2061.1v5.4M1573.87 2061.1v5.4M1578.04 2061.1v5.4M1582.21 2061.1v5.4M1586.39 2061.1v5.4M1590.56 2061.1v5.4M1594.73 2061.1v5.4M1598.91 2061.1v5.4M1603.08 2061.1v5.4M1607.26 2061.1v5.4" stroke="#8f4f78" stroke-width="1.49" fill="none"/>
<path d="M1546.04 2061.1v5.4" stroke="#72b163" stroke-width="1.49" fill="none"/>
<path d="M1547.43 2061.1v5.4M1551.6 2061.1v5.4M1555.78 2061.1v5.4M1559.95 2061.1v5.4M1564.13 2061.1v5.4M1568.3 2061.1v5.4M1572.47 2061.1v5.4M1576.65 2061.1v5.4M1580.82 2061.1v5.4M1585 2061.1v5.4M1589.17 2061.1v5.4M1593.34 2061.1v5.4M1597.52 2061.1v5.4M1601.69 2061.1v5.4M1605.87 2061.1v5.4M1610.04 2061.1v5.4" stroke="#dd6c45" stroke-width="1.49" fill="none"/>
<path d="M1550.21 2061.1v5.4M1554.39 2061.1v5.4M1558.56 2061.1v5.4M1562.73 2061.1v5.4M1566.91 2061.1v5.4M1571.08 2061.1v5.4M1575.26 2061.1v5.4M1579.43 2061.1v5.4M1583.6 2061.1v5.4M1587.78 2061.1v5.4M1591.95 2061.1v5.4M1596.13 2061.1v5.4M1600.3 2061.1v5.4M1604.47 2061.1v5.4M1608.65 2061.1v5.4" stroke="#d84f42" stroke-width="1.49" fill="none"/>
<path d="M1654.98 2068.3v5.4M1660.61 2068.3v5.4M1730.99 2068.3v5.4" stroke="#4a78b0" stroke-width="1.51" fill="none"/>
<path d="M1656.39 2068.3v5.4M1664.83 2068.3v5.4M1669.06 2068.3v5.4M1673.28 2068.3v5.4M1677.5 2068.3v5.4M1681.72 2068.3v5.4M1685.95 2068.3v5.4M1687.35 2068.3v5.4M1690.17 2068.3v5.4M1694.39 2068.3v5.4M1698.61 2068.3v5.4M1702.84 2068.3v5.4M1707.06 2068.3v5.4M1711.28 2068.3v5.4M1715.51 2068.3v5.4M1719.73 2068.3v5.4M1723.95 2068.3v5.4M1728.17 2068.3v5.4M1732.4 2068.3v5.4" stroke="#dd6c45" stroke-width="1.51" fill="none"/>
<path d="M1657.8 2068.3v5.4M1662.02 2068.3v5.4M1666.24 2068.3v5.4M1670.46 2068.3v5.4M1674.69 2068.3v5.4M1678.91 2068.3v5.4M1683.13 2068.3v5.4M1691.58 2068.3v5.4M1695.8 2068.3v5.4M1700.02 2068.3v5.4M1704.24 2068.3v5.4M1708.47 2068.3v5.4M1712.69 2068.3v5.4M1716.91 2068.3v5.4M1721.14 2068.3v5.4M1725.36 2068.3v5.4M1729.58 2068.3v5.4" stroke="#8f4f78" stroke-width="1.51" fill="none"/>
<path d="M1659.2 2068.3v5.4M1663.43 2068.3v5.4M1667.65 2068.3v5.4M1671.87 2068.3v5.4M1676.09 2068.3v5.4M1680.32 2068.3v5.4M1684.54 2068.3v5.4M1688.76 2068.3v5.4M1692.98 2068.3v5.4M1697.21 2068.3v5.4M1701.43 2068.3v5.4M1705.65 2068.3v5.4M1709.88 2068.3v5.4M1714.1 2068.3v5.4M1718.32 2068.3v5.4M1722.54 2068.3v5.4M1726.77 2068.3v5.4" stroke="#d84f42" stroke-width="1.51" fill="none"/>
<path d="M1655 2075.5v5.4M1659.35 2075.5v5.4M1663.69 2075.5v5.4" stroke="#d84f42" stroke-width="1.55" fill="none"/>
<path d="M1656.45 2075.5v5.4M1660.79 2075.5v5.4M1662.24 2075.5v5.4" stroke="#dd6c45" stroke-width="1.55" fill="none"/>
<path d="M1657.9 2075.5v5.4M1666.59 2075.5v5.4" stroke="#8f4f78" stroke-width="1.55" fill="none"/>
<path d="M1665.14 2075.5v5.4" stroke="#72b163" stroke-width="1.55" fill="none"/>
<path d="M1874.17 2075.5v5.4M1879.83 2075.5v5.4M1903.88 2075.5v5.4M1913.79 2075.5v5.4M1920.86 2075.5v5.4M1935.01 2075.5v5.4M1937.84 2075.5v5.4" stroke="#a9a547" stroke-width="1.51" fill="none"/>
<path d="M1875.59 2075.5v5.4M1886.91 2075.5v5.4M1901.06 2075.5v5.4M1926.52 2075.5v5.4M1933.6 2075.5v5.4" stroke="#8f4f78" stroke-width="1.51" fill="none"/>
<path d="M1877 2075.5v5.4M1882.66 2075.5v5.4M1884.08 2075.5v5.4M1885.49 2075.5v5.4M1898.23 2075.5v5.4M1905.3 2075.5v5.4M1910.96 2075.5v5.4M1915.2 2075.5v5.4M1916.62 2075.5v5.4M1923.69 2075.5v5.4M1927.94 2075.5v5.4M1936.42 2075.5v5.4" stroke="#d84f42" stroke-width="1.51" fill="none"/>
<path d="M1878.42 2075.5v5.4M1888.32 2075.5v5.4M1889.74 2075.5v5.4M1892.57 2075.5v5.4M1893.98 2075.5v5.4M1896.81 2075.5v5.4M1902.47 2075.5v5.4M1908.13 2075.5v5.4M1909.54 2075.5v5.4M1912.37 2075.5v5.4M1918.03 2075.5v5.4M1919.45 2075.5v5.4M1922.28 2075.5v5.4M1929.35 2075.5v5.4M1930.77 2075.5v5.4M1939.25 2075.5v5.4M1940.67 2075.5v5.4" stroke="#dc8448" stroke-width="1.51" fill="none"/>
<path d="M1881.25 2075.5v5.4M1891.15 2075.5v5.4M1895.4 2075.5v5.4M1925.11 2075.5v5.4" stroke="#72b163" stroke-width="1.51" fill="none"/>
<path d="M1899.64 2075.5v5.4M1906.71 2075.5v5.4M1932.18 2075.5v5.4" stroke="#4a78b0" stroke-width="1.51" fill="none"/>
<path d="M2008.77 2089.9v5.4M2026.78 2089.9v5.4M2029.55 2089.9v5.4M2030.94 2089.9v5.4M2036.48 2089.9v5.4" stroke="#a9a547" stroke-width="1.49" fill="none"/>
<path d="M2010.15 2089.9v5.4M2012.92 2089.9v5.4M2014.31 2089.9v5.4M2015.7 2089.9v5.4M2017.08 2089.9v5.4M2018.47 2089.9v5.4M2024.01 2089.9v5.4M2035.1 2089.9v5.4" stroke="#d84f42" stroke-width="1.49" fill="none"/>
<path d="M2011.54 2089.9v5.4M2021.24 2089.9v5.4M2025.4 2089.9v5.4M2032.33 2089.9v5.4M2033.71 2089.9v5.4" stroke="#dc8448" stroke-width="1.49" fill="none"/>
<path d="M2019.85 2089.9v5.4M2022.63 2089.9v5.4" stroke="#72b163" stroke-width="1.49" fill="none"/>
<path d="M2028.17 2089.9v5.4" stroke="#8f4f78" stroke-width="1.49" fill="none"/>
<path d="M1226.13 2104.3v5.4M1240.09 2104.3v5.4M1241.49 2104.3v5.4M1255.46 2104.3v5.4M1269.43 2104.3v5.4M1272.22 2104.3v5.4M1275.02 2104.3v5.4M1283.4 2104.3v5.4M1284.79 2104.3v5.4M1288.98 2104.3v5.4M1291.78 2104.3v5.4M1293.18 2104.3v5.4M1301.56 2104.3v5.4M1316.92 2104.3v5.4M1318.32 2104.3v5.4M1332.29 2104.3v5.4M1335.08 2104.3v5.4M1339.27 2104.3v5.4" stroke="#a9a547" stroke-width="1.5" fill="none"/>
<path d="M1227.52 2104.3v5.4M1230.32 2104.3v5.4M1234.51 2104.3v5.4M1238.7 2104.3v5.4M1245.68 2104.3v5.4M1254.06 2104.3v5.4M1256.86 2104.3v5.4M1258.25 2104.3v5.4M1261.05 2104.3v5.4M1273.62 2104.3v5.4M1277.81 2104.3v5.4M1279.21 2104.3v5.4M1287.59 2104.3v5.4M1294.57 2104.3v5.4M1297.37 2104.3v5.4M1300.16 2104.3v5.4M1304.35 2104.3v5.4M1309.94 2104.3v5.4M1315.52 2104.3v5.4M1325.3 2104.3v5.4" stroke="#dc8448" stroke-width="1.5" fill="none"/>
<path d="M1228.92 2104.3v5.4M1249.87 2104.3v5.4M1252.67 2104.3v5.4M1262.44 2104.3v5.4M1263.84 2104.3v5.4M1270.83 2104.3v5.4M1295.97 2104.3v5.4M1307.14 2104.3v5.4M1314.13 2104.3v5.4M1329.49 2104.3v5.4M1337.87 2104.3v5.4" stroke="#72b163" stroke-width="1.5" fill="none"/>
<path d="M1231.71 2104.3v5.4M1233.11 2104.3v5.4M1268.03 2104.3v5.4M1286.19 2104.3v5.4M1322.51 2104.3v5.4M1336.48 2104.3v5.4" stroke="#4a78b0" stroke-width="1.5" fill="none"/>
<path d="M1235.9 2104.3v5.4M1244.28 2104.3v5.4M1247.08 2104.3v5.4M1259.65 2104.3v5.4M1265.24 2104.3v5.4M1266.63 2104.3v5.4M1276.41 2104.3v5.4M1280.6 2104.3v5.4M1282 2104.3v5.4M1290.38 2104.3v5.4M1298.76 2104.3v5.4M1302.95 2104.3v5.4M1311.33 2104.3v5.4M1319.72 2104.3v5.4M1321.11 2104.3v5.4M1323.91 2104.3v5.4M1326.7 2104.3v5.4M1328.1 2104.3v5.4M1330.89 2104.3v5.4" stroke="#d84f42" stroke-width="1.5" fill="none"/>
<path d="M1237.3 2104.3v5.4M1242.89 2104.3v5.4M1248.48 2104.3v5.4M1251.27 2104.3v5.4M1305.75 2104.3v5.4M1308.54 2104.3v5.4M1312.73 2104.3v5.4M1333.68 2104.3v5.4" stroke="#8f4f78" stroke-width="1.5" fill="none"/>
<path d="M1521.48 2104.3v5.4M1525.7 2104.3v5.4M1529.92 2104.3v5.4M1534.13 2104.3v5.4M1538.35 2104.3v5.4M1542.57 2104.3v5.4M1546.78 2104.3v5.4M1551 2104.3v5.4M1555.22 2104.3v5.4M1559.43 2104.3v5.4M1563.65 2104.3v5.4M1567.87 2104.3v5.4M1572.08 2104.3v5.4M1576.3 2104.3v5.4M1580.52 2104.3v5.4M1584.73 2104.3v5.4M1593.17 2104.3v5.4M1597.38 2104.3v5.4M1601.6 2104.3v5.4M1605.82 2104.3v5.4M1610.03 2104.3v5.4" stroke="#d84f42" stroke-width="1.51" fill="none"/>
<path d="M1522.89 2104.3v5.4M1527.1 2104.3v5.4M1531.32 2104.3v5.4M1535.54 2104.3v5.4M1539.75 2104.3v5.4M1543.97 2104.3v5.4M1548.19 2104.3v5.4M1552.4 2104.3v5.4M1556.62 2104.3v5.4M1560.84 2104.3v5.4M1565.05 2104.3v5.4M1569.27 2104.3v5.4M1573.49 2104.3v5.4M1577.7 2104.3v5.4M1581.92 2104.3v5.4M1586.14 2104.3v5.4M1588.95 2104.3v5.4M1590.35 2104.3v5.4M1594.57 2104.3v5.4M1598.79 2104.3v5.4M1603 2104.3v5.4M1607.22 2104.3v5.4" stroke="#dd6c45" stroke-width="1.51" fill="none"/>
<path d="M1524.29 2104.3v5.4M1528.51 2104.3v5.4M1532.73 2104.3v5.4M1536.94 2104.3v5.4M1541.16 2104.3v5.4M1545.38 2104.3v5.4M1549.59 2104.3v5.4M1553.81 2104.3v5.4M1558.03 2104.3v5.4M1562.24 2104.3v5.4M1566.46 2104.3v5.4M1570.68 2104.3v5.4M1574.89 2104.3v5.4M1579.11 2104.3v5.4M1583.33 2104.3v5.4M1587.54 2104.3v5.4M1591.76 2104.3v5.4M1595.98 2104.3v5.4M1600.19 2104.3v5.4M1604.41 2104.3v5.4" stroke="#8f4f78" stroke-width="1.51" fill="none"/>
<path d="M1608.63 2104.3v5.4" stroke="#72b163" stroke-width="1.51" fill="none"/>
<path d="M2008.77 2104.3v5.4M2010.17 2104.3v5.4M2011.57 2104.3v5.4M2012.97 2104.3v5.4M2014.37 2104.3v5.4M2015.77 2104.3v5.4M2017.17 2104.3v5.4M2018.57 2104.3v5.4M2024.17 2104.3v5.4M2025.57 2104.3v5.4" stroke="#3f66b0" stroke-width="1.5" fill="none"/>
<path d="M2019.97 2104.3v5.4M2021.37 2104.3v5.4M2022.77 2104.3v5.4" stroke="#d9603a" stroke-width="1.5" fill="none"/>
<path d="M2027.87 2104.3v5.4M2030.65 2104.3v5.4M2041.8 2104.3v5.4M2064.08 2104.3v5.4" stroke="#8f4f78" stroke-width="1.49" fill="none"/>
<path d="M2029.26 2104.3v5.4M2039.01 2104.3v5.4M2062.69 2104.3v5.4M2065.47 2104.3v5.4M2066.86 2104.3v5.4M2069.65 2104.3v5.4" stroke="#a9a547" stroke-width="1.49" fill="none"/>
<path d="M2032.05 2104.3v5.4M2047.37 2104.3v5.4M2071.04 2104.3v5.4" stroke="#4a78b0" stroke-width="1.49" fill="none"/>
<path d="M2033.44 2104.3v5.4M2036.23 2104.3v5.4M2037.62 2104.3v5.4M2040.4 2104.3v5.4M2048.76 2104.3v5.4M2054.33 2104.3v5.4M2058.51 2104.3v5.4M2059.9 2104.3v5.4M2061.29 2104.3v5.4" stroke="#d84f42" stroke-width="1.49" fill="none"/>
<path d="M2034.83 2104.3v5.4M2043.19 2104.3v5.4M2044.58 2104.3v5.4M2045.97 2104.3v5.4M2050.15 2104.3v5.4M2052.94 2104.3v5.4M2055.72 2104.3v5.4M2057.12 2104.3v5.4M2068.26 2104.3v5.4" stroke="#dc8448" stroke-width="1.49" fill="none"/>
<path d="M2051.54 2104.3v5.4" stroke="#72b163" stroke-width="1.49" fill="none"/>
<path d="M1654.95 2118.7v5.4M1658.99 2118.7v5.4M1663.03 2118.7v5.4" stroke="#d84f42" stroke-width="1.45" fill="none"/>
<path d="M1656.3 2118.7v5.4M1660.34 2118.7v5.4M1664.38 2118.7v5.4" stroke="#dd6c45" stroke-width="1.45" fill="none"/>
<path d="M1657.64 2118.7v5.4M1661.69 2118.7v5.4M1665.73 2118.7v5.4" stroke="#8f4f78" stroke-width="1.45" fill="none"/>
<path d="M1606.99 2133.1v5.4" stroke="#d84f42" stroke-width="1.6" fill="none"/>
<path d="M1608.49 2133.1v5.4" stroke="#dd6c45" stroke-width="1.6" fill="none"/>
<path d="M1609.99 2133.1v5.4" stroke="#8f4f78" stroke-width="1.6" fill="none"/>
<path d="M1607.29 2133.1v5.4" stroke="#d84f42" stroke-width="1.31" fill="none"/>
<path d="M1608.5 2133.1v5.4" stroke="#dd6c45" stroke-width="1.31" fill="none"/>
<path d="M1609.71 2133.1v5.4" stroke="#8f4f78" stroke-width="1.31" fill="none"/>
<path d="M1196.14 2147.5v5.4M1197.55 2147.5v5.4M1198.95 2147.5v5.4M1204.56 2147.5v5.4M1208.76 2147.5v5.4M1211.57 2147.5v5.4M1212.97 2147.5v5.4M1215.77 2147.5v5.4M1219.98 2147.5v5.4M1225.59 2147.5v5.4M1226.99 2147.5v5.4M1228.39 2147.5v5.4M1231.2 2147.5v5.4M1235.41 2147.5v5.4M1236.81 2147.5v5.4M1242.42 2147.5v5.4M1246.62 2147.5v5.4M1250.83 2147.5v5.4M1256.44 2147.5v5.4M1283.08 2147.5v5.4M1287.29 2147.5v5.4" stroke="#dc8448" stroke-width="1.5" fill="none"/>
<path d="M1200.35 2147.5v5.4M1210.17 2147.5v5.4M1217.18 2147.5v5.4M1222.79 2147.5v5.4M1232.6 2147.5v5.4M1238.21 2147.5v5.4M1239.61 2147.5v5.4M1241.02 2147.5v5.4M1243.82 2147.5v5.4M1252.23 2147.5v5.4M1255.04 2147.5v5.4M1259.24 2147.5v5.4M1267.66 2147.5v5.4M1269.06 2147.5v5.4M1271.86 2147.5v5.4M1273.27 2147.5v5.4M1277.47 2147.5v5.4M1280.28 2147.5v5.4" stroke="#d84f42" stroke-width="1.5" fill="none"/>
<path d="M1201.75 2147.5v5.4M1205.96 2147.5v5.4M1214.37 2147.5v5.4M1257.84 2147.5v5.4M1263.45 2147.5v5.4M1266.26 2147.5v5.4M1281.68 2147.5v5.4M1285.89 2147.5v5.4" stroke="#4a78b0" stroke-width="1.5" fill="none"/>
<path d="M1203.15 2147.5v5.4M1248.03 2147.5v5.4M1249.43 2147.5v5.4M1260.65 2147.5v5.4" stroke="#8f4f78" stroke-width="1.5" fill="none"/>
<path d="M1207.36 2147.5v5.4M1218.58 2147.5v5.4M1224.19 2147.5v5.4M1229.8 2147.5v5.4M1234 2147.5v5.4M1245.22 2147.5v5.4M1262.05 2147.5v5.4M1264.85 2147.5v5.4M1276.07 2147.5v5.4M1284.48 2147.5v5.4M1288.69 2147.5v5.4" stroke="#a9a547" stroke-width="1.5" fill="none"/>
<path d="M1221.38 2147.5v5.4M1253.64 2147.5v5.4M1270.46 2147.5v5.4M1274.67 2147.5v5.4M1278.88 2147.5v5.4M1290.09 2147.5v5.4" stroke="#72b163" stroke-width="1.5" fill="none"/>
<path d="M1317.59 2147.5v5.4M1333.14 2147.5v5.4M1338.79 2147.5v5.4M1345.86 2161.9v5.4M1360 2161.9v5.4M1364.24 2161.9v5.4" stroke="#4a78b0" stroke-width="1.51" fill="none"/>
<path d="M1319 2147.5v5.4M1326.07 2147.5v5.4M1328.9 2147.5v5.4M1330.31 2147.5v5.4M1331.72 2147.5v5.4M1335.96 2147.5v5.4M1341.62 2147.5v5.4M1345.86 2147.5v5.4M1347.27 2147.5v5.4M1355.75 2147.5v5.4M1358.58 2147.5v5.4M1360 2147.5v5.4M1362.82 2147.5v5.4M1317.59 2161.9v5.4M1323.24 2161.9v5.4M1328.9 2161.9v5.4M1330.31 2161.9v5.4M1338.79 2161.9v5.4M1344.45 2161.9v5.4M1348.69 2161.9v5.4M1351.51 2161.9v5.4M1352.93 2161.9v5.4M1354.34 2161.9v5.4M1361.41 2161.9v5.4M1365.65 2161.9v5.4M1552.07 2219.5v5.4M1556.31 2219.5v5.4M1560.55 2219.5v5.4M1564.79 2219.5v5.4M1569.03 2219.5v5.4M1573.27 2219.5v5.4M1577.52 2219.5v5.4M1581.76 2219.5v5.4M1586 2219.5v5.4M1590.24 2219.5v5.4M1594.48 2219.5v5.4M1598.72 2219.5v5.4M1602.96 2219.5v5.4M1607.2 2219.5v5.4" stroke="#d84f42" stroke-width="1.51" fill="none"/>
<path d="M1320.42 2147.5v5.4M1352.93 2147.5v5.4M1357.17 2147.5v5.4M1554.9 2219.5v5.4M1559.14 2219.5v5.4M1563.38 2219.5v5.4M1567.62 2219.5v5.4M1571.86 2219.5v5.4M1576.1 2219.5v5.4M1580.34 2219.5v5.4M1584.58 2219.5v5.4M1588.82 2219.5v5.4M1593.06 2219.5v5.4M1597.31 2219.5v5.4M1601.55 2219.5v5.4M1605.79 2219.5v5.4M1610.03 2219.5v5.4" stroke="#8f4f78" stroke-width="1.51" fill="none"/>
<path d="M1321.83 2147.5v5.4M1344.45 2147.5v5.4M1364.24 2147.5v5.4M1320.42 2161.9v5.4M1331.72 2161.9v5.4M1350.1 2161.9v5.4M1358.58 2161.9v5.4M1362.82 2161.9v5.4" stroke="#a9a547" stroke-width="1.51" fill="none"/>
<path d="M1323.24 2147.5v5.4M1324.66 2147.5v5.4M1327.48 2147.5v5.4M1337.38 2147.5v5.4M1340.21 2147.5v5.4M1343.03 2147.5v5.4M1348.69 2147.5v5.4M1350.1 2147.5v5.4M1351.51 2147.5v5.4M1354.34 2147.5v5.4M1361.41 2147.5v5.4M1365.65 2147.5v5.4M1319 2161.9v5.4M1321.83 2161.9v5.4M1324.66 2161.9v5.4M1326.07 2161.9v5.4M1327.48 2161.9v5.4M1333.14 2161.9v5.4M1334.55 2161.9v5.4M1335.96 2161.9v5.4M1340.21 2161.9v5.4M1343.03 2161.9v5.4M1347.27 2161.9v5.4M1355.75 2161.9v5.4M1357.17 2161.9v5.4" stroke="#dc8448" stroke-width="1.51" fill="none"/>
<path d="M1334.55 2147.5v5.4M1337.38 2161.9v5.4M1341.62 2161.9v5.4M1604.37 2219.5v5.4" stroke="#72b163" stroke-width="1.51" fill="none"/>
<path d="M1654.97 2147.5v5.4M1691.19 2147.5v5.4" stroke="#72b163" stroke-width="1.49" fill="none"/>
<path d="M1656.37 2147.5v5.4M1660.54 2147.5v5.4M1664.72 2147.5v5.4M1668.9 2147.5v5.4M1673.08 2147.5v5.4M1677.26 2147.5v5.4M1681.44 2147.5v5.4M1685.62 2147.5v5.4M1689.8 2147.5v5.4M1693.98 2147.5v5.4M1696.76 2147.5v5.4M1698.15 2147.5v5.4M1702.33 2147.5v5.4M1706.51 2147.5v5.4M1710.69 2147.5v5.4M1714.87 2147.5v5.4M1719.05 2147.5v5.4M1723.23 2147.5v5.4M1727.41 2147.5v5.4M1731.58 2147.5v5.4" stroke="#dd6c45" stroke-width="1.49" fill="none"/>
<path d="M1657.76 2147.5v5.4M1661.94 2147.5v5.4M1666.12 2147.5v5.4M1670.3 2147.5v5.4M1674.47 2147.5v5.4M1678.65 2147.5v5.4M1682.83 2147.5v5.4M1687.01 2147.5v5.4M1695.37 2147.5v5.4M1699.55 2147.5v5.4M1703.73 2147.5v5.4M1707.9 2147.5v5.4M1712.08 2147.5v5.4M1716.26 2147.5v5.4M1720.44 2147.5v5.4M1724.62 2147.5v5.4M1728.8 2147.5v5.4" stroke="#8f4f78" stroke-width="1.49" fill="none"/>
<path d="M1659.15 2147.5v5.4M1663.33 2147.5v5.4M1667.51 2147.5v5.4M1671.69 2147.5v5.4M1675.87 2147.5v5.4M1684.22 2147.5v5.4M1688.4 2147.5v5.4M1692.58 2147.5v5.4M1700.94 2147.5v5.4M1705.12 2147.5v5.4M1709.3 2147.5v5.4M1713.48 2147.5v5.4M1717.66 2147.5v5.4M1726.01 2147.5v5.4M1730.19 2147.5v5.4" stroke="#d84f42" stroke-width="1.49" fill="none"/>
<path d="M1680.05 2147.5v5.4M1721.83 2147.5v5.4" stroke="#4a78b0" stroke-width="1.49" fill="none"/>
<path d="M1732.98 2147.5v5.4M1728.85 2169.1v5.4M1729.22 2176.3v5.4M1727.72 2183.5v5.4M1719.45 2197.9v5.4M1716.06 2226.7v5.4" stroke="#4a78b0" stroke-width="1.6" fill="none"/>
<path d="M1734.38 2147.5v5.4M1735.79 2147.5v5.4M1741.42 2147.5v5.4M1744.23 2147.5v5.4M1748.45 2147.5v5.4M1754.07 2147.5v5.4M1756.89 2147.5v5.4M1758.29 2147.5v5.4M1776.58 2147.5v5.4" stroke="#d84f42" stroke-width="1.51" fill="none"/>
<path d="M1737.2 2147.5v5.4M1738.6 2147.5v5.4M1759.7 2147.5v5.4M1762.51 2147.5v5.4" stroke="#a9a547" stroke-width="1.51" fill="none"/>
<path d="M1740.01 2147.5v5.4M1747.04 2147.5v5.4M1749.85 2147.5v5.4M1752.67 2147.5v5.4M1761.11 2147.5v5.4M1763.92 2147.5v5.4M1768.14 2147.5v5.4M1772.36 2147.5v5.4M1775.17 2147.5v5.4M1777.98 2147.5v5.4M1779.39 2147.5v5.4" stroke="#dc8448" stroke-width="1.51" fill="none"/>
<path d="M1742.82 2147.5v5.4M1745.64 2147.5v5.4M1751.26 2147.5v5.4M1766.73 2147.5v5.4" stroke="#8f4f78" stroke-width="1.51" fill="none"/>
<path d="M1755.48 2147.5v5.4M1765.32 2147.5v5.4M1770.95 2147.5v5.4M1773.76 2147.5v5.4" stroke="#72b163" stroke-width="1.51" fill="none"/>
<path d="M1769.54 2147.5v5.4" stroke="#4a78b0" stroke-width="1.51" fill="none"/>
<path d="M1576.94 2154.7v5.4M1581.08 2154.7v5.4M1585.22 2154.7v5.4M1589.36 2154.7v5.4M1593.49 2154.7v5.4M1597.63 2154.7v5.4M1601.77 2154.7v5.4M1605.91 2154.7v5.4M1610.04 2154.7v5.4" stroke="#d84f42" stroke-width="1.48" fill="none"/>
<path d="M1578.32 2154.7v5.4M1582.46 2154.7v5.4M1586.6 2154.7v5.4M1590.73 2154.7v5.4M1594.87 2154.7v5.4M1599.01 2154.7v5.4M1603.15 2154.7v5.4M1607.29 2154.7v5.4" stroke="#dd6c45" stroke-width="1.48" fill="none"/>
<path d="M1579.7 2154.7v5.4M1583.84 2154.7v5.4M1587.98 2154.7v5.4M1592.11 2154.7v5.4M1596.25 2154.7v5.4M1600.39 2154.7v5.4M1604.53 2154.7v5.4M1608.67 2154.7v5.4" stroke="#8f4f78" stroke-width="1.48" fill="none"/>
<path d="M1197.05 2161.9v5.4M1209.73 2161.9v5.4M1215.37 2161.9v5.4M1223.83 2161.9v5.4M1228.06 2161.9v5.4M1235.11 2161.9v5.4M1239.34 2161.9v5.4M1240.75 2161.9v5.4M1246.39 2161.9v5.4M1247.8 2161.9v5.4M1254.85 2161.9v5.4M1257.67 2161.9v5.4M1271.76 2161.9v5.4M1274.58 2161.9v5.4M1277.4 2161.9v5.4M1278.81 2161.9v5.4M1283.04 2161.9v5.4M1287.27 2161.9v5.4M1288.68 2161.9v5.4" stroke="#d84f42" stroke-width="1.51" fill="none"/>
<path d="M1198.46 2161.9v5.4M1202.69 2161.9v5.4M1208.32 2161.9v5.4M1250.62 2161.9v5.4M1260.49 2161.9v5.4M1267.53 2161.9v5.4M1270.35 2161.9v5.4M1284.45 2161.9v5.4" stroke="#8f4f78" stroke-width="1.51" fill="none"/>
<path d="M1199.87 2161.9v5.4M1205.51 2161.9v5.4M1211.14 2161.9v5.4M1212.55 2161.9v5.4M1213.96 2161.9v5.4M1218.19 2161.9v5.4M1219.6 2161.9v5.4M1229.47 2161.9v5.4M1236.52 2161.9v5.4M1237.93 2161.9v5.4M1242.16 2161.9v5.4M1249.21 2161.9v5.4M1259.08 2161.9v5.4M1261.89 2161.9v5.4M1263.3 2161.9v5.4M1266.12 2161.9v5.4M1268.94 2161.9v5.4M1273.17 2161.9v5.4M1280.22 2161.9v5.4M1281.63 2161.9v5.4M1285.86 2161.9v5.4" stroke="#dc8448" stroke-width="1.51" fill="none"/>
<path d="M1201.28 2161.9v5.4M1243.57 2161.9v5.4M1253.44 2161.9v5.4" stroke="#72b163" stroke-width="1.51" fill="none"/>
<path d="M1204.1 2161.9v5.4M1222.42 2161.9v5.4M1233.7 2161.9v5.4M1244.98 2161.9v5.4M1256.26 2161.9v5.4" stroke="#4a78b0" stroke-width="1.51" fill="none"/>
<path d="M1206.91 2161.9v5.4M1216.78 2161.9v5.4M1221.01 2161.9v5.4M1225.24 2161.9v5.4M1226.65 2161.9v5.4M1230.88 2161.9v5.4M1232.29 2161.9v5.4M1252.03 2161.9v5.4M1264.71 2161.9v5.4M1275.99 2161.9v5.4M1290.09 2161.9v5.4" stroke="#a9a547" stroke-width="1.51" fill="none"/>
<path d="M1573.36 2161.9v5.4M1577.59 2161.9v5.4M1579 2161.9v5.4M1581.82 2161.9v5.4M1586.05 2161.9v5.4M1594.51 2161.9v5.4M1598.75 2161.9v5.4M1602.98 2161.9v5.4M1607.21 2161.9v5.4" stroke="#d84f42" stroke-width="1.51" fill="none"/>
<path d="M1574.77 2161.9v5.4M1583.23 2161.9v5.4M1587.46 2161.9v5.4M1591.69 2161.9v5.4M1595.93 2161.9v5.4M1600.16 2161.9v5.4M1604.39 2161.9v5.4M1608.62 2161.9v5.4" stroke="#dd6c45" stroke-width="1.51" fill="none"/>
<path d="M1576.18 2161.9v5.4M1580.41 2161.9v5.4M1584.64 2161.9v5.4M1588.87 2161.9v5.4M1593.1 2161.9v5.4M1597.34 2161.9v5.4M1601.57 2161.9v5.4M1605.8 2161.9v5.4" stroke="#8f4f78" stroke-width="1.51" fill="none"/>
<path d="M1590.28 2161.9v5.4" stroke="#4a78b0" stroke-width="1.51" fill="none"/>
<path d="M1610.03 2161.9v5.4" stroke="#72b163" stroke-width="1.51" fill="none"/>
<path d="M1654.97 2169.1v5.4M1659.15 2169.1v5.4M1663.34 2169.1v5.4M1667.52 2169.1v5.4M1671.7 2169.1v5.4M1675.88 2169.1v5.4M1680.06 2169.1v5.4M1684.24 2169.1v5.4M1688.42 2169.1v5.4M1692.6 2169.1v5.4M1696.79 2169.1v5.4M1700.97 2169.1v5.4M1705.15 2169.1v5.4M1709.33 2169.1v5.4M1713.51 2169.1v5.4M1717.69 2169.1v5.4M1721.87 2169.1v5.4M1726.06 2169.1v5.4" stroke="#d84f42" stroke-width="1.49" fill="none"/>
<path d="M1656.37 2169.1v5.4M1660.55 2169.1v5.4M1664.73 2169.1v5.4M1668.91 2169.1v5.4M1673.09 2169.1v5.4M1677.27 2169.1v5.4M1681.45 2169.1v5.4M1685.64 2169.1v5.4M1689.82 2169.1v5.4M1694 2169.1v5.4M1698.18 2169.1v5.4M1702.36 2169.1v5.4M1706.54 2169.1v5.4M1710.72 2169.1v5.4M1712.12 2169.1v5.4M1714.91 2169.1v5.4M1723.27 2169.1v5.4" stroke="#dd6c45" stroke-width="1.49" fill="none"/>
<path d="M1657.76 2169.1v5.4M1661.94 2169.1v5.4M1670.3 2169.1v5.4M1674.49 2169.1v5.4M1678.67 2169.1v5.4M1682.85 2169.1v5.4M1687.03 2169.1v5.4M1691.21 2169.1v5.4M1695.39 2169.1v5.4M1699.57 2169.1v5.4M1703.76 2169.1v5.4M1707.94 2169.1v5.4M1716.3 2169.1v5.4M1720.48 2169.1v5.4M1724.66 2169.1v5.4" stroke="#8f4f78" stroke-width="1.49" fill="none"/>
<path d="M1666.12 2169.1v5.4M1719.09 2169.1v5.4" stroke="#72b163" stroke-width="1.49" fill="none"/>
<path d="M1727.45 2169.1v5.4" stroke="#4a78b0" stroke-width="1.49" fill="none"/>
<path d="M1730.25 2169.1v5.4M1734.5 2169.1v5.4M1735.92 2169.1v5.4M1740.16 2169.1v5.4M1744.41 2169.1v5.4M1745.82 2169.1v5.4M1754.31 2169.1v5.4M1755.73 2169.1v5.4M1762.81 2169.1v5.4M1769.88 2169.1v5.4M1771.3 2169.1v5.4" stroke="#dc8448" stroke-width="1.52" fill="none"/>
<path d="M1731.67 2169.1v5.4M1748.65 2169.1v5.4M1751.48 2169.1v5.4" stroke="#8f4f78" stroke-width="1.52" fill="none"/>
<path d="M1733.08 2169.1v5.4M1737.33 2169.1v5.4M1761.39 2169.1v5.4M1764.22 2169.1v5.4M1768.47 2169.1v5.4" stroke="#a9a547" stroke-width="1.52" fill="none"/>
<path d="M1738.75 2169.1v5.4M1750.07 2169.1v5.4" stroke="#72b163" stroke-width="1.52" fill="none"/>
<path d="M1741.58 2169.1v5.4M1742.99 2169.1v5.4M1747.24 2169.1v5.4M1752.9 2169.1v5.4M1758.56 2169.1v5.4M1759.98 2169.1v5.4M1765.64 2169.1v5.4M1767.05 2169.1v5.4M1772.71 2169.1v5.4" stroke="#d84f42" stroke-width="1.52" fill="none"/>
<path d="M1757.14 2169.1v5.4" stroke="#4a78b0" stroke-width="1.52" fill="none"/>
<path d="M1654.98 2176.3v5.4M1659.18 2176.3v5.4M1663.38 2176.3v5.4M1667.58 2176.3v5.4M1671.79 2176.3v5.4M1675.99 2176.3v5.4M1680.19 2176.3v5.4M1684.39 2176.3v5.4M1688.6 2176.3v5.4M1692.8 2176.3v5.4M1697 2176.3v5.4M1705.41 2176.3v5.4M1709.61 2176.3v5.4M1713.81 2176.3v5.4M1722.22 2176.3v5.4M1726.42 2176.3v5.4" stroke="#d84f42" stroke-width="1.5" fill="none"/>
<path d="M1656.38 2176.3v5.4M1660.58 2176.3v5.4M1664.78 2176.3v5.4M1668.99 2176.3v5.4M1673.19 2176.3v5.4M1677.39 2176.3v5.4M1681.59 2176.3v5.4M1685.8 2176.3v5.4M1690 2176.3v5.4M1694.2 2176.3v5.4M1698.4 2176.3v5.4M1702.61 2176.3v5.4M1706.81 2176.3v5.4M1711.01 2176.3v5.4M1715.21 2176.3v5.4M1718.02 2176.3v5.4M1719.42 2176.3v5.4M1723.62 2176.3v5.4M1727.82 2176.3v5.4" stroke="#dd6c45" stroke-width="1.5" fill="none"/>
<path d="M1657.78 2176.3v5.4M1661.98 2176.3v5.4M1666.18 2176.3v5.4M1670.39 2176.3v5.4M1674.59 2176.3v5.4M1678.79 2176.3v5.4M1682.99 2176.3v5.4M1687.2 2176.3v5.4M1691.4 2176.3v5.4M1699.8 2176.3v5.4M1704.01 2176.3v5.4M1708.21 2176.3v5.4M1712.41 2176.3v5.4M1716.61 2176.3v5.4M1720.82 2176.3v5.4M1725.02 2176.3v5.4" stroke="#8f4f78" stroke-width="1.5" fill="none"/>
<path d="M1695.6 2176.3v5.4" stroke="#72b163" stroke-width="1.5" fill="none"/>
<path d="M1701.21 2176.3v5.4" stroke="#4a78b0" stroke-width="1.5" fill="none"/>
<path d="M1730.63 2176.3v5.4M1757.67 2176.3v5.4M1770.47 2176.3v5.4" stroke="#4a78b0" stroke-width="1.52" fill="none"/>
<path d="M1732.06 2176.3v5.4M1747.71 2176.3v5.4M1749.13 2176.3v5.4M1763.36 2176.3v5.4" stroke="#d84f42" stroke-width="1.52" fill="none"/>
<path d="M1733.48 2176.3v5.4M1734.9 2176.3v5.4M1736.32 2176.3v5.4M1739.17 2176.3v5.4M1740.59 2176.3v5.4M1751.97 2176.3v5.4M1766.2 2176.3v5.4M1773.32 2176.3v5.4" stroke="#a9a547" stroke-width="1.52" fill="none"/>
<path d="M1737.75 2176.3v5.4M1743.44 2176.3v5.4M1744.86 2176.3v5.4M1750.55 2176.3v5.4M1754.82 2176.3v5.4M1764.78 2176.3v5.4M1771.89 2176.3v5.4" stroke="#8f4f78" stroke-width="1.52" fill="none"/>
<path d="M1742.02 2176.3v5.4M1746.28 2176.3v5.4M1753.4 2176.3v5.4M1756.24 2176.3v5.4M1759.09 2176.3v5.4M1760.51 2176.3v5.4M1767.63 2176.3v5.4M1769.05 2176.3v5.4" stroke="#dc8448" stroke-width="1.52" fill="none"/>
<path d="M1761.93 2176.3v5.4" stroke="#72b163" stroke-width="1.52" fill="none"/>
<path d="M1654.98 2183.5v5.4M1659.17 2183.5v5.4M1663.37 2183.5v5.4M1667.57 2183.5v5.4M1671.76 2183.5v5.4M1675.96 2183.5v5.4M1680.16 2183.5v5.4M1684.35 2183.5v5.4M1688.55 2183.5v5.4M1692.75 2183.5v5.4M1696.94 2183.5v5.4M1698.34 2183.5v5.4M1701.14 2183.5v5.4M1705.34 2183.5v5.4M1709.53 2183.5v5.4M1713.73 2183.5v5.4M1717.93 2183.5v5.4M1722.12 2183.5v5.4M1726.32 2183.5v5.4" stroke="#d84f42" stroke-width="1.5" fill="none"/>
<path d="M1656.37 2183.5v5.4M1660.57 2183.5v5.4M1664.77 2183.5v5.4M1668.96 2183.5v5.4M1673.16 2183.5v5.4M1677.36 2183.5v5.4M1681.55 2183.5v5.4M1685.75 2183.5v5.4M1689.95 2183.5v5.4M1694.14 2183.5v5.4M1702.54 2183.5v5.4M1706.73 2183.5v5.4M1710.93 2183.5v5.4M1715.13 2183.5v5.4M1719.32 2183.5v5.4M1723.52 2183.5v5.4" stroke="#dd6c45" stroke-width="1.5" fill="none"/>
<path d="M1657.77 2183.5v5.4M1661.97 2183.5v5.4M1666.17 2183.5v5.4M1670.36 2183.5v5.4M1674.56 2183.5v5.4M1678.76 2183.5v5.4M1682.95 2183.5v5.4M1687.15 2183.5v5.4M1691.35 2183.5v5.4M1695.54 2183.5v5.4M1699.74 2183.5v5.4M1703.94 2183.5v5.4M1708.13 2183.5v5.4M1712.33 2183.5v5.4M1716.53 2183.5v5.4M1720.72 2183.5v5.4M1724.92 2183.5v5.4" stroke="#8f4f78" stroke-width="1.5" fill="none"/>
<path d="M1729.11 2183.5v5.4M1734.69 2183.5v5.4M1737.47 2183.5v5.4M1738.87 2183.5v5.4M1747.22 2183.5v5.4M1750.01 2183.5v5.4M1754.19 2183.5v5.4M1769.51 2183.5v5.4" stroke="#dc8448" stroke-width="1.49" fill="none"/>
<path d="M1730.51 2183.5v5.4M1733.29 2183.5v5.4M1743.05 2183.5v5.4M1751.4 2183.5v5.4M1755.58 2183.5v5.4M1770.91 2183.5v5.4" stroke="#8f4f78" stroke-width="1.49" fill="none"/>
<path d="M1731.9 2183.5v5.4M1736.08 2183.5v5.4M1740.26 2183.5v5.4M1741.65 2183.5v5.4M1745.83 2183.5v5.4M1748.62 2183.5v5.4M1756.98 2183.5v5.4M1759.76 2183.5v5.4M1765.33 2183.5v5.4M1766.73 2183.5v5.4M1768.12 2183.5v5.4" stroke="#d84f42" stroke-width="1.49" fill="none"/>
<path d="M1744.44 2183.5v5.4M1752.8 2183.5v5.4M1762.55 2183.5v5.4M1763.94 2183.5v5.4" stroke="#a9a547" stroke-width="1.49" fill="none"/>
<path d="M1758.37 2183.5v5.4" stroke="#4a78b0" stroke-width="1.49" fill="none"/>
<path d="M1761.15 2183.5v5.4" stroke="#72b163" stroke-width="1.49" fill="none"/>
<path d="M1567.05 2190.7v5.4M1571.21 2190.7v5.4M1575.37 2190.7v5.4M1579.53 2190.7v5.4M1583.69 2190.7v5.4M1587.85 2190.7v5.4M1592.01 2190.7v5.4M1596.17 2190.7v5.4M1600.33 2190.7v5.4M1604.49 2190.7v5.4M1607.27 2190.7v5.4M1608.65 2190.7v5.4" stroke="#d84f42" stroke-width="1.49" fill="none"/>
<path d="M1568.44 2190.7v5.4M1572.6 2190.7v5.4M1576.76 2190.7v5.4M1580.92 2190.7v5.4M1585.08 2190.7v5.4M1593.4 2190.7v5.4M1597.56 2190.7v5.4M1601.72 2190.7v5.4M1605.88 2190.7v5.4M1610.04 2190.7v5.4" stroke="#dd6c45" stroke-width="1.49" fill="none"/>
<path d="M1569.82 2190.7v5.4M1573.98 2190.7v5.4M1578.14 2190.7v5.4M1582.31 2190.7v5.4M1586.47 2190.7v5.4M1590.63 2190.7v5.4M1594.79 2190.7v5.4M1598.95 2190.7v5.4M1603.11 2190.7v5.4" stroke="#8f4f78" stroke-width="1.49" fill="none"/>
<path d="M1589.24 2190.7v5.4" stroke="#4a78b0" stroke-width="1.49" fill="none"/>
<path d="M1104.1 2197.9v5.4M1108.37 2197.9v5.4M1112.65 2197.9v5.4M1116.92 2197.9v5.4" stroke="#d84f42" stroke-width="1.52" fill="none"/>
<path d="M1105.52 2197.9v5.4M1109.8 2197.9v5.4M1114.07 2197.9v5.4M1118.34 2197.9v5.4" stroke="#dd6c45" stroke-width="1.52" fill="none"/>
<path d="M1106.95 2197.9v5.4M1111.22 2197.9v5.4M1115.49 2197.9v5.4M1119.77 2197.9v5.4" stroke="#8f4f78" stroke-width="1.52" fill="none"/>
<path d="M1148.17 2197.9v5.4M1165.09 2197.9v5.4M1174.96 2197.9v5.4M1177.79 2197.9v5.4M1186.25 2197.9v5.4M1198.94 2197.9v5.4M1207.4 2197.9v5.4M1208.81 2197.9v5.4M1228.55 2197.9v5.4M1248.29 2197.9v5.4M1256.76 2197.9v5.4M1260.99 2197.9v5.4M1262.4 2197.9v5.4M1266.63 2197.9v5.4M1268.04 2197.9v5.4M1275.09 2197.9v5.4M1276.5 2197.9v5.4M1277.91 2197.9v5.4M1280.73 2197.9v5.4M1282.14 2197.9v5.4M1286.37 2197.9v5.4" stroke="#a9a547" stroke-width="1.51" fill="none"/>
<path d="M1149.58 2197.9v5.4M1193.3 2197.9v5.4M1213.04 2197.9v5.4M1215.86 2197.9v5.4M1242.65 2197.9v5.4M1258.17 2197.9v5.4" stroke="#4a78b0" stroke-width="1.51" fill="none"/>
<path d="M1150.99 2197.9v5.4M1163.68 2197.9v5.4M1166.5 2197.9v5.4M1167.91 2197.9v5.4M1169.32 2197.9v5.4M1173.55 2197.9v5.4M1184.84 2197.9v5.4M1191.89 2197.9v5.4M1194.71 2197.9v5.4M1196.12 2197.9v5.4M1200.35 2197.9v5.4M1205.99 2197.9v5.4M1214.45 2197.9v5.4M1217.27 2197.9v5.4M1221.5 2197.9v5.4M1224.32 2197.9v5.4M1235.6 2197.9v5.4M1263.81 2197.9v5.4M1269.45 2197.9v5.4M1283.55 2197.9v5.4M1287.78 2197.9v5.4" stroke="#d84f42" stroke-width="1.51" fill="none"/>
<path d="M1152.4 2197.9v5.4M1153.81 2197.9v5.4M1156.63 2197.9v5.4M1160.86 2197.9v5.4M1162.27 2197.9v5.4M1170.73 2197.9v5.4M1172.14 2197.9v5.4M1176.38 2197.9v5.4M1180.61 2197.9v5.4M1182.02 2197.9v5.4M1189.07 2197.9v5.4M1201.76 2197.9v5.4M1203.17 2197.9v5.4M1211.63 2197.9v5.4M1222.91 2197.9v5.4M1225.73 2197.9v5.4M1227.14 2197.9v5.4M1229.96 2197.9v5.4M1231.37 2197.9v5.4M1232.78 2197.9v5.4M1234.19 2197.9v5.4M1237.01 2197.9v5.4M1239.83 2197.9v5.4M1245.47 2197.9v5.4M1246.88 2197.9v5.4M1249.7 2197.9v5.4M1251.11 2197.9v5.4M1253.94 2197.9v5.4M1259.58 2197.9v5.4M1272.27 2197.9v5.4M1273.68 2197.9v5.4M1279.32 2197.9v5.4M1284.96 2197.9v5.4M1289.19 2197.9v5.4" stroke="#dc8448" stroke-width="1.51" fill="none"/>
<path d="M1155.22 2197.9v5.4M1158.04 2197.9v5.4M1187.66 2197.9v5.4M1204.58 2197.9v5.4M1210.22 2197.9v5.4M1220.09 2197.9v5.4M1238.42 2197.9v5.4M1241.24 2197.9v5.4M1244.06 2197.9v5.4M1255.35 2197.9v5.4M1270.86 2197.9v5.4" stroke="#8f4f78" stroke-width="1.51" fill="none"/>
<path d="M1159.45 2197.9v5.4M1179.2 2197.9v5.4M1183.43 2197.9v5.4M1190.48 2197.9v5.4M1197.53 2197.9v5.4M1218.68 2197.9v5.4M1252.53 2197.9v5.4M1265.22 2197.9v5.4" stroke="#72b163" stroke-width="1.51" fill="none"/>
<path d="M1654.98 2197.9v5.4M1659.18 2197.9v5.4M1663.39 2197.9v5.4M1667.59 2197.9v5.4M1671.8 2197.9v5.4M1676 2197.9v5.4M1680.21 2197.9v5.4M1684.41 2197.9v5.4M1688.61 2197.9v5.4M1692.82 2197.9v5.4M1697.02 2197.9v5.4M1701.23 2197.9v5.4M1705.43 2197.9v5.4M1709.64 2197.9v5.4M1713.84 2197.9v5.4M1718.05 2197.9v5.4" stroke="#d84f42" stroke-width="1.5" fill="none"/>
<path d="M1656.38 2197.9v5.4M1660.58 2197.9v5.4M1664.79 2197.9v5.4M1668.99 2197.9v5.4M1673.2 2197.9v5.4M1677.4 2197.9v5.4M1681.61 2197.9v5.4M1685.81 2197.9v5.4M1690.02 2197.9v5.4M1694.22 2197.9v5.4M1698.43 2197.9v5.4M1702.63 2197.9v5.4M1706.83 2197.9v5.4M1711.04 2197.9v5.4M1715.24 2197.9v5.4" stroke="#dd6c45" stroke-width="1.5" fill="none"/>
<path d="M1657.78 2197.9v5.4M1661.98 2197.9v5.4M1666.19 2197.9v5.4M1670.39 2197.9v5.4M1674.6 2197.9v5.4M1678.8 2197.9v5.4M1683.01 2197.9v5.4M1687.21 2197.9v5.4M1691.42 2197.9v5.4M1695.62 2197.9v5.4M1699.83 2197.9v5.4M1704.03 2197.9v5.4M1708.24 2197.9v5.4M1712.44 2197.9v5.4M1716.65 2197.9v5.4" stroke="#8f4f78" stroke-width="1.5" fill="none"/>
<path d="M1720.85 2197.9v5.4M1722.27 2197.9v5.4M1723.68 2197.9v5.4M1730.74 2197.9v5.4M1732.15 2197.9v5.4M1746.26 2197.9v5.4M1753.32 2197.9v5.4" stroke="#8f4f78" stroke-width="1.51" fill="none"/>
<path d="M1725.09 2197.9v5.4M1726.5 2197.9v5.4M1727.91 2197.9v5.4M1733.56 2197.9v5.4M1736.38 2197.9v5.4M1737.79 2197.9v5.4M1739.21 2197.9v5.4M1740.62 2197.9v5.4M1744.85 2197.9v5.4M1750.5 2197.9v5.4M1751.91 2197.9v5.4M1754.73 2197.9v5.4" stroke="#dc8448" stroke-width="1.51" fill="none"/>
<path d="M1729.32 2197.9v5.4M1756.15 2197.9v5.4M1757.56 2197.9v5.4" stroke="#72b163" stroke-width="1.51" fill="none"/>
<path d="M1734.97 2197.9v5.4M1742.03 2197.9v5.4" stroke="#d84f42" stroke-width="1.51" fill="none"/>
<path d="M1743.44 2197.9v5.4" stroke="#a9a547" stroke-width="1.51" fill="none"/>
<path d="M1747.68 2197.9v5.4M1749.09 2197.9v5.4" stroke="#4a78b0" stroke-width="1.51" fill="none"/>
<path d="M1544.56 2205.1v5.4M1548.74 2205.1v5.4M1552.92 2205.1v5.4M1561.28 2205.1v5.4M1565.46 2205.1v5.4M1569.64 2205.1v5.4M1573.82 2205.1v5.4M1578 2205.1v5.4M1582.18 2205.1v5.4M1586.36 2205.1v5.4M1590.54 2205.1v5.4M1594.71 2205.1v5.4M1598.89 2205.1v5.4M1603.07 2205.1v5.4M1607.25 2205.1v5.4" stroke="#d84f42" stroke-width="1.49" fill="none"/>
<path d="M1545.96 2205.1v5.4" stroke="#72b163" stroke-width="1.49" fill="none"/>
<path d="M1547.35 2205.1v5.4M1551.53 2205.1v5.4M1555.71 2205.1v5.4M1559.89 2205.1v5.4M1564.07 2205.1v5.4M1568.25 2205.1v5.4M1572.43 2205.1v5.4M1580.78 2205.1v5.4M1584.96 2205.1v5.4M1589.14 2205.1v5.4M1593.32 2205.1v5.4M1597.5 2205.1v5.4M1605.86 2205.1v5.4M1610.04 2205.1v5.4" stroke="#8f4f78" stroke-width="1.49" fill="none"/>
<path d="M1550.14 2205.1v5.4M1554.32 2205.1v5.4M1557.1 2205.1v5.4M1558.5 2205.1v5.4M1562.67 2205.1v5.4M1566.85 2205.1v5.4M1571.03 2205.1v5.4M1575.21 2205.1v5.4M1579.39 2205.1v5.4M1583.57 2205.1v5.4M1587.75 2205.1v5.4M1591.93 2205.1v5.4M1596.11 2205.1v5.4M1600.29 2205.1v5.4M1604.47 2205.1v5.4M1608.65 2205.1v5.4" stroke="#dd6c45" stroke-width="1.49" fill="none"/>
<path d="M1576.6 2205.1v5.4M1601.68 2205.1v5.4" stroke="#4a78b0" stroke-width="1.49" fill="none"/>
<path d="M1502.59 2212.3v5.4M1506.79 2212.3v5.4M1508.19 2212.3v5.4M1509.59 2212.3v5.4M1510.99 2212.3v5.4M1513.78 2212.3v5.4M1520.78 2212.3v5.4" stroke="#dc8448" stroke-width="1.5" fill="none"/>
<path d="M1503.99 2212.3v5.4M1505.39 2212.3v5.4M1512.38 2212.3v5.4M1515.18 2212.3v5.4M1519.38 2212.3v5.4" stroke="#d84f42" stroke-width="1.5" fill="none"/>
<path d="M1516.58 2212.3v5.4M1517.98 2212.3v5.4" stroke="#a9a547" stroke-width="1.5" fill="none"/>
<path d="M1522.18 2212.3v5.4M1526.36 2212.3v5.4M1530.55 2212.3v5.4M1534.73 2212.3v5.4M1538.91 2212.3v5.4M1543.1 2212.3v5.4M1547.28 2212.3v5.4M1551.46 2212.3v5.4M1555.65 2212.3v5.4M1559.83 2212.3v5.4M1564.02 2212.3v5.4M1568.2 2212.3v5.4M1572.38 2212.3v5.4M1576.57 2212.3v5.4M1580.75 2212.3v5.4M1584.93 2212.3v5.4M1589.12 2212.3v5.4M1593.3 2212.3v5.4M1601.67 2212.3v5.4M1605.85 2212.3v5.4M1610.04 2212.3v5.4" stroke="#d84f42" stroke-width="1.49" fill="none"/>
<path d="M1523.57 2212.3v5.4M1527.76 2212.3v5.4M1531.94 2212.3v5.4M1536.12 2212.3v5.4M1540.31 2212.3v5.4M1544.49 2212.3v5.4M1548.68 2212.3v5.4M1552.86 2212.3v5.4M1557.04 2212.3v5.4M1561.23 2212.3v5.4M1569.59 2212.3v5.4M1573.78 2212.3v5.4M1577.96 2212.3v5.4M1582.15 2212.3v5.4M1586.33 2212.3v5.4M1590.51 2212.3v5.4M1594.7 2212.3v5.4M1598.88 2212.3v5.4M1603.06 2212.3v5.4M1607.25 2212.3v5.4" stroke="#dd6c45" stroke-width="1.49" fill="none"/>
<path d="M1524.97 2212.3v5.4M1529.15 2212.3v5.4M1533.34 2212.3v5.4M1537.52 2212.3v5.4M1541.7 2212.3v5.4M1545.89 2212.3v5.4M1550.07 2212.3v5.4M1558.44 2212.3v5.4M1562.62 2212.3v5.4M1566.81 2212.3v5.4M1570.99 2212.3v5.4M1579.36 2212.3v5.4M1583.54 2212.3v5.4M1587.72 2212.3v5.4M1591.91 2212.3v5.4M1596.09 2212.3v5.4M1600.28 2212.3v5.4M1604.46 2212.3v5.4M1608.64 2212.3v5.4" stroke="#8f4f78" stroke-width="1.49" fill="none"/>
<path d="M1554.25 2212.3v5.4M1565.41 2212.3v5.4" stroke="#72b163" stroke-width="1.49" fill="none"/>
<path d="M1575.17 2212.3v5.4M1597.49 2212.3v5.4" stroke="#4a78b0" stroke-width="1.49" fill="none"/>
<path d="M1553.48 2219.5v5.4M1557.73 2219.5v5.4M1561.97 2219.5v5.4M1566.21 2219.5v5.4M1570.45 2219.5v5.4M1574.69 2219.5v5.4M1578.93 2219.5v5.4M1583.17 2219.5v5.4M1587.41 2219.5v5.4M1591.65 2219.5v5.4M1595.89 2219.5v5.4M1600.13 2219.5v5.4M1608.61 2219.5v5.4" stroke="#dd6c45" stroke-width="1.51" fill="none"/>
<path d="M1654.97 2226.7v5.4M1659.14 2226.7v5.4M1663.3 2226.7v5.4M1667.47 2226.7v5.4M1679.96 2226.7v5.4M1684.13 2226.7v5.4M1688.29 2226.7v5.4M1692.46 2226.7v5.4M1695.23 2226.7v5.4M1696.62 2226.7v5.4M1700.79 2226.7v5.4M1704.95 2226.7v5.4M1709.12 2226.7v5.4M1713.28 2226.7v5.4" stroke="#d84f42" stroke-width="1.49" fill="none"/>
<path d="M1656.36 2226.7v5.4M1660.52 2226.7v5.4M1664.69 2226.7v5.4M1668.85 2226.7v5.4M1671.63 2226.7v5.4M1673.02 2226.7v5.4M1677.18 2226.7v5.4M1681.35 2226.7v5.4M1685.51 2226.7v5.4M1689.68 2226.7v5.4M1693.84 2226.7v5.4M1698.01 2226.7v5.4M1702.18 2226.7v5.4M1706.34 2226.7v5.4M1710.51 2226.7v5.4M1714.67 2226.7v5.4" stroke="#dd6c45" stroke-width="1.49" fill="none"/>
<path d="M1657.75 2226.7v5.4M1661.91 2226.7v5.4M1666.08 2226.7v5.4M1670.24 2226.7v5.4M1674.41 2226.7v5.4M1678.57 2226.7v5.4M1682.74 2226.7v5.4M1686.9 2226.7v5.4M1691.07 2226.7v5.4M1699.4 2226.7v5.4M1703.56 2226.7v5.4M1707.73 2226.7v5.4M1711.89 2226.7v5.4" stroke="#8f4f78" stroke-width="1.49" fill="none"/>
<path d="M1675.8 2226.7v5.4" stroke="#4a78b0" stroke-width="1.49" fill="none"/>
<path d="M1717.46 2226.7v5.4M1724.39 2226.7v5.4M1728.55 2226.7v5.4M1741.02 2226.7v5.4M1745.18 2226.7v5.4M1752.11 2226.7v5.4" stroke="#8f4f78" stroke-width="1.49" fill="none"/>
<path d="M1718.84 2226.7v5.4M1735.48 2226.7v5.4M1736.86 2226.7v5.4" stroke="#a9a547" stroke-width="1.49" fill="none"/>
<path d="M1720.23 2226.7v5.4M1729.93 2226.7v5.4M1732.71 2226.7v5.4M1742.41 2226.7v5.4M1743.8 2226.7v5.4M1746.57 2226.7v5.4M1749.34 2226.7v5.4M1750.73 2226.7v5.4" stroke="#d84f42" stroke-width="1.49" fill="none"/>
<path d="M1721.62 2226.7v5.4" stroke="#72b163" stroke-width="1.49" fill="none"/>
<path d="M1723 2226.7v5.4M1725.77 2226.7v5.4M1727.16 2226.7v5.4M1734.09 2226.7v5.4M1738.25 2226.7v5.4M1739.64 2226.7v5.4M1747.95 2226.7v5.4" stroke="#dc8448" stroke-width="1.49" fill="none"/>
<path d="M1731.32 2226.7v5.4" stroke="#4a78b0" stroke-width="1.49" fill="none"/>
<path d="M1134.6 2061.1v7.2M1134.6 2068.3v7.2M1134.6 2075.5v7.2M1134.6 2082.7v7.2M1134.6 2089.9v7.2M1134.6 2097.1v5.4M1134.6 2111.5v5.4M1134.6 2147.5v7.2M1134.6 2154.7v7.2M1134.6 2161.9v7.2M1134.6 2169.1v5.4M1134.6 2205.1v7.2M1134.6 2212.3v7.2M1134.6 2219.5v7.2M1134.6 2226.7v5.4" stroke="#3f5fa8" stroke-width="1.1" fill="none"/>
<path d="M1134.6 2050.5V2053.9" stroke="#3f5fa8" stroke-width="1.1"/>
<path d="M1149 2053.9v7.2M1149 2061.1v7.2M1149 2068.3v7.2M1149 2075.5v7.2M1149 2082.7v7.2M1149 2089.9v7.2M1149 2097.1v7.2M1149 2104.3v7.2M1149 2111.5v7.2M1149 2118.7v7.2M1149 2125.9v7.2M1149 2133.1v7.2M1149 2140.3v7.2M1149 2147.5v7.2M1149 2154.7v7.2M1149 2161.9v7.2M1149 2169.1v7.2M1149 2176.3v7.2M1149 2183.5v7.2M1149 2190.7v5.4M1149 2205.1v7.2M1149 2212.3v7.2M1149 2219.5v7.2M1149 2226.7v5.4" stroke="#d9935a" stroke-width="1.1" fill="none"/>
<path d="M1149 2050.5V2053.9" stroke="#d9935a" stroke-width="1.1"/>
<path d="M1620.9 2053.9v7.2M1620.9 2061.1v5.4M1620.9 2104.3v5.4M1620.9 2140.3v5.4M1620.9 2154.7v7.2M1620.9 2161.9v5.4M1620.9 2190.7v5.4M1620.9 2205.1v5.4M1620.9 2219.5v5.4" stroke="#3f5fa8" stroke-width="1.5" fill="none"/>
<path d="M1654.3 2053.9v7.2M1654.3 2061.1v5.4M1654.3 2082.7v7.2M1654.3 2089.9v7.2M1654.3 2097.1v7.2M1654.3 2104.3v7.2M1654.3 2111.5v5.4M1654.3 2125.9v5.4M1654.3 2140.3v5.4M1654.3 2154.7v7.2M1654.3 2161.9v5.4M1654.3 2190.7v5.4M1654.3 2205.1v5.4M1654.3 2219.5v5.4" stroke="#d9935a" stroke-width="1.1" fill="none"/>
<path d="M1829.2 2053.9v7.2M1829.2 2061.1v7.2M1829.2 2068.3v7.2M1829.2 2075.5v7.2M1829.2 2082.7v7.2M1829.2 2089.9v5.4M1829.2 2104.3v7.2M1829.2 2111.5v7.2M1829.2 2118.7v7.2M1829.2 2125.9v7.2M1829.2 2133.1v7.2M1829.2 2140.3v7.2M1829.2 2147.5v7.2M1829.2 2154.7v7.2M1829.2 2161.9v7.2M1829.2 2169.1v7.2M1829.2 2176.3v7.2M1829.2 2183.5v7.2M1829.2 2190.7v7.2M1829.2 2197.9v7.2M1829.2 2205.1v7.2M1829.2 2212.3v7.2M1829.2 2219.5v7.2M1829.2 2226.7v5.4" stroke="#dc5a4c" stroke-width="1.1" fill="none"/>
<path d="M1909.5 2053.9v7.2M1909.5 2061.1v7.2M1909.5 2068.3v5.4M1909.5 2118.7v7.2M1909.5 2125.9v7.2M1909.5 2133.1v7.2M1909.5 2140.3v7.2M1909.5 2147.5v7.2M1909.5 2154.7v7.2M1909.5 2161.9v7.2M1909.5 2169.1v7.2M1909.5 2176.3v7.2M1909.5 2183.5v7.2M1909.5 2190.7v7.2M1909.5 2197.9v7.2M1909.5 2205.1v5.4M1909.5 2219.5v7.2M1909.5 2226.7v5.4" stroke="#d9935a" stroke-width="1.0" fill="none"/>
<path d="M1986.2 2053.9v7.2M1986.2 2061.1v7.2M1986.2 2068.3v7.2M1986.2 2075.5v7.2M1986.2 2082.7v7.2M1986.2 2089.9v7.2M1986.2 2097.1v7.2M1986.2 2104.3v5.4M1986.2 2147.5v5.4M1986.2 2190.7v5.4M1986.2 2205.1v7.2M1986.2 2212.3v5.4M1986.2 2226.7v5.4" stroke="#dc5a4c" stroke-width="1.0" fill="none"/>
<path d="M1398.74 2061.4v4.8M1333.37 2075.8v4.8M1369.36 2075.8v4.8M1436.22 2075.8v4.8M1442.82 2075.8v4.8M1445.22 2075.8v4.8M1271.3 2155v4.8M1280.3 2155v4.8M1353.46 2155v4.8M1523.18 2162.2v4.8M1565.76 2162.2v4.8M1109.39 2191v4.8M1123.48 2191v4.8M1169.06 2191v4.8M1609.24 2198.2v4.8M1880.14 2054.2v4.8M1945.32 2054.2v4.8M1960.48 2054.2v4.8M2020.5 2083v4.8M2054.46 2090.2v4.8M1759.48 2155v4.8M2057.49 2176.6v4.8M1745.23 2191v4.8M2024.14 2191v4.8M1608.8 2198.2v4.8M1777.67 2198.2v4.8M2035.66 2212.6v4.8" stroke="#6f8fc0" stroke-width="1.3" fill="none"/>
<path d="M1544.77 2068.6v4.8M1280.3 2083v4.8M1289.3 2083v4.8M1293.49 2155v4.8M1172.95 2191v4.8M1235.92 2191v4.8M1376.85 2191v4.8M1459.31 2191v4.8M1948.35 2075.8v4.8M1973.21 2075.8v4.8M2017.17 2097.4v4.8M2028.69 2097.4v4.8M1700.66 2191v4.8M2038.69 2191v4.8M1802.22 2198.2v4.8M1880.14 2198.2v4.8M1783.73 2212.6v4.8M1877.1 2212.6v4.8" stroke="#dd9a6c" stroke-width="1.3" fill="none"/>
<path d="M1298.89 2075.8v4.8M1312.38 2075.8v4.8M1252.41 2155v4.8M1310.88 2155v4.8M1133.97 2191v4.8M1352.86 2191v4.8M1573.25 2198.2v4.8M1957.44 2054.2v4.8M1969.57 2075.8v4.8M1834.05 2119v4.8M1973.21 2119v4.8M2035.66 2126.2v4.8M1643.67 2183.8v4.8M1838.6 2198.2v4.8M1871.04 2198.2v4.8M2031.72 2212.6v4.8M1917.12 2227v4.8M1965.02 2227v4.8M2034.15 2227v4.8" stroke="#8fbf84" stroke-width="1.3" fill="none"/>
<path d="M1240.42 2155v4.8M1289.9 2155v4.8M1301.89 2155v4.8M1334.87 2155v4.8M1362.46 2155v4.8M1148.97 2191v4.8M1349.27 2227v4.8M1579.25 2198.2v4.8M1592.74 2198.2v4.8M1666.4 2061.4v4.8M1937.74 2061.4v4.8M1980.18 2061.4v4.8M1957.44 2075.8v4.8M2009.89 2097.4v4.8M2015.65 2097.4v4.8M1821.02 2119v4.8M1862.55 2119v4.8M1915 2119v4.8M1930.16 2119v4.8M1943.8 2119v4.8M1961.39 2119v4.8M2008.98 2126.2v4.8M2028.69 2126.2v4.8M2069.62 2126.2v4.8M1592.13 2198.2v4.8M2015.05 2212.6v4.8M2018.08 2212.6v4.8M2055.97 2212.6v4.8M1834.05 2227v4.8M1842.54 2227v4.8M1906.82 2227v4.8M1939.86 2227v4.8" stroke="#de7a6e" stroke-width="1.3" fill="none"/>
<path d="M1103.17 2248.4v8M1116.61 2248.4v8M1138.11 2248.4v8M1156.92 2248.4v8M1178.42 2248.4v8M1189.16 2248.4v8M1190.51 2248.4v8M1237.53 2248.4v8M1240.22 2248.4v8M1241.57 2248.4v8M1296.65 2248.4v8M1314.12 2248.4v8M1334.28 2248.4v8M1340.99 2248.4v8M1345.03 2248.4v8M1357.12 2248.4v8M1406.83 2248.4v8M1412.21 2248.4v8M1418.92 2248.4v8M1431.02 2248.4v8M1439.08 2248.4v8M1478.04 2248.4v8M1494.17 2248.4v8M1523.73 2248.4v8M1608.38 2248.4v8M1617.78 2248.4v8M1628.53 2248.4v8M1650.03 2248.4v8M1682.28 2248.4v8M1691.68 2248.4v8M1745.43 2248.4v8M1781.7 2248.4v8M1793.8 2248.4v8M1828.73 2248.4v8M1830.07 2248.4v8M1839.48 2248.4v8M1850.23 2248.4v8M1859.63 2248.4v8M1865.01 2248.4v8M1906.66 2248.4v8M1917.41 2248.4v8M1938.91 2248.4v8M1940.25 2248.4v8M1977.87 2248.4v8M1995.34 2248.4v8M2004.75 2248.4v8M2042.37 2248.4v8M2049.09 2248.4v8M2065.21 2248.4v8M2069.24 2248.4v8" stroke="#c9a870" stroke-width="1.44" fill="none"/>
<path d="M1104.52 2248.4v8M1105.86 2248.4v8M1107.2 2248.4v8M1199.91 2248.4v8M1228.13 2248.4v8M1271.13 2248.4v8M1283.22 2248.4v8M1291.28 2248.4v8M1339.65 2248.4v8M1349.06 2248.4v8M1351.74 2248.4v8M1367.87 2248.4v8M1371.9 2248.4v8M1383.99 2248.4v8M1388.02 2248.4v8M1410.86 2248.4v8M1416.24 2248.4v8M1425.64 2248.4v8M1436.39 2248.4v8M1480.73 2248.4v8M1511.63 2248.4v8M1549.26 2248.4v8M1562.69 2248.4v8M1601.66 2248.4v8M1611.06 2248.4v8M1664.81 2248.4v8M1672.87 2248.4v8M1687.65 2248.4v8M1693.02 2248.4v8M1711.84 2248.4v8M1733.33 2248.4v8M1742.74 2248.4v8M1773.64 2248.4v8M1788.42 2248.4v8M1799.17 2248.4v8M1805.89 2248.4v8M1820.67 2248.4v8M1835.45 2248.4v8M1860.98 2248.4v8M1890.54 2248.4v8M1899.94 2248.4v8M1901.29 2248.4v8M1937.57 2248.4v8M1959.06 2248.4v8M2008.78 2248.4v8" stroke="#5fbf84" stroke-width="1.44" fill="none"/>
<path d="M1108.55 2248.4v8M1115.26 2248.4v8M1120.64 2248.4v8M1147.51 2248.4v8M1174.38 2248.4v8M1197.23 2248.4v8M1260.38 2248.4v8M1276.5 2248.4v8M1280.53 2248.4v8M1304.72 2248.4v8M1322.18 2248.4v8M1324.87 2248.4v8M1331.59 2248.4v8M1363.84 2248.4v8M1366.52 2248.4v8M1378.62 2248.4v8M1382.65 2248.4v8M1402.8 2248.4v8M1408.18 2248.4v8M1426.99 2248.4v8M1444.45 2248.4v8M1468.64 2248.4v8M1479.39 2248.4v8M1483.42 2248.4v8M1486.11 2248.4v8M1506.26 2248.4v8M1541.19 2248.4v8M1569.41 2248.4v8M1589.57 2248.4v8M1604.35 2248.4v8M1621.81 2248.4v8M1671.53 2248.4v8M1698.4 2248.4v8M1713.18 2248.4v8M1758.86 2248.4v8M1891.88 2248.4v8M1893.23 2248.4v8M1910.69 2248.4v8M1922.79 2248.4v8M1932.19 2248.4v8M1944.28 2248.4v8M1968.47 2248.4v8M1971.16 2248.4v8M1979.22 2248.4v8M1984.59 2248.4v8M2023.56 2248.4v8" stroke="#2f9fc0" stroke-width="1.44" fill="none"/>
<path d="M1109.89 2248.4v8M1132.73 2248.4v8M1179.76 2248.4v8M1186.48 2248.4v8M1194.54 2248.4v8M1236.19 2248.4v8M1300.69 2248.4v8M1330.25 2248.4v8M1369.21 2248.4v8M1389.36 2248.4v8M1394.74 2248.4v8M1401.46 2248.4v8M1437.74 2248.4v8M1457.89 2248.4v8M1491.48 2248.4v8M1503.57 2248.4v8M1512.98 2248.4v8M1522.38 2248.4v8M1525.07 2248.4v8M1529.1 2248.4v8M1539.85 2248.4v8M1560.01 2248.4v8M1568.07 2248.4v8M1574.79 2248.4v8M1588.22 2248.4v8M1612.41 2248.4v8M1635.25 2248.4v8M1725.27 2248.4v8M1760.21 2248.4v8M1801.86 2248.4v8M1811.26 2248.4v8M1836.79 2248.4v8M1842.17 2248.4v8M1852.92 2248.4v8M1928.16 2248.4v8M1934.88 2248.4v8M1949.66 2248.4v8M2014.15 2248.4v8M2020.87 2248.4v8" stroke="#f2a04a" stroke-width="1.44" fill="none"/>
<path d="M1111.23 2248.4v8M1127.36 2248.4v8M1131.39 2248.4v8M1151.54 2248.4v8M1158.26 2248.4v8M1202.6 2248.4v8M1242.91 2248.4v8M1359.8 2248.4v8M1381.3 2248.4v8M1393.4 2248.4v8M1414.89 2248.4v8M1432.36 2248.4v8M1445.8 2248.4v8M1460.58 2248.4v8M1465.95 2248.4v8M1467.3 2248.4v8M1487.45 2248.4v8M1508.95 2248.4v8M1527.76 2248.4v8M1557.32 2248.4v8M1577.47 2248.4v8M1592.25 2248.4v8M1593.6 2248.4v8M1603 2248.4v8M1640.62 2248.4v8M1663.47 2248.4v8M1688.99 2248.4v8M1706.46 2248.4v8M1736.02 2248.4v8M1737.36 2248.4v8M1766.92 2248.4v8M1779.02 2248.4v8M1784.39 2248.4v8M1819.33 2248.4v8M1846.2 2248.4v8M1879.79 2248.4v8M1897.26 2248.4v8M1965.78 2248.4v8M1980.56 2248.4v8M1994 2248.4v8M2026.24 2248.4v8M2050.43 2248.4v8" stroke="#b79fd0" stroke-width="1.44" fill="none"/>
<path d="M1112.58 2248.4v8M1121.98 2248.4v8M1126.01 2248.4v8M1128.7 2248.4v8M1139.45 2248.4v8M1144.82 2248.4v8M1155.57 2248.4v8M1163.64 2248.4v8M1164.98 2248.4v8M1171.7 2248.4v8M1175.73 2248.4v8M1182.45 2248.4v8M1203.94 2248.4v8M1206.63 2248.4v8M1210.66 2248.4v8M1212.01 2248.4v8M1248.28 2248.4v8M1252.31 2248.4v8M1257.69 2248.4v8M1267.09 2248.4v8M1273.81 2248.4v8M1275.16 2248.4v8M1281.87 2248.4v8M1284.56 2248.4v8M1288.59 2248.4v8M1289.94 2248.4v8M1302.03 2248.4v8M1303.37 2248.4v8M1319.5 2248.4v8M1323.53 2248.4v8M1328.9 2248.4v8M1350.4 2248.4v8M1355.77 2248.4v8M1361.15 2248.4v8M1370.55 2248.4v8M1396.08 2248.4v8M1400.11 2248.4v8M1404.14 2248.4v8M1413.55 2248.4v8M1421.61 2248.4v8M1422.96 2248.4v8M1433.7 2248.4v8M1441.77 2248.4v8M1455.2 2248.4v8M1472.67 2248.4v8M1500.89 2248.4v8M1510.29 2248.4v8M1531.79 2248.4v8M1535.82 2248.4v8M1542.54 2248.4v8M1543.88 2248.4v8M1545.23 2248.4v8M1551.94 2248.4v8M1561.35 2248.4v8M1582.85 2248.4v8M1584.19 2248.4v8M1594.94 2248.4v8M1596.28 2248.4v8M1600.31 2248.4v8M1619.13 2248.4v8M1625.84 2248.4v8M1639.28 2248.4v8M1651.37 2248.4v8M1654.06 2248.4v8M1656.75 2248.4v8M1662.12 2248.4v8M1678.24 2248.4v8M1699.74 2248.4v8M1719.9 2248.4v8M1746.77 2248.4v8M1768.27 2248.4v8M1777.67 2248.4v8M1780.36 2248.4v8M1787.08 2248.4v8M1791.11 2248.4v8M1796.48 2248.4v8M1804.55 2248.4v8M1809.92 2248.4v8M1816.64 2248.4v8M1822.01 2248.4v8M1832.76 2248.4v8M1844.85 2248.4v8M1855.6 2248.4v8M1856.95 2248.4v8M1858.29 2248.4v8M1875.76 2248.4v8M1877.1 2248.4v8M1912.04 2248.4v8M1914.72 2248.4v8M1921.44 2248.4v8M1924.13 2248.4v8M1926.82 2248.4v8M1945.63 2248.4v8M1951 2248.4v8M1956.38 2248.4v8M1957.72 2248.4v8M1960.41 2248.4v8M1985.94 2248.4v8M1998.03 2248.4v8M1999.37 2248.4v8M2006.09 2248.4v8M2010.12 2248.4v8M2024.9 2248.4v8M2028.93 2248.4v8M2031.62 2248.4v8M2057.15 2248.4v8M2059.84 2248.4v8" stroke="#e9566a" stroke-width="1.44" fill="none"/>
<path d="M1113.92 2248.4v8M1119.3 2248.4v8M1130.04 2248.4v8M1213.35 2248.4v8M1229.47 2248.4v8M1233.5 2248.4v8M1238.88 2248.4v8M1261.72 2248.4v8M1293.97 2248.4v8M1332.93 2248.4v8M1346.37 2248.4v8M1354.43 2248.4v8M1374.58 2248.4v8M1375.93 2248.4v8M1385.33 2248.4v8M1452.52 2248.4v8M1469.98 2248.4v8M1492.82 2248.4v8M1519.7 2248.4v8M1558.66 2248.4v8M1578.82 2248.4v8M1623.16 2248.4v8M1648.69 2248.4v8M1666.15 2248.4v8M1674.21 2248.4v8M1676.9 2248.4v8M1680.93 2248.4v8M1690.34 2248.4v8M1697.06 2248.4v8M1701.09 2248.4v8M1710.49 2248.4v8M1717.21 2248.4v8M1730.65 2248.4v8M1785.74 2248.4v8M1795.14 2248.4v8M1826.04 2248.4v8M1851.57 2248.4v8M1867.7 2248.4v8M1870.38 2248.4v8M1874.41 2248.4v8M1878.45 2248.4v8M1929.5 2248.4v8M1941.6 2248.4v8M1969.81 2248.4v8M1973.84 2248.4v8M1996.68 2248.4v8M2030.28 2248.4v8" stroke="#4f7fcc" stroke-width="1.44" fill="none"/>
<path d="M1117.95 2248.4v8M1140.79 2248.4v8M1159.6 2248.4v8M1166.32 2248.4v8M1173.04 2248.4v8M1191.85 2248.4v8M1205.29 2248.4v8M1209.32 2248.4v8M1220.07 2248.4v8M1224.1 2248.4v8M1234.85 2248.4v8M1397.43 2248.4v8M1409.52 2248.4v8M1424.3 2248.4v8M1429.67 2248.4v8M1435.05 2248.4v8M1447.14 2248.4v8M1453.86 2248.4v8M1463.26 2248.4v8M1499.54 2248.4v8M1537.16 2248.4v8M1538.51 2248.4v8M1554.63 2248.4v8M1570.75 2248.4v8M1605.69 2248.4v8M1616.44 2248.4v8M1646 2248.4v8M1667.5 2248.4v8M1679.59 2248.4v8M1683.62 2248.4v8M1705.12 2248.4v8M1744.08 2248.4v8M1750.8 2248.4v8M1757.52 2248.4v8M1764.24 2248.4v8M1769.61 2248.4v8M1783.05 2248.4v8M1813.95 2248.4v8M1817.98 2248.4v8M1834.11 2248.4v8M1840.82 2248.4v8M1889.19 2248.4v8M1894.57 2248.4v8M1902.63 2248.4v8M1933.53 2248.4v8M1964.44 2248.4v8M1967.13 2248.4v8M1972.5 2248.4v8M1976.53 2248.4v8M1981.91 2248.4v8M2000.72 2248.4v8M2012.81 2248.4v8M2032.96 2248.4v8M2054.46 2248.4v8M2066.55 2248.4v8M2070.58 2248.4v8" stroke="#f08a9a" stroke-width="1.44" fill="none"/>
<path d="M1123.33 2248.4v8M1193.19 2248.4v8M1217.38 2248.4v8M1230.82 2248.4v8M1249.63 2248.4v8M1263.06 2248.4v8M1265.75 2248.4v8M1272.47 2248.4v8M1292.62 2248.4v8M1295.31 2248.4v8M1318.15 2248.4v8M1336.96 2248.4v8M1343.68 2248.4v8M1365.18 2248.4v8M1377.27 2248.4v8M1451.17 2248.4v8M1464.61 2248.4v8M1484.76 2248.4v8M1490.14 2248.4v8M1495.51 2248.4v8M1507.6 2248.4v8M1521.04 2248.4v8M1566.72 2248.4v8M1572.1 2248.4v8M1607.03 2248.4v8M1624.5 2248.4v8M1631.22 2248.4v8M1644.65 2248.4v8M1709.15 2248.4v8M1714.52 2248.4v8M1721.24 2248.4v8M1726.62 2248.4v8M1727.96 2248.4v8M1756.18 2248.4v8M1762.89 2248.4v8M1765.58 2248.4v8M1772.3 2248.4v8M1776.33 2248.4v8M1827.39 2248.4v8M1854.26 2248.4v8M1863.67 2248.4v8M1948.31 2248.4v8M1975.19 2248.4v8M1989.97 2248.4v8M2016.84 2248.4v8M2022.21 2248.4v8M2046.4 2248.4v8M2051.77 2248.4v8M2063.87 2248.4v8" stroke="#e07a4a" stroke-width="1.44" fill="none"/>
<path d="M1124.67 2248.4v8M1169.01 2248.4v8M1170.35 2248.4v8M1269.78 2248.4v8M1279.19 2248.4v8M1298 2248.4v8M1306.06 2248.4v8M1307.4 2248.4v8M1320.84 2248.4v8M1327.56 2248.4v8M1379.96 2248.4v8M1390.71 2248.4v8M1417.58 2248.4v8M1474.01 2248.4v8M1475.36 2248.4v8M1476.7 2248.4v8M1514.32 2248.4v8M1530.45 2248.4v8M1576.13 2248.4v8M1609.72 2248.4v8M1636.59 2248.4v8M1643.31 2248.4v8M1647.34 2248.4v8M1668.84 2248.4v8M1694.37 2248.4v8M1723.93 2248.4v8M1749.46 2248.4v8M1753.49 2248.4v8M1754.83 2248.4v8M1792.45 2248.4v8M1800.52 2248.4v8M1824.7 2248.4v8M1847.54 2248.4v8M1862.32 2248.4v8M1871.73 2248.4v8M1881.13 2248.4v8M1898.6 2248.4v8M1903.97 2248.4v8M1909.35 2248.4v8M1953.69 2248.4v8M1983.25 2248.4v8M2003.4 2248.4v8M2027.59 2248.4v8M2034.31 2248.4v8M2041.02 2248.4v8M2071.93 2248.4v8" stroke="#e0485a" stroke-width="1.44" fill="none"/>
<path d="M1134.08 2248.4v8M1185.13 2248.4v8M1221.41 2248.4v8M1244.25 2248.4v8M1246.94 2248.4v8M1268.44 2248.4v8M1277.84 2248.4v8M1285.91 2248.4v8M1287.25 2248.4v8M1310.09 2248.4v8M1347.71 2248.4v8M1392.05 2248.4v8M1398.77 2248.4v8M1440.42 2248.4v8M1449.83 2248.4v8M1456.55 2248.4v8M1488.79 2248.4v8M1498.2 2248.4v8M1533.13 2248.4v8M1534.48 2248.4v8M1547.91 2248.4v8M1550.6 2248.4v8M1586.88 2248.4v8M1613.75 2248.4v8M1620.47 2248.4v8M1632.56 2248.4v8M1633.91 2248.4v8M1658.09 2248.4v8M1659.43 2248.4v8M1660.78 2248.4v8M1670.18 2248.4v8M1686.31 2248.4v8M1703.77 2248.4v8M1707.8 2248.4v8M1718.55 2248.4v8M1905.32 2248.4v8M1908.01 2248.4v8M1936.22 2248.4v8M1942.94 2248.4v8M1952.35 2248.4v8M1987.28 2248.4v8M2011.46 2248.4v8M2053.12 2248.4v8M2058.49 2248.4v8" stroke="#6cc3b5" stroke-width="1.44" fill="none"/>
<path d="M1135.42 2248.4v8M1148.86 2248.4v8M1150.2 2248.4v8M1167.67 2248.4v8M1177.07 2248.4v8M1198.57 2248.4v8M1201.26 2248.4v8M1207.97 2248.4v8M1218.72 2248.4v8M1222.75 2248.4v8M1225.44 2248.4v8M1253.66 2248.4v8M1255 2248.4v8M1256.35 2248.4v8M1259.03 2248.4v8M1299.34 2248.4v8M1308.75 2248.4v8M1311.43 2248.4v8M1315.47 2248.4v8M1353.09 2248.4v8M1386.68 2248.4v8M1405.49 2248.4v8M1428.33 2248.4v8M1504.92 2248.4v8M1518.35 2248.4v8M1564.04 2248.4v8M1565.38 2248.4v8M1573.44 2248.4v8M1580.16 2248.4v8M1581.5 2248.4v8M1598.97 2248.4v8M1641.97 2248.4v8M1652.72 2248.4v8M1655.4 2248.4v8M1675.56 2248.4v8M1684.96 2248.4v8M1695.71 2248.4v8M1729.3 2248.4v8M1803.2 2248.4v8M1808.58 2248.4v8M1848.89 2248.4v8M1866.35 2248.4v8M1873.07 2248.4v8M1882.48 2248.4v8M1883.82 2248.4v8M1885.16 2248.4v8M1886.51 2248.4v8M1887.85 2248.4v8M1895.91 2248.4v8M1918.75 2248.4v8M1961.75 2248.4v8M1991.31 2248.4v8M1992.65 2248.4v8M2007.43 2248.4v8M2019.53 2248.4v8M2043.71 2248.4v8" stroke="#e9776a" stroke-width="1.44" fill="none"/>
<path d="M1136.76 2248.4v8M1146.17 2248.4v8M1160.95 2248.4v8M1162.29 2248.4v8M1183.79 2248.4v8M1187.82 2248.4v8M1195.88 2248.4v8M1214.69 2248.4v8M1216.04 2248.4v8M1250.97 2248.4v8M1264.41 2248.4v8M1312.78 2248.4v8M1316.81 2248.4v8M1326.21 2248.4v8M1335.62 2248.4v8M1342.34 2248.4v8M1373.24 2248.4v8M1420.27 2248.4v8M1443.11 2248.4v8M1448.48 2248.4v8M1459.23 2248.4v8M1482.08 2248.4v8M1496.86 2248.4v8M1502.23 2248.4v8M1515.67 2248.4v8M1517.01 2248.4v8M1553.29 2248.4v8M1555.97 2248.4v8M1627.19 2248.4v8M1715.87 2248.4v8M1738.71 2248.4v8M1741.4 2248.4v8M1774.99 2248.4v8M1789.77 2248.4v8M1797.83 2248.4v8M1823.36 2248.4v8M1831.42 2248.4v8M1838.14 2248.4v8M1843.51 2248.4v8M1869.04 2248.4v8M1913.38 2248.4v8M2002.06 2248.4v8M2015.5 2248.4v8M2018.18 2248.4v8M2035.65 2248.4v8M2036.99 2248.4v8M2038.34 2248.4v8M2061.18 2248.4v8" stroke="#8f7fc0" stroke-width="1.44" fill="none"/>
<path d="M1142.14 2248.4v8M1143.48 2248.4v8M1152.89 2248.4v8M1154.23 2248.4v8M1181.1 2248.4v8M1226.79 2248.4v8M1232.16 2248.4v8M1245.6 2248.4v8M1338.31 2248.4v8M1358.46 2248.4v8M1362.49 2248.4v8M1461.92 2248.4v8M1471.33 2248.4v8M1526.41 2248.4v8M1546.57 2248.4v8M1585.53 2248.4v8M1590.91 2248.4v8M1597.63 2248.4v8M1615.09 2248.4v8M1629.87 2248.4v8M1637.94 2248.4v8M1702.43 2248.4v8M1722.58 2248.4v8M1731.99 2248.4v8M1734.68 2248.4v8M1740.05 2248.4v8M1748.11 2248.4v8M1752.14 2248.4v8M1761.55 2248.4v8M1770.96 2248.4v8M1807.23 2248.4v8M1812.61 2248.4v8M1815.3 2248.4v8M1916.07 2248.4v8M1920.1 2248.4v8M1925.47 2248.4v8M1930.85 2248.4v8M1946.97 2248.4v8M1955.03 2248.4v8M1963.09 2248.4v8M1988.62 2248.4v8M2039.68 2248.4v8M2045.06 2248.4v8M2047.74 2248.4v8M2055.8 2248.4v8M2062.52 2248.4v8M2067.9 2248.4v8" stroke="#3fa98a" stroke-width="1.44" fill="none"/>
<path d="M1597.3 2267.3V2274H1653.7V2267.3" fill="none" stroke="#000" stroke-width="2.4"/>
<text x="1665.8" y="2290.2" font-size="32.5" text-anchor="start" font-weight="normal" font-style="normal" fill="#000">‘CAG’ STR</text>
<rect x="1103.5" y="2302.25" width="881.8" height="6.3" fill="#cbcbcb"/>
<path d="M1174 2297.2L1184.2 2305.4L1174 2313.6L1175.22 2305.4z" fill="#cbcbcb"/>
<path d="M1287 2297.2L1297.2 2305.4L1287 2313.6L1288.22 2305.4z" fill="#cbcbcb"/>
<path d="M1400 2297.2L1410.2 2305.4L1400 2313.6L1401.22 2305.4z" fill="#cbcbcb"/>
<path d="M1513 2297.2L1523.2 2305.4L1513 2313.6L1514.22 2305.4z" fill="#cbcbcb"/>
<path d="M1827 2297.2L1837.2 2305.4L1827 2313.6L1828.22 2305.4z" fill="#cbcbcb"/>
<path d="M1921 2297.2L1931.2 2305.4L1921 2313.6L1922.22 2305.4z" fill="#cbcbcb"/>
<rect x="1595.8" y="2300.9" width="159.2" height="9" fill="#4d5ba6"/>
<rect x="2000.8" y="2301.4" width="66.4" height="4" fill="#000"/>
<text x="1687.6" y="2341.4" font-size="32.9" text-anchor="middle" font-weight="normal" font-style="normal" fill="#000">Exon 10</text>
<text x="2037" y="2341.4" font-size="32.9" text-anchor="middle" font-weight="normal" font-style="normal" fill="#000">50 bp</text>
<text x="544.5" y="2398" font-size="32.9" text-anchor="middle" font-weight="normal" font-style="italic" fill="#000">130 bp insertion indicates STR expansion</text>
<text x="1587.7" y="2398" font-size="32.9" text-anchor="middle" font-weight="normal" font-style="italic" fill="#000">Soft-clipped alignments at STR site; SV not resolved</text>
</g>
</svg></body></html>
